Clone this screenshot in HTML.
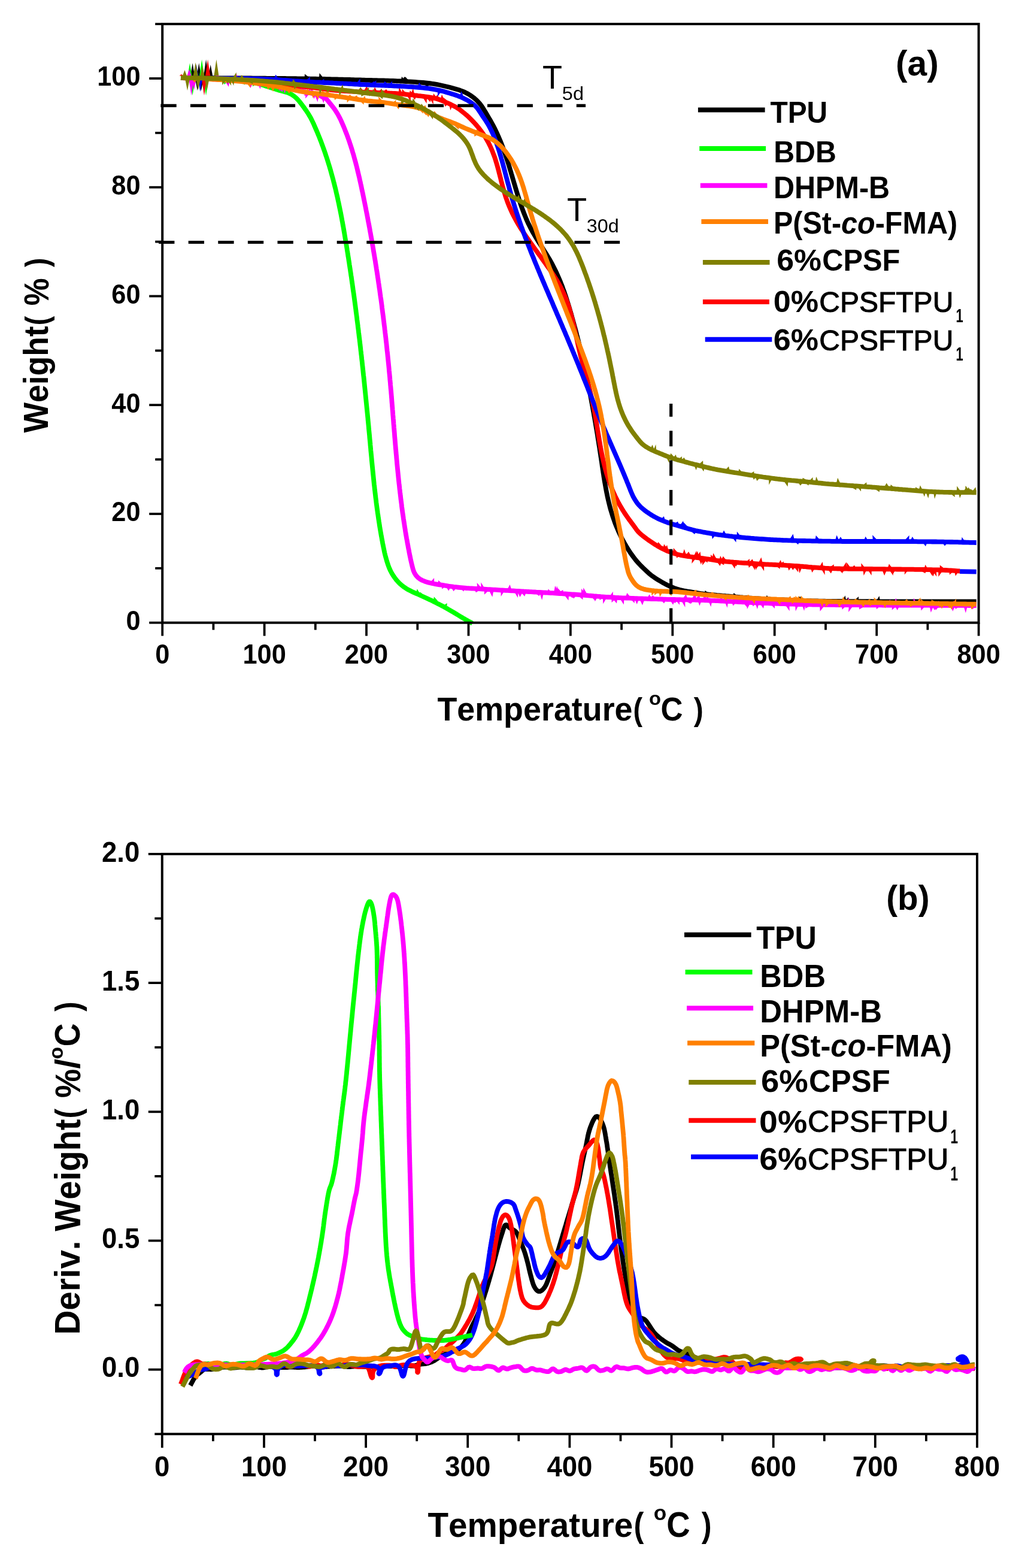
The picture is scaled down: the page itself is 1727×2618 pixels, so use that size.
<!DOCTYPE html>
<html><head><meta charset="utf-8"><style>
html,body{margin:0;padding:0;background:#fff;width:1727px;height:2618px;overflow:hidden}
svg{display:block}
text{font-kerning:none;font-feature-settings:'kern' 0;}
</style></head><body>
<svg width="1727" height="2618" viewBox="0 0 1727 2618">
<rect width="1727" height="2618" fill="#fff"/>
<path d="M302 130 L305 130 L308 130 L311 130 L314 130 L317 130.1 L320 130.1 L323 130.1 L326 130.1 L329 130.1 L332 130.1 L335 130.1 L338 130.1 L341 130.2 L344 130.2 L347 130.2 L350 130.2 L353 130.2 L356 130.2 L359 130.2 L362 130.3 L365 130.3 L368 130.3 L371 130.3 L374 130.3 L377 130.3 L380 130.3 L383 130.4 L386 130.4 L389 130.4 L392 130.4 L395 130.4 L398 130.4 L401 130.4 L404 130.5 L407 130.5 L410 130.5 L413 130.5 L416 130.5 L419 130.5 L422 130.6 L425 130.6 L428 130.6 L431 130.6 L434 130.7 L437 130.7 L440 130.7 L443 130.7 L446 130.8 L449 130.8 L452 130.8 L455 130.8 L458 130.9 L461 130.9 L464 130.9 L467 130.9 L470 131 L473 131 L476 131 L479 131.1 L482 131.1 L485 131.1 L488 131.2 L491 131.2 L494 131.2 L497 131.3 L500 131.3 L503 131.3 L506 131.4 L509 131.4 L512 131.5 L515 131.5 L518 131.6 L521 131.6 L524 131.7 L527 131.7 L530 131.8 L533 131.8 L536 131.9 L539 131.9 L542 132 L545 132.1 L548 132.1 L551 132.2 L554 132.3 L557 132.3 L560 132.4 L563 132.5 L566 132.6 L569 132.6 L572 132.7 L575 132.8 L578 132.9 L581 133 L584 133 L587 133.1 L590 133.2 L593 133.3 L596 133.4 L599 133.4 L602 133.5 L605 133.6 L608 133.7 L611 133.8 L614 133.8 L617 133.9 L620 134 L623 134.1 L626 134.2 L629 134.2 L632 134.3 L635 134.4 L638 134.4 L641 134.5 L644 134.6 L647 134.7 L651.5 134.8 L656 134.9 L660.5 135.1 L663.4 135.3 L666.4 135.4 L669.4 135.5 L672.4 135.7 L675.4 135.8 L678.4 136 L681.4 136.2 L684.4 136.3 L688.9 136.6 L693.4 136.9 L697.9 137.3 L702.4 137.6 L706.9 138 L711.3 138.5 L715.8 139 L720.3 139.5 L724.7 140.2 L729.2 140.9 L733.6 141.8 L738 142.7 L742.4 143.7 L746.7 144.7 L751.1 145.8 L755.5 147 L759.8 148.2 L764.1 149.4 L768.4 150.8 L772.6 152.3 L776.7 154.1 L780.7 156.2 L784.6 158.5 L788.3 161 L791.9 163.7 L795.3 166.6 L798.4 169.8 L801.4 173.2 L804.1 176.7 L806.6 180.5 L809 184.3 L811.3 188.1 L813.6 192 L815.9 195.9 L818.2 199.7 L820.4 203.7 L822.6 207.6 L824.7 211.6 L826.7 215.6 L828.7 219.7 L830.6 223.7 L832.4 227.8 L834.2 232 L835.9 236.1 L837.6 240.3 L839.2 244.5 L840.8 248.7 L842.3 253 L843.8 257.2 L845.2 261.5 L846.6 265.7 L848 270 L849.4 274.3 L850.7 278.6 L851.5 281.5 L852.4 284.4 L853.3 287.2 L854.1 290.1 L855 293 L855.8 295.9 L856.6 298.8 L857.5 301.6 L858.3 304.5 L859.2 307.4 L860 310.3 L860.9 313.1 L861.7 316 L862.6 318.9 L863.9 323.2 L865.2 327.5 L866.6 331.8 L868 336.1 L869.4 340.3 L870.9 344.6 L872.4 348.8 L874 353 L875.6 357.2 L877.3 361.4 L879 365.6 L880.8 369.7 L882.7 373.8 L884.7 377.8 L886.7 381.8 L888.8 385.8 L891 389.7 L893.3 393.6 L895.6 397.5 L898 401.3 L900.4 405.1 L902 407.6 L903.6 410.2 L905.2 412.7 L906.8 415.2 L908.4 417.8 L910.8 421.6 L913.2 425.4 L915.5 429.2 L917.8 433.1 L920 437 L922.2 441 L924.3 445 L926.3 449 L928.3 453 L930.2 457.1 L932 461.2 L933.8 465.3 L935.6 469.5 L937.2 473.6 L938.9 477.8 L940.4 482.1 L942 486.3 L943.4 490.5 L944.9 494.8 L946.3 499.1 L947.6 503.4 L949 507.7 L950.3 512 L951.6 516.3 L952.4 519.2 L953.3 522 L954.1 524.9 L954.9 527.8 L955.7 530.7 L956.5 533.6 L957.3 536.5 L958.1 539.4 L958.9 542.3 L959.7 545.2 L960.5 548.1 L961.3 551 L962 553.9 L962.8 556.8 L963.5 559.7 L964.3 562.6 L965 565.5 L965.8 568.4 L966.5 571.3 L967.2 574.2 L967.9 577.1 L968.6 580 L969.4 583 L970.1 585.9 L970.8 588.8 L971.4 591.7 L972.1 594.6 L972.8 597.5 L973.5 600.5 L974.1 603.4 L974.8 606.3 L975.5 609.2 L976.1 612.2 L976.8 615.1 L977.4 618 L978 621 L978.7 623.9 L979.3 626.8 L979.9 629.8 L980.5 632.7 L981.2 635.6 L981.8 638.6 L982.4 641.5 L983 644.5 L983.6 647.4 L984.1 650.3 L984.7 653.3 L985.3 656.2 L985.9 659.2 L986.4 662.1 L987 665.1 L987.6 668 L988.1 671 L988.7 673.9 L989.2 676.9 L989.8 679.8 L990.3 682.8 L990.8 685.7 L991.4 688.7 L991.9 691.6 L992.4 694.6 L993 697.5 L993.5 700.5 L994 703.4 L994.5 706.4 L995 709.4 L995.5 712.3 L996 715.3 L996.5 718.2 L997 721.2 L997.5 724.1 L998 727.1 L998.4 730.1 L998.9 733 L999.4 736 L999.9 739 L1000.3 741.9 L1000.8 744.9 L1001.3 747.8 L1001.7 750.8 L1002.2 753.8 L1002.6 756.7 L1003.1 759.7 L1003.5 762.7 L1004 765.6 L1004.4 768.6 L1004.9 771.6 L1005.3 774.5 L1005.7 777.5 L1006.2 780.5 L1006.6 783.4 L1007.1 786.4 L1007.5 789.4 L1008 792.3 L1008.4 795.3 L1008.9 798.3 L1009.6 802.7 L1010.4 807.1 L1011.2 811.6 L1012 816 L1012.8 820.4 L1013.7 824.8 L1014.6 829.2 L1015.6 833.6 L1016.6 838 L1017.7 842.4 L1018.8 846.7 L1020 851.1 L1021.3 855.4 L1022.6 859.7 L1024 864 L1025.5 868.2 L1027 872.5 L1028.6 876.7 L1030.3 880.8 L1032.1 885 L1033.9 889.1 L1035.8 893.1 L1037.8 897.2 L1039.9 901.2 L1042 905.1 L1044.2 909.1 L1046.5 912.9 L1048.9 916.8 L1051.3 920.5 L1053.8 924.3 L1056.4 927.9 L1059.1 931.5 L1061.9 935.1 L1064.8 938.5 L1067.9 941.8 L1071 945.1 L1074.2 948.2 L1077.4 951.3 L1080.7 954.4 L1084 957.4 L1087.5 960.3 L1091.1 962.9 L1094.8 965.5 L1098.6 967.9 L1102.5 970.2 L1106.4 972.5 L1110.3 974.6 L1114.3 976.7 L1118.4 978.6 L1122.5 980.4 L1126.7 982.1 L1130.9 983.5 L1135.2 984.8 L1139.6 985.8 L1144 986.7 L1148.5 987.5 L1152.9 988.2 L1157.3 988.9 L1161.8 989.7 L1166.2 990.3 L1170.7 991 L1175.1 991.6 L1179.6 992.1 L1184.1 992.6 L1188.6 993.1 L1193 993.5 L1197.5 993.9 L1200.5 994.1 L1203.5 994.4 L1206.5 994.7 L1209.5 994.9 L1212.5 995.2 L1215.5 995.4 L1218.4 995.7 L1221.4 996 L1224.4 996.2 L1227.4 996.5 L1230.4 996.7 L1233.4 997 L1236.4 997.3 L1239.4 997.5 L1242.3 997.8 L1245.3 998 L1248.3 998.2 L1251.3 998.5 L1254.3 998.7 L1257.3 998.9 L1260.3 999.1 L1263.3 999.3 L1266.3 999.5 L1269.3 999.7 L1272.3 999.9 L1275.3 1000.1 L1278.3 1000.2 L1281.3 1000.4 L1284.3 1000.5 L1287.3 1000.7 L1290.3 1000.8 L1293.2 1000.9 L1296.2 1001 L1299.2 1001.2 L1302.2 1001.3 L1305.2 1001.4 L1308.2 1001.5 L1311.2 1001.6 L1314.2 1001.7 L1317.2 1001.8 L1320.2 1001.9 L1323.2 1002 L1326.2 1002.1 L1329.2 1002.2 L1332.2 1002.4 L1335.2 1002.5 L1338.2 1002.6 L1341.2 1002.7 L1344.2 1002.9 L1347.2 1003 L1350.2 1003.1 L1353.2 1003.2 L1356.2 1003.3 L1359.2 1003.4 L1362.2 1003.5 L1365.2 1003.5 L1368.2 1003.6 L1371.2 1003.6 L1374.2 1003.7 L1377.2 1003.7 L1380.2 1003.8 L1383.2 1003.8 L1386.2 1003.9 L1389.2 1003.9 L1392.2 1003.9 L1395.2 1004 L1398.2 1004 L1401.2 1004 L1404.2 1004 L1407.2 1004 L1410.2 1004.1 L1413.2 1004.1 L1416.2 1004.1 L1419.2 1004.1 L1422.2 1004.1 L1425.2 1004.1 L1428.2 1004.2 L1431.2 1004.2 L1434.2 1004.2 L1437.2 1004.2 L1440.2 1004.2 L1443.2 1004.2 L1446.2 1004.2 L1449.2 1004.2 L1452.2 1004.2 L1455.2 1004.2 L1458.2 1004.3 L1461.2 1004.3 L1464.2 1004.3 L1467.2 1004.3 L1470.2 1004.3 L1473.2 1004.3 L1476.2 1004.3 L1479.2 1004.3 L1482.2 1004.3 L1485.2 1004.3 L1488.2 1004.3 L1491.2 1004.3 L1494.2 1004.3 L1497.2 1004.3 L1500.2 1004.3 L1503.2 1004.4 L1506.2 1004.4 L1509.2 1004.4 L1512.2 1004.4 L1515.2 1004.4 L1518.2 1004.4 L1521.2 1004.4 L1524.2 1004.4 L1527.2 1004.4 L1530.2 1004.4 L1533.2 1004.4 L1536.2 1004.4 L1539.2 1004.4 L1542.2 1004.4 L1545.2 1004.4 L1548.2 1004.4 L1551.2 1004.4 L1554.2 1004.4 L1557.2 1004.4 L1560.2 1004.4 L1563.2 1004.4 L1566.2 1004.4 L1569.2 1004.4 L1572.2 1004.4 L1575.2 1004.4 L1578.2 1004.4 L1581.2 1004.4 L1584.2 1004.4 L1587.2 1004.4 L1590.2 1004.4 L1593.2 1004.5 L1596.2 1004.5 L1599.2 1004.5 L1602.2 1004.5 L1605.2 1004.5 L1608.2 1004.5 L1611.2 1004.5 L1614.2 1004.5 L1617.2 1004.5 L1620.2 1004.5 L1623.2 1004.5 L1626.2 1004.5 L1629.2 1004.5 L1630.7 1004.5" stroke="#000000" stroke-width="7.8" fill="none" stroke-linejoin="round" stroke-linecap="butt"/>
<path d="M508.8 128.4 L515.2 128.4 L508.9 123.5 Z M517.9 134.7 L524.1 134.7 L517.6 137.9 Z M533 128.8 L539 128.8 L533.6 122.1 Z M670.1 132.6 L674.8 132.6 L671 127.7 Z M672.2 132.7 L678.7 132.7 L675.6 128.1 Z M675.7 132.9 L681.2 132.9 L677 128.1 Z M710.5 141.8 L716.7 141.8 L712.2 148.6 Z M1177.4 989 L1181.8 989 L1177.2 985.7 Z M1224.7 993.4 L1230.1 993.4 L1225.4 989.9 Z M1279 997.3 L1283.5 997.3 L1280.8 993.9 Z M1323 1005.2 L1329.5 1005.2 L1324.7 1009.1 Z M1331.9 999.4 L1338.5 999.4 L1336.3 995.7 Z M1407.7 1001 L1412.7 1001 L1411.8 994.2 Z M1414 1001 L1418.4 1001 L1416.6 997 Z M1428.5 1001.1 L1433.9 1001.1 L1434.2 995.9 Z M1440.8 1007.3 L1445.6 1007.3 L1441.2 1012.4 Z M1464.8 1001.2 L1469.6 1001.2 L1468.6 995.1 Z M1544.9 1007.5 L1551.5 1007.5 L1549 1011.1 Z" fill="#000000"/>
<path d="M302 130 L305 130.1 L308 130.2 L311 130.3 L314 130.4 L317 130.5 L320 130.6 L323 130.7 L326 130.8 L329 130.9 L332 131 L335 131.1 L338 131.2 L341 131.3 L344 131.4 L347 131.6 L350 131.7 L353 131.8 L356 131.9 L359 132 L362 132.1 L365 132.3 L368 132.4 L371 132.5 L374 132.7 L377 132.8 L380 133 L383 133.2 L386 133.4 L389 133.6 L392 133.8 L395 134 L398 134.3 L401 134.6 L404 134.9 L407 135.2 L410 135.6 L412.9 136 L415.9 136.4 L418.9 136.9 L421.8 137.4 L424.8 138 L427.7 138.7 L430.6 139.5 L433.5 140.3 L436.3 141.2 L439.2 142.1 L442.1 143 L444.9 144 L447.8 144.9 L450.6 145.8 L453.5 146.7 L456.3 147.7 L459.2 148.6 L462.1 149.5 L464.9 150.4 L467.8 151.2 L470.7 151.9 L473.6 152.7 L478 153.9 L482.2 155.4 L486.2 157.3 L490 159.7 L493.5 162.5 L496.7 165.6 L499.7 169 L502.5 172.5 L504.3 174.9 L506.1 177.3 L507.9 179.7 L509.6 182.2 L511.3 184.6 L513 187.1 L514.7 189.6 L516.2 192.2 L518.5 196.1 L519.9 198.7 L521.2 201.4 L522.5 204.1 L523.8 206.8 L525 209.6 L526.2 212.3 L527.4 215.1 L528.6 217.8 L529.8 220.6 L530.9 223.4 L532.1 226.2 L533.2 228.9 L534.3 231.7 L535.4 234.5 L536.5 237.3 L537.5 240.2 L538.6 243 L539.6 245.8 L540.6 248.6 L541.6 251.4 L542.6 254.3 L543.6 257.1 L544.5 260 L545.5 262.8 L546.4 265.7 L547.3 268.5 L548.2 271.4 L549.1 274.3 L550 277.2 L550.8 280 L551.7 282.9 L552.5 285.8 L553.3 288.7 L554.1 291.6 L554.9 294.5 L555.7 297.4 L556.5 300.3 L557.2 303.2 L558 306.1 L558.7 309 L559.4 311.9 L560.2 314.8 L560.9 317.8 L561.5 320.7 L562.2 323.6 L562.9 326.5 L563.6 329.5 L564.2 332.4 L564.8 335.3 L565.5 338.3 L566.1 341.2 L566.7 344.2 L567.3 347.1 L567.9 350 L568.5 353 L569.1 355.9 L569.7 358.9 L570.2 361.8 L570.8 364.8 L571.3 367.7 L571.9 370.7 L572.4 373.6 L572.9 376.6 L573.5 379.6 L574 382.5 L574.5 385.5 L575 388.4 L575.5 391.4 L576 394.4 L576.5 397.3 L577 400.3 L577.5 403.2 L578 406.2 L578.5 409.2 L579 412.1 L579.5 415.1 L579.9 418.1 L580.4 421 L580.9 424 L581.3 427 L581.8 429.9 L582.3 432.9 L582.7 435.9 L583.2 438.8 L583.6 441.8 L584.1 444.8 L584.5 447.7 L585 450.7 L585.4 453.7 L585.9 456.7 L586.3 459.6 L586.8 462.6 L587.2 465.6 L587.6 468.5 L588 471.5 L588.5 474.5 L588.9 477.5 L589.3 480.4 L589.7 483.4 L590.1 486.4 L590.6 489.4 L591 492.3 L591.4 495.3 L591.8 498.3 L592.2 501.3 L592.6 504.2 L593 507.2 L593.4 510.2 L593.8 513.2 L594.2 516.2 L594.5 519.1 L594.9 522.1 L595.3 525.1 L595.7 528.1 L596.1 531.1 L596.4 534 L596.8 537 L597.2 540 L597.6 543 L597.9 546 L598.3 548.9 L598.7 551.9 L599 554.9 L599.4 557.9 L599.7 560.9 L600.1 563.8 L600.5 566.8 L600.8 569.8 L601.2 572.8 L601.5 575.8 L601.9 578.8 L602.2 581.7 L602.5 584.7 L602.9 587.7 L603.2 590.7 L603.6 593.7 L603.9 596.7 L604.2 599.7 L604.6 602.6 L604.9 605.6 L605.2 608.6 L605.5 611.6 L605.9 614.6 L606.2 617.6 L606.5 620.6 L606.8 623.5 L607.1 626.5 L607.5 629.5 L607.8 632.5 L608.1 635.5 L608.4 638.5 L608.7 641.5 L609 644.5 L609.3 647.4 L609.6 650.4 L609.9 653.4 L610.2 656.4 L610.5 659.4 L610.8 662.4 L611.1 665.4 L611.4 668.4 L611.7 671.3 L612 674.3 L612.3 677.3 L612.6 680.3 L612.9 683.3 L613.2 686.3 L613.5 689.3 L613.8 692.3 L614.1 695.3 L614.4 698.3 L614.6 701.2 L614.9 704.2 L615.2 707.2 L615.5 710.2 L615.8 713.2 L616 716.2 L616.3 719.2 L616.6 722.2 L616.9 725.2 L617.2 728.2 L617.4 731.2 L617.7 734.1 L618 737.1 L618.3 740.1 L618.5 743.1 L618.8 746.1 L619.1 749.1 L619.3 752.1 L619.6 755.1 L619.9 758.1 L620.2 761.1 L620.5 764.1 L620.7 767 L621 770 L621.3 773 L621.6 776 L621.9 779 L622.2 782 L622.5 785 L622.8 788 L623.1 791 L623.4 793.9 L623.7 796.9 L624 799.9 L624.3 802.9 L624.6 805.9 L624.9 808.9 L625.3 811.9 L625.6 814.9 L625.9 817.8 L626.3 820.8 L626.6 823.8 L627 826.8 L627.3 829.8 L627.7 832.8 L628.1 835.7 L628.4 838.7 L628.8 841.7 L629.2 844.7 L629.6 847.7 L630 850.6 L630.4 853.6 L630.8 856.6 L631.3 859.6 L631.7 862.5 L632.1 865.5 L632.6 868.5 L633 871.4 L633.5 874.4 L633.9 877.4 L634.4 880.3 L634.9 883.3 L635.4 886.3 L635.9 889.2 L636.4 892.2 L636.9 895.1 L637.5 898.1 L638 901.1 L638.6 904 L639.1 907 L639.7 909.9 L640.3 912.9 L640.9 915.8 L641.5 918.7 L642.4 923.1 L643.5 927.5 L644.3 930.4 L645.1 933.3 L645.9 936.2 L646.8 939 L647.7 941.9 L648.7 944.7 L650.3 948.9 L652.2 953 L654.3 957 L656.6 960.8 L659.2 964.5 L661.9 968.1 L664.9 971.5 L668.1 974.7 L671.5 977.6 L675 980.3 L678.8 982.8 L682.7 985.1 L686.7 987.1 L689.4 988.4 L692.1 989.6 L694.9 990.8 L697.6 992 L700.4 993.2 L703.1 994.5 L705.8 995.7 L708.6 997 L711.3 998.2 L714 999.5 L716.7 1000.8 L719.5 1002 L722.2 1003.3 L724.9 1004.7 L727.6 1006 L730.2 1007.4 L732.9 1008.7 L735.6 1010.1 L738.2 1011.5 L740.9 1012.9 L743.5 1014.4 L746.1 1015.8 L748.8 1017.3 L751.4 1018.8 L754 1020.3 L756.6 1021.8 L759.1 1023.4 L761.7 1024.9 L764.3 1026.5 L766.8 1028 L769.4 1029.6 L772 1031.1 L774.6 1032.7 L777.2 1034.2 L779.8 1035.6 L782.4 1037.1 L785 1038.5 L787.7 1040 L789 1040.7" stroke="#00ff00" stroke-width="7.8" fill="none" stroke-linejoin="round" stroke-linecap="butt"/>
<path d="M368.6 129.4 L373.5 129.4 L372.9 126.6 Z M374 135.9 L380.1 135.9 L374.5 141.2 Z M404.8 138.3 L409.2 138.3 L408.6 141.7 Z M419.1 134.3 L424.5 134.3 L424 128.8 Z M421.9 141.1 L427.6 141.1 L422 144.2 Z M425 135.6 L430.4 135.6 L425.3 129.1 Z M695.1 988.9 L700.1 988.9 L696.7 983.3 Z M700.7 991.4 L705.5 991.4 L701.9 988.4 Z M724.1 1002.9 L731 1002.9 L724.8 996.3 Z M740.4 1011.3 L746.7 1011.3 L746.6 1007 Z" fill="#00ff00"/>
<path d="M302 130 L305 130.1 L308 130.3 L311 130.4 L314 130.5 L317 130.6 L320 130.8 L323 130.9 L326 131 L329 131.1 L332 131.3 L335 131.4 L338 131.5 L341 131.6 L344 131.8 L347 131.9 L350 132 L353 132.2 L356 132.3 L359 132.4 L362 132.6 L365 132.7 L368 132.9 L371 133.1 L374 133.2 L377 133.4 L380 133.6 L383 133.8 L386 134 L388.9 134.2 L391.9 134.4 L394.9 134.6 L397.9 134.8 L400.9 135.1 L403.9 135.4 L406.9 135.7 L409.9 136 L412.9 136.3 L415.8 136.7 L418.8 137 L421.8 137.4 L424.8 137.8 L427.8 138.2 L430.7 138.6 L433.7 139 L436.7 139.4 L439.6 139.9 L442.6 140.4 L445.6 140.8 L448.5 141.3 L451.5 141.8 L454.5 142.3 L457.4 142.8 L460.4 143.3 L463.3 143.8 L466.3 144.4 L469.2 144.9 L472.2 145.4 L475.1 145.9 L478.1 146.5 L481 147.1 L484 147.7 L486.9 148.3 L489.9 148.9 L492.8 149.5 L495.7 150.1 L498.7 150.8 L501.6 151.4 L504.5 152.1 L507.5 152.8 L510.4 153.4 L513.3 154.1 L516.2 154.8 L519.2 155.4 L522.1 156.1 L525 156.8 L529.4 157.9 L533.7 159.1 L537.9 160.6 L541.8 162.7 L545.2 165.4 L548.1 168.7 L550.9 172.2 L553.7 175.7 L556.5 179.2 L559.2 182.9 L561.6 186.6 L564 190.5 L566.1 194.4 L568.2 198.4 L569.5 201.1 L570.7 203.9 L571.9 206.6 L573.1 209.4 L574.3 212.1 L575.4 214.9 L576.5 217.7 L577.6 220.5 L578.7 223.3 L579.8 226.1 L580.8 228.9 L581.8 231.7 L582.8 234.6 L583.8 237.4 L584.7 240.3 L585.7 243.1 L586.6 246 L587.5 248.8 L588.4 251.7 L589.2 254.6 L590.1 257.4 L590.9 260.3 L591.7 263.2 L592.5 266.1 L593.3 269 L594.1 271.9 L594.8 274.8 L595.6 277.7 L596.3 280.6 L597 283.5 L597.7 286.5 L598.4 289.4 L599.1 292.3 L599.8 295.2 L600.5 298.2 L601.1 301.1 L601.8 304 L602.4 306.9 L603.1 309.9 L603.7 312.8 L604.3 315.8 L604.9 318.7 L605.6 321.6 L606.2 324.6 L606.8 327.5 L607.4 330.4 L608 333.4 L608.6 336.3 L609.2 339.3 L609.8 342.2 L610.4 345.2 L611 348.1 L611.5 351 L612.1 354 L612.7 356.9 L613.3 359.9 L613.8 362.8 L614.4 365.8 L614.9 368.7 L615.5 371.7 L616.1 374.6 L616.6 377.6 L617.2 380.5 L617.7 383.5 L618.2 386.4 L618.8 389.4 L619.3 392.3 L619.8 395.3 L620.4 398.3 L620.9 401.2 L621.4 404.2 L621.9 407.1 L622.4 410.1 L622.9 413 L623.4 416 L623.9 419 L624.4 421.9 L624.9 424.9 L625.4 427.8 L625.9 430.8 L626.4 433.8 L626.9 436.7 L627.3 439.7 L627.8 442.7 L628.3 445.6 L628.7 448.6 L629.2 451.6 L629.7 454.5 L630.1 457.5 L630.6 460.5 L631 463.4 L631.5 466.4 L631.9 469.4 L632.3 472.3 L632.8 475.3 L633.2 478.3 L633.6 481.2 L634.1 484.2 L634.5 487.2 L634.9 490.2 L635.3 493.1 L635.7 496.1 L636.2 499.1 L636.6 502.1 L637 505 L637.4 508 L637.8 511 L638.1 514 L638.5 516.9 L638.9 519.9 L639.3 522.9 L639.7 525.9 L640.1 528.8 L640.4 531.8 L640.8 534.8 L641.2 537.8 L641.5 540.8 L641.9 543.7 L642.3 546.7 L642.6 549.7 L643 552.7 L643.3 555.7 L643.7 558.6 L644 561.6 L644.4 564.6 L644.7 567.6 L645 570.6 L645.4 573.6 L645.7 576.5 L646 579.5 L646.3 582.5 L646.6 585.5 L647 588.5 L647.3 591.5 L647.6 594.5 L647.9 597.4 L648.2 600.4 L648.5 603.4 L648.8 606.4 L649.1 609.4 L649.4 612.4 L649.7 615.4 L649.9 618.3 L650.2 621.3 L650.5 624.3 L650.8 627.3 L651.1 630.3 L651.3 633.3 L651.6 636.3 L651.9 639.3 L652.1 642.3 L652.4 645.3 L652.6 648.2 L652.9 651.2 L653.2 654.2 L653.4 657.2 L653.7 660.2 L653.9 663.2 L654.2 666.2 L654.4 669.2 L654.6 672.2 L654.9 675.2 L655.1 678.2 L655.4 681.2 L655.6 684.1 L655.9 687.1 L656.1 690.1 L656.3 693.1 L656.6 696.1 L656.8 699.1 L657.1 702.1 L657.3 705.1 L657.5 708.1 L657.8 711.1 L658 714.1 L658.3 717.1 L658.5 720 L658.8 723 L659 726 L659.2 729 L659.5 732 L659.7 735 L660 738 L660.2 741 L660.5 744 L660.7 747 L661 750 L661.3 753 L661.5 755.9 L661.8 758.9 L662.1 761.9 L662.3 764.9 L662.6 767.9 L662.9 770.9 L663.1 773.9 L663.4 776.9 L663.7 779.9 L664 782.8 L664.3 785.8 L664.6 788.8 L664.9 791.8 L665.2 794.8 L665.5 797.8 L665.8 800.8 L666.1 803.8 L666.4 806.7 L666.8 809.7 L667.1 812.7 L667.4 815.7 L667.8 818.7 L668.1 821.7 L668.5 824.6 L668.8 827.6 L669.2 830.6 L669.5 833.6 L669.9 836.6 L670.3 839.5 L670.7 842.5 L671 845.5 L671.4 848.5 L671.8 851.4 L672.2 854.4 L672.6 857.4 L673.1 860.4 L673.5 863.3 L673.9 866.3 L674.4 869.3 L674.8 872.2 L675.3 875.2 L675.7 878.2 L676.2 881.1 L676.7 884.1 L677.1 887.1 L677.6 890 L678.1 893 L678.6 895.9 L679.1 898.9 L679.7 901.9 L680.2 904.8 L680.7 907.8 L681.3 910.7 L681.8 913.7 L682.4 916.6 L683 919.6 L683.5 922.5 L684.1 925.5 L684.7 928.4 L685.3 931.3 L686.2 935.7 L686.9 938.7 L687.6 941.6 L688.3 944.5 L689.4 948.9 L690.7 953.1 L692.5 957.2 L694.9 960.9 L697.9 964.2 L701.4 966.8 L705.3 969 L709.5 970.7 L713.7 972.1 L718.1 973.2 L722.5 974.2 L725.4 974.8 L728.4 975.3 L731.3 975.8 L734.3 976.3 L737.3 976.7 L740.2 977.2 L743.2 977.7 L746.1 978.1 L749.1 978.6 L752.1 979 L755.1 979.4 L758 979.8 L761 980.1 L764 980.5 L767 980.8 L770 981.1 L773 981.4 L775.9 981.7 L778.9 982 L781.9 982.2 L784.9 982.4 L787.9 982.5 L790.9 982.7 L793.9 982.9 L796.9 983 L799.9 983.2 L802.9 983.4 L805.9 983.5 L808.9 983.7 L811.9 983.9 L814.9 984.1 L817.9 984.2 L820.9 984.4 L823.9 984.6 L826.9 984.7 L829.9 984.9 L832.9 985.1 L835.9 985.3 L838.9 985.4 L841.9 985.6 L844.9 985.8 L847.9 985.9 L850.9 986.1 L853.9 986.3 L856.9 986.4 L859.8 986.6 L862.8 986.8 L865.8 986.9 L868.8 987.1 L871.8 987.3 L874.8 987.5 L877.8 987.6 L880.8 987.8 L883.8 988 L886.8 988.1 L889.8 988.3 L892.8 988.5 L895.8 988.7 L898.8 988.8 L901.8 989 L904.8 989.2 L907.8 989.4 L910.8 989.5 L913.8 989.7 L916.8 989.9 L919.8 990.1 L922.8 990.2 L925.8 990.4 L928.8 990.6 L931.8 990.8 L934.8 991 L937.8 991.1 L940.8 991.3 L943.8 991.5 L946.8 991.7 L949.7 991.9 L952.7 992.1 L955.7 992.3 L958.7 992.5 L961.7 992.7 L964.7 992.9 L967.7 993.1 L970.7 993.4 L973.7 993.6 L976.7 993.9 L979.7 994.1 L982.7 994.4 L985.7 994.6 L988.7 994.9 L991.6 995.2 L994.6 995.4 L997.6 995.7 L1000.6 995.9 L1003.6 996.2 L1006.6 996.4 L1009.6 996.6 L1012.6 996.8 L1015.6 997 L1018.6 997.2 L1021.6 997.4 L1024.6 997.5 L1027.6 997.7 L1030.6 997.8 L1033.6 998 L1036.6 998.1 L1039.6 998.3 L1042.6 998.4 L1045.6 998.5 L1048.6 998.6 L1051.6 998.7 L1054.6 998.9 L1057.6 999 L1060.6 999.1 L1063.6 999.2 L1066.6 999.3 L1069.6 999.4 L1072.6 999.5 L1075.6 999.6 L1078.6 999.7 L1081.6 999.8 L1084.6 999.9 L1087.6 1000 L1090.6 1000.1 L1093.6 1000.1 L1096.6 1000.2 L1099.6 1000.3 L1102.6 1000.4 L1105.6 1000.5 L1108.6 1000.6 L1111.6 1000.7 L1114.6 1000.8 L1117.6 1000.8 L1120.6 1000.9 L1123.6 1001 L1126.6 1001 L1129.6 1001.1 L1132.6 1001.1 L1135.6 1001.2 L1138.6 1001.3 L1141.6 1001.3 L1144.6 1001.4 L1147.6 1001.4 L1150.6 1001.5 L1153.6 1001.6 L1156.6 1001.7 L1159.6 1001.7 L1162.6 1001.8 L1165.6 1001.9 L1168.6 1002 L1171.6 1002.1 L1174.6 1002.2 L1177.6 1002.3 L1180.6 1002.4 L1183.6 1002.5 L1186.6 1002.7 L1189.6 1002.8 L1192.6 1002.9 L1195.6 1003.1 L1198.6 1003.2 L1201.6 1003.3 L1204.6 1003.5 L1207.6 1003.6 L1210.6 1003.8 L1213.6 1003.9 L1216.6 1004.1 L1219.6 1004.2 L1222.6 1004.4 L1225.6 1004.5 L1228.6 1004.7 L1231.6 1004.8 L1234.6 1005 L1237.6 1005.1 L1240.6 1005.3 L1243.6 1005.4 L1246.5 1005.6 L1249.5 1005.7 L1252.5 1005.9 L1255.5 1006 L1258.5 1006.2 L1261.5 1006.3 L1264.5 1006.5 L1267.5 1006.6 L1270.5 1006.7 L1273.5 1006.9 L1276.5 1007 L1279.5 1007.1 L1282.5 1007.2 L1285.5 1007.4 L1288.5 1007.5 L1291.5 1007.6 L1294.5 1007.7 L1297.5 1007.8 L1300.5 1007.9 L1303.5 1008 L1306.5 1008.1 L1309.5 1008.2 L1312.5 1008.3 L1315.5 1008.4 L1318.5 1008.5 L1321.5 1008.6 L1324.5 1008.7 L1327.5 1008.8 L1330.5 1008.9 L1333.5 1009 L1336.5 1009 L1339.5 1009.1 L1342.5 1009.2 L1345.5 1009.2 L1348.5 1009.3 L1351.5 1009.4 L1354.5 1009.4 L1357.5 1009.5 L1360.5 1009.5 L1363.5 1009.6 L1366.5 1009.6 L1369.5 1009.6 L1372.6 1009.7 L1375.6 1009.7 L1378.6 1009.8 L1381.6 1009.8 L1384.6 1009.8 L1387.6 1009.9 L1390.6 1009.9 L1393.6 1009.9 L1396.6 1010 L1399.6 1010 L1402.6 1010 L1405.6 1010 L1408.6 1010.1 L1411.6 1010.1 L1414.6 1010.1 L1417.6 1010.1 L1420.6 1010.2 L1423.6 1010.2 L1426.6 1010.2 L1429.6 1010.2 L1432.6 1010.2 L1435.6 1010.3 L1438.6 1010.3 L1441.6 1010.3 L1444.6 1010.3 L1447.6 1010.3 L1450.6 1010.3 L1453.6 1010.4 L1456.6 1010.4 L1459.6 1010.4 L1462.6 1010.4 L1465.6 1010.4 L1468.6 1010.4 L1471.6 1010.4 L1474.6 1010.5 L1477.6 1010.5 L1480.6 1010.5 L1483.6 1010.5 L1486.6 1010.5 L1489.6 1010.5 L1492.6 1010.5 L1495.6 1010.5 L1498.6 1010.6 L1501.6 1010.6 L1504.6 1010.6 L1507.6 1010.6 L1510.6 1010.6 L1513.6 1010.6 L1516.6 1010.6 L1519.6 1010.6 L1522.6 1010.6 L1525.6 1010.7 L1528.6 1010.7 L1531.6 1010.7 L1534.6 1010.7 L1537.6 1010.7 L1540.6 1010.7 L1543.6 1010.7 L1546.7 1010.7 L1549.7 1010.7 L1552.7 1010.7 L1555.7 1010.8 L1558.7 1010.8 L1561.7 1010.8 L1564.7 1010.8 L1567.7 1010.8 L1570.7 1010.8 L1573.7 1010.8 L1576.7 1010.8 L1579.7 1010.8 L1582.7 1010.8 L1585.7 1010.8 L1588.7 1010.9 L1591.7 1010.9 L1594.7 1010.9 L1597.7 1010.9 L1600.7 1010.9 L1603.7 1010.9 L1606.7 1010.9 L1609.7 1010.9 L1612.7 1010.9 L1615.7 1010.9 L1618.7 1011 L1621.7 1011 L1624.7 1011 L1627.7 1011 L1630.7 1011" stroke="#ff00ff" stroke-width="7.8" fill="none" stroke-linejoin="round" stroke-linecap="butt"/>
<path d="M359.5 129.5 L364.5 129.5 L361.6 123 Z M362.5 129.6 L367.5 129.6 L362.9 122.6 Z M376.7 136.7 L383.2 136.7 L381.9 145.1 Z M391.6 131.5 L398.2 131.5 L394.8 123.1 Z M416.2 140.1 L421.4 140.1 L418.4 146.9 Z M427.5 141.7 L433.9 141.7 L434.5 145.3 Z M431.4 142.1 L436 142.1 L434.7 148.8 Z M439.8 137.3 L445.4 137.3 L440.9 133.2 Z M446.2 138.2 L450.8 138.2 L448.5 131.2 Z M451.8 139.2 L457.1 139.2 L451.8 134.8 Z M454.3 139.7 L460.5 139.7 L460.6 130.2 Z M463 147.5 L469.6 147.5 L467.4 151.2 Z M465.9 148 L472.6 148 L471.7 153.7 Z M469.1 142.3 L475.3 142.3 L469.5 133.5 Z M472.8 149 L477.5 149 L475.8 156.1 Z M498.5 148.3 L504.7 148.3 L500.4 141.4 Z M508.1 156.5 L512.6 156.5 L508.9 160.5 Z M510.4 157.2 L516.2 157.2 L510.1 164.5 Z M514.1 151.7 L518.3 151.7 L518.7 146.5 Z M519.1 153 L525 153 L519.1 148.1 Z M522.9 159.9 L527.1 159.9 L524.2 165.3 Z M526.6 161 L532.1 161 L530.5 170.5 Z M532.4 162.9 L539.2 162.9 L537.7 165.9 Z M537.4 164.7 L542.3 164.7 L540.4 172.3 Z M719.7 971.1 L725.2 971.1 L725.1 964.9 Z M731.5 973.2 L737.1 973.2 L732.2 969 Z M737.9 980.3 L742.6 980.3 L738 983.4 Z M746.3 981.7 L751.9 981.7 L749.3 986.6 Z M755 982.9 L761.1 982.9 L757.5 987.2 Z M770.7 984.5 L775.3 984.5 L774.8 987.5 Z M793.5 986.1 L800.3 986.1 L794.9 989.3 Z M797.1 980.1 L802.8 980.1 L796.6 973 Z M803.5 980.4 L808.3 980.4 L803.3 972.3 Z M808.8 987 L815 987 L808.9 992.8 Z M817.6 987.5 L824.2 987.5 L822.3 996.8 Z M836.4 988.5 L841.3 988.5 L836.7 996 Z M847.9 983 L853.9 983 L851.6 976 Z M860.2 989.9 L865.5 989.9 L864.8 998.1 Z M865.4 990.2 L872.2 990.2 L868.4 997 Z M871.5 990.6 L878.2 990.6 L876.3 995.7 Z M896.1 991.9 L901.5 991.9 L900.8 995.3 Z M902.1 992.3 L907.5 992.3 L905.2 1002 Z M914.5 986.8 L919.1 986.8 L915.8 983.4 Z M925.4 987.5 L932.2 987.5 L927.1 977.9 Z M929.5 987.7 L934 987.7 L929.8 978.1 Z M932.4 987.9 L937.1 987.9 L932.1 982.3 Z M934.9 988 L940.7 988 L940.4 984.9 Z M943.5 994.8 L950 994.8 L949.5 1002.6 Z M952.9 995.4 L958.6 995.4 L955.9 998.6 Z M956 995.6 L961.4 995.6 L958.2 999.6 Z M967.8 996.5 L973.6 996.5 L973.5 1001.2 Z M970.7 990.5 L976.7 990.5 L971.2 982.7 Z M973.5 990.8 L979.9 990.8 L974.5 981.2 Z M989.4 998.3 L993.9 998.3 L992.7 1001.8 Z M992.2 998.5 L997.1 998.5 L993.7 1004.3 Z M1001.4 999.3 L1005.8 999.3 L1001.5 1002.1 Z M1006.9 999.7 L1012.3 999.7 L1007.3 1008.3 Z M1019.3 994.3 L1023.9 994.3 L1023.8 987.8 Z M1021.4 1000.6 L1027.7 1000.6 L1021.6 1006 Z M1024.2 1000.8 L1031 1000.8 L1030 1007.5 Z M1036.7 1001.4 L1042.4 1001.4 L1041.8 1009.5 Z M1045.4 995.5 L1051.8 995.5 L1047.3 990.1 Z M1054.9 1002.1 L1060.2 1002.1 L1059.7 1006.9 Z M1060.8 1002.3 L1066.3 1002.3 L1063.8 1009 Z M1069.2 1002.6 L1075.9 1002.6 L1073 1010.4 Z M1081.9 996.8 L1087.3 996.8 L1084.6 992.6 Z M1087.4 997 L1093.7 997 L1090.3 993.9 Z M1105.9 1003.7 L1111.3 1003.7 L1109 1007.6 Z M1120.4 1004.1 L1126.7 1004.1 L1124.1 1009.7 Z M1123.8 1004.1 L1129.3 1004.1 L1128 1007.2 Z M1130.3 1004.2 L1134.9 1004.2 L1135.1 1009.9 Z M1138.9 1004.4 L1144.3 1004.4 L1144.4 1014 Z M1141.4 998.3 L1147.8 998.3 L1145.7 991.9 Z M1147.2 1004.6 L1154 1004.6 L1153.6 1008.2 Z M1151.2 1004.7 L1156 1004.7 L1154.9 1007.7 Z M1156.4 998.6 L1162.8 998.6 L1161.3 989.1 Z M1162.5 998.8 L1168.7 998.8 L1169 992.1 Z M1166.1 1005.1 L1171 1005.1 L1168.4 1011.4 Z M1174.7 999.2 L1180.4 999.2 L1175.4 991.4 Z M1177.6 999.3 L1183.6 999.3 L1182.2 996.1 Z M1184.3 1005.8 L1188.9 1005.8 L1187.3 1013.3 Z M1202.1 1000.4 L1207 1000.4 L1204.7 996.4 Z M1211.4 1007 L1215.8 1007 L1214.7 1014.8 Z M1223.1 1007.6 L1228 1007.6 L1224.4 1011.6 Z M1228.8 1001.7 L1234.3 1001.7 L1229.8 993.7 Z M1234.4 1002 L1240.7 1002 L1237.3 993.5 Z M1243.3 1008.7 L1249.8 1008.7 L1247.3 1013.4 Z M1246.9 1008.8 L1252.2 1008.8 L1247.9 1017.1 Z M1250.3 1002.8 L1254.8 1002.8 L1254.6 995.1 Z M1256.3 1009.3 L1260.8 1009.3 L1257.8 1012.6 Z M1262.2 1009.6 L1266.9 1009.6 L1264.9 1017 Z M1270.8 1010 L1276.3 1010 L1275 1016 Z M1288.9 1010.7 L1294.1 1010.7 L1293.9 1015.9 Z M1312.6 1011.5 L1318.5 1011.5 L1318.7 1020.3 Z M1324.6 1005.7 L1330.4 1005.7 L1328.8 998.9 Z M1328.2 1012 L1332.9 1012 L1328.8 1020.5 Z M1331 1005.9 L1336.1 1005.9 L1336.4 1000.4 Z M1340.3 1012.3 L1344.7 1012.3 L1343.1 1019.9 Z M1345.5 1012.4 L1351.6 1012.4 L1345 1016.1 Z M1349 1006.3 L1354.1 1006.3 L1353.4 1003.3 Z M1369.2 1012.8 L1375.9 1012.8 L1369.6 1020.8 Z M1381.4 1006.7 L1387.7 1006.7 L1386.6 1003.6 Z M1405.7 1013.2 L1411.4 1013.2 L1406.6 1017.7 Z M1415.2 1007 L1420 1007 L1416.7 997.3 Z M1417.6 1013.3 L1423.6 1013.3 L1417.1 1021.9 Z M1435.1 1013.4 L1442 1013.4 L1435 1017.5 Z M1447.3 1007.2 L1453.9 1007.2 L1450.1 1002.8 Z M1459.9 1007.3 L1465.3 1007.3 L1463.6 1000.6 Z M1463.4 1013.5 L1467.9 1013.5 L1464 1017.2 Z M1477.6 1007.4 L1483.6 1007.4 L1479.9 1003.4 Z M1480.6 1007.4 L1486.7 1007.4 L1487 1001 Z M1484 1007.4 L1489.2 1007.4 L1486.1 1001.7 Z M1489.8 1013.6 L1495.4 1013.6 L1489.7 1018.5 Z M1492.4 1007.4 L1498.9 1007.4 L1496.5 998.8 Z M1495.9 1013.7 L1501.3 1013.7 L1498.7 1018.9 Z M1504.3 1007.5 L1511 1007.5 L1511.1 1003.9 Z M1525.5 1007.6 L1531.7 1007.6 L1525.8 998.7 Z M1537.8 1013.8 L1543.5 1013.8 L1538.6 1019.4 Z M1552.9 1013.9 L1558.4 1013.9 L1554.8 1022.7 Z M1558.2 1013.9 L1565.1 1013.9 L1560.6 1018.7 Z M1562.2 1013.9 L1567.1 1013.9 L1562.8 1019 Z M1565.2 1007.7 L1570.1 1007.7 L1568.5 1004.3 Z M1567.7 1007.7 L1573.6 1007.7 L1567.4 1003.1 Z M1589.1 1014 L1594.3 1014 L1591.2 1020.8 Z M1592.2 1007.8 L1597.1 1007.8 L1592.2 1003.2 Z M1595.3 1014 L1600 1014 L1596 1016.9 Z M1610.1 1014 L1615.3 1014 L1612.9 1023.6 Z M1621.7 1014.1 L1627.7 1014.1 L1624 1017.4 Z" fill="#ff00ff"/>
<path d="M302 130 L305 130.1 L308 130.2 L311 130.2 L314 130.3 L317 130.4 L320 130.5 L323 130.5 L326 130.6 L329 130.7 L332 130.8 L335 130.9 L338 131 L341 131.1 L344 131.2 L347 131.4 L350 131.5 L353 131.6 L356 131.8 L359 132 L362 132.1 L365 132.3 L368 132.5 L370.9 132.7 L373.9 132.9 L376.9 133.1 L379.9 133.3 L382.9 133.5 L385.9 133.7 L388.9 133.9 L391.9 134.1 L394.9 134.3 L397.9 134.6 L400.9 134.8 L403.9 135 L406.9 135.3 L409.8 135.5 L412.8 135.7 L415.8 136 L418.8 136.2 L421.8 136.5 L424.8 136.7 L427.8 137 L430.8 137.2 L433.8 137.5 L436.8 137.7 L439.7 138 L442.7 138.2 L445.7 138.5 L448.7 138.8 L451.7 139.1 L454.7 139.3 L457.7 139.6 L460.7 139.9 L463.6 140.2 L466.6 140.5 L469.6 140.8 L472.6 141.1 L475.6 141.4 L478.6 141.7 L481.6 142 L484.5 142.3 L487.5 142.6 L490.5 142.9 L493.5 143.2 L496.5 143.5 L499.5 143.8 L502.5 144.1 L505.4 144.5 L508.4 144.8 L511.4 145.1 L514.4 145.4 L517.4 145.7 L520.4 146 L523.3 146.4 L526.3 146.7 L529.3 147.1 L532.3 147.4 L535.2 147.8 L538.2 148.2 L541.2 148.6 L544.2 149 L547.1 149.4 L550.1 149.7 L553.1 150.1 L557.6 150.6 L560.6 150.8 L563.6 151.1 L566.5 151.3 L569.5 151.6 L572.5 151.8 L575.5 152 L578.5 152.2 L581.5 152.4 L584.5 152.5 L587.5 152.7 L590.5 152.9 L593.5 153 L596.5 153.2 L599.5 153.3 L602.5 153.5 L605.5 153.6 L608.5 153.8 L611.5 153.9 L614.5 154.1 L617.5 154.2 L620.5 154.3 L623.5 154.4 L626.5 154.6 L629.5 154.7 L632.5 154.8 L635.5 154.9 L638.5 155 L641.5 155.1 L644.5 155.2 L647.5 155.3 L650.4 155.5 L653.4 155.6 L656.4 155.8 L659.4 156 L662.4 156.2 L665.4 156.4 L668.4 156.7 L671.4 156.9 L674.4 157.2 L677.4 157.5 L680.4 157.8 L683.3 158.1 L686.3 158.4 L689.3 158.7 L692.3 159.1 L695.3 159.4 L698.2 159.8 L701.2 160.1 L704.2 160.5 L707.2 160.9 L710.2 161.3 L714.6 161.9 L719.1 162.6 L723.5 163.5 L727.8 164.5 L732.1 165.8 L736.4 167.3 L740.6 168.9 L744.7 170.7 L748.8 172.5 L752.9 174.4 L756.9 176.4 L760.9 178.5 L764.7 180.8 L768.4 183.4 L771.9 186.2 L775.4 189 L778.9 191.9 L782.2 194.9 L785.4 198 L788.6 201.3 L791.7 204.5 L794.7 207.9 L797.6 211.3 L800.5 214.8 L803.2 218.3 L805.9 222 L808.4 225.7 L810.8 229.5 L813.1 233.4 L815.3 237.3 L817.3 241.3 L819.3 245.4 L821.1 249.5 L822.8 253.6 L824.4 257.8 L826 262 L827.4 266.3 L828.7 270.6 L830 274.9 L831.2 279.2 L832 282.1 L832.8 285 L833.5 287.9 L834.3 290.9 L835 293.8 L835.8 296.7 L836.5 299.6 L837.2 302.5 L838 305.4 L838.7 308.3 L839.5 311.2 L840.3 314.1 L841.5 318.4 L842.8 322.7 L844.1 327 L845.5 331.3 L847 335.5 L848.6 339.8 L850.3 343.9 L852.1 348.1 L853.9 352.2 L855.8 356.3 L857.8 360.3 L859.9 364.3 L862 368.2 L864.2 372.1 L866.5 376 L868.9 379.8 L871.3 383.6 L873 386.1 L874.6 388.6 L876.3 391.1 L878 393.6 L879.7 396.1 L881.4 398.5 L883.1 401 L884.9 403.4 L886.6 405.9 L888.3 408.3 L890.1 410.8 L891.8 413.2 L893.6 415.7 L895.3 418.1 L897.1 420.5 L898.8 423 L900.6 425.4 L902.3 427.8 L904.1 430.3 L905.8 432.7 L907.6 435.2 L909.3 437.6 L911.1 440 L912.8 442.5 L914.5 444.9 L916.3 447.4 L918 449.9 L919.7 452.3 L921.4 454.8 L923.1 457.3 L925.6 461 L928 464.8 L930.4 468.6 L932.6 472.5 L934.8 476.5 L936.9 480.4 L938.9 484.5 L940.8 488.5 L942.7 492.6 L944.4 496.8 L946 501 L947.6 505.2 L949.1 509.5 L950.4 513.7 L951.8 518 L953 522.4 L954.2 526.7 L955.4 531 L956.1 534 L956.8 536.9 L957.5 539.8 L958.2 542.7 L958.9 545.6 L959.5 548.6 L960.2 551.5 L960.8 554.4 L961.4 557.4 L962.1 560.3 L962.7 563.2 L963.3 566.2 L964 569.1 L964.6 572 L965.3 575 L965.9 577.9 L966.6 580.8 L967.3 583.7 L968 586.6 L968.7 589.6 L969.4 592.5 L970.1 595.4 L970.9 598.3 L971.6 601.2 L972.4 604.1 L973.2 607 L973.9 609.9 L974.7 612.8 L975.5 615.7 L976.3 618.6 L977.1 621.5 L977.9 624.4 L978.7 627.3 L979.5 630.1 L980.3 633 L981 635.9 L981.8 638.8 L982.6 641.7 L983.4 644.6 L984.1 647.5 L984.9 650.4 L985.6 653.4 L986.3 656.3 L987 659.2 L987.7 662.1 L988.4 665 L989.1 667.9 L989.7 670.9 L990.3 673.8 L991 676.7 L991.6 679.7 L992.1 682.6 L992.7 685.6 L993.2 688.5 L993.8 691.5 L994.3 694.4 L994.8 697.4 L995.3 700.3 L995.8 703.3 L996.3 706.3 L996.8 709.2 L997.3 712.2 L997.8 715.2 L998.2 718.1 L998.7 721.1 L999.2 724 L999.7 727 L1000.2 730 L1000.7 732.9 L1001.1 735.9 L1001.7 738.8 L1002.2 741.8 L1002.7 744.7 L1003.2 747.7 L1003.8 750.6 L1004.3 753.6 L1004.9 756.5 L1005.5 759.5 L1006.1 762.4 L1006.8 765.3 L1007.4 768.3 L1008.1 771.2 L1008.8 774.1 L1009.5 777 L1010.6 781.4 L1011.8 785.7 L1013 790.1 L1014.3 794.4 L1015.7 798.7 L1017.1 802.9 L1018.6 807.2 L1020.2 811.4 L1021.8 815.6 L1023.6 819.7 L1025.4 823.8 L1027.2 827.9 L1029.2 832 L1031.2 836 L1033.3 840 L1035.5 843.9 L1037.8 847.8 L1040.1 851.7 L1042.5 855.5 L1045 859.2 L1047.5 862.9 L1050.1 866.6 L1052.8 870.2 L1055.5 873.8 L1058.2 877.4 L1060.8 881.1 L1063.4 884.7 L1066.3 888.1 L1069.5 891.2 L1072.9 894.1 L1076.5 896.9 L1080.1 899.6 L1083.8 902.2 L1087.5 904.7 L1091.2 907.2 L1095 909.7 L1098.8 912 L1102.7 914.2 L1106.7 916.3 L1110.8 918.2 L1114.9 920.1 L1119.1 921.7 L1123.3 923.2 L1127.6 924.6 L1131.9 925.8 L1136.3 926.8 L1140.7 927.6 L1145.2 928.4 L1149.6 929.1 L1152.6 929.5 L1155.6 929.9 L1158.5 930.3 L1161.5 930.7 L1164.5 931.1 L1167.5 931.5 L1170.4 931.8 L1173.4 932.2 L1176.4 932.6 L1179.4 933 L1183.8 933.7 L1186.8 934.2 L1189.7 934.7 L1192.7 935.1 L1197.1 935.8 L1201.6 936.4 L1206.1 936.9 L1210.5 937.4 L1213.5 937.7 L1216.5 937.9 L1219.5 938.2 L1222.5 938.4 L1225.5 938.7 L1228.5 938.9 L1231.5 939.1 L1234.5 939.4 L1237.5 939.6 L1240.5 939.8 L1243.4 940 L1246.4 940.2 L1249.4 940.4 L1252.4 940.6 L1255.4 940.8 L1258.4 941 L1261.4 941.2 L1264.4 941.4 L1267.4 941.6 L1270.4 941.8 L1273.4 941.9 L1276.4 942.1 L1279.4 942.3 L1282.4 942.4 L1285.4 942.6 L1288.4 942.7 L1291.4 942.9 L1294.4 943 L1297.4 943.1 L1300.4 943.3 L1303.4 943.4 L1306.3 943.6 L1309.3 943.7 L1312.3 943.9 L1315.3 944.1 L1318.3 944.2 L1321.3 944.4 L1324.3 944.6 L1327.3 944.8 L1330.3 945 L1333.3 945.2 L1336.3 945.5 L1339.3 945.7 L1342.3 946 L1345.3 946.2 L1348.2 946.5 L1351.2 946.8 L1354.2 947 L1357.2 947.3 L1360.2 947.5 L1363.2 947.7 L1366.2 947.9 L1369.2 948.2 L1372.2 948.3 L1375.2 948.5 L1378.2 948.7 L1381.2 948.8 L1384.2 949 L1387.2 949.1 L1390.2 949.2 L1393.2 949.3 L1396.2 949.4 L1399.2 949.5 L1402.2 949.5 L1405.2 949.6 L1408.2 949.6 L1411.2 949.7 L1414.2 949.7 L1417.2 949.8 L1420.2 949.8 L1423.2 949.8 L1426.2 949.8 L1429.2 949.9 L1432.2 949.9 L1435.2 949.9 L1438.2 949.9 L1441.2 949.9 L1444.2 950 L1447.2 950 L1450.2 950 L1453.2 950 L1456.2 950 L1459.2 950.1 L1462.2 950.1 L1465.2 950.1 L1468.2 950.1 L1471.2 950.2 L1474.2 950.2 L1477.2 950.2 L1480.2 950.3 L1483.2 950.3 L1486.2 950.3 L1489.2 950.4 L1492.2 950.4 L1495.2 950.4 L1498.2 950.5 L1501.2 950.5 L1504.2 950.5 L1507.2 950.6 L1510.2 950.6 L1513.2 950.6 L1516.2 950.6 L1519.2 950.7 L1522.2 950.7 L1525.2 950.7 L1528.2 950.8 L1531.2 950.8 L1534.2 950.8 L1537.2 950.9 L1540.2 950.9 L1543.2 951 L1546.2 951 L1549.2 951.1 L1552.2 951.1 L1555.2 951.2 L1558.2 951.3 L1561.2 951.3 L1564.2 951.4 L1567.2 951.5 L1570.2 951.6 L1573.1 951.8 L1576.1 951.9 L1579.1 952 L1582.1 952.2 L1585.1 952.4 L1588.1 952.5 L1591.1 952.7 L1594.1 952.9 L1597.1 953.1 L1600.1 953.3 L1603.1 953.5" stroke="#ff0000" stroke-width="7.8" fill="none" stroke-linejoin="round" stroke-linecap="butt"/>
<path d="M599.2 150.4 L605.8 150.4 L602.6 146.5 Z M608.3 150.8 L614.7 150.8 L611.5 145.3 Z M612 151 L617 151 L611.6 143.3 Z M615.2 157.3 L619.7 157.3 L617.4 160.8 Z M623.7 151.5 L629.2 151.5 L626 145.5 Z M633 151.8 L637.9 151.8 L637.6 148.4 Z M641.4 152.1 L647.5 152.1 L645 148.9 Z M662.7 159.5 L668.1 159.5 L664.4 166.5 Z M665.9 153.6 L670.9 153.6 L666.5 145.1 Z M671.7 154.1 L677 154.1 L671.4 148.5 Z M680.8 161.2 L685.8 161.2 L686 169.9 Z M684 155.3 L688.6 155.3 L684.7 151 Z M686.9 155.6 L691.8 155.6 L689.9 147.6 Z M689.7 162.2 L694.9 162.2 L692.7 166.7 Z M707.3 164.4 L713 164.4 L712.5 172.8 Z M714 165.3 L719.7 165.3 L718.7 170.4 Z M718.8 166.1 L723.7 166.1 L723.8 174.4 Z M723.4 160.9 L727.9 160.9 L724 156 Z M727.3 162 L732.7 162 L730.3 158.4 Z M735.9 165 L741.1 165 L738 157.5 Z M739.5 166.7 L745.8 166.7 L740 162.5 Z M741.7 173.8 L747.7 173.8 L743.7 177.9 Z M750.7 177.5 L755.1 177.5 L752.4 184.2 Z M1097.5 910 L1104 910 L1099.3 905.1 Z M1107.5 915.1 L1114.1 915.1 L1109 908.5 Z M1110 916.1 L1115.7 916.1 L1114.1 910.1 Z M1124.2 921.5 L1131 921.5 L1124.9 914.9 Z M1129.7 928.9 L1134.1 928.9 L1130 931.8 Z M1140.3 924.9 L1145.6 924.9 L1142.8 916.7 Z M1146.3 926 L1152.9 926 L1150.1 921.1 Z M1155.8 933.4 L1161.2 933.4 L1155.4 941.1 Z M1159.1 927.6 L1163.9 927.6 L1163.2 919.4 Z M1161.8 928 L1167.1 928 L1165.1 920.1 Z M1164.3 928.4 L1170.6 928.4 L1169.5 920.9 Z M1168 934.9 L1172.9 934.9 L1171 942.7 Z M1170.8 935.3 L1176 935.3 L1173.6 941.4 Z M1173.1 935.7 L1179.6 935.7 L1173.1 943.7 Z M1176.9 936.1 L1181.8 936.1 L1181.7 939.5 Z M1187.1 931.6 L1192.4 931.6 L1187 925.9 Z M1189.3 932 L1196.1 932 L1191.4 923.4 Z M1198.4 939.5 L1204.8 939.5 L1202.6 945 Z M1201.6 933.6 L1206 933.6 L1203.2 928.1 Z M1202.9 940 L1209.3 940 L1209.3 943.5 Z M1205 934.1 L1211.9 934.1 L1207.8 928.7 Z M1222.1 941.8 L1228.9 941.8 L1227.2 949.5 Z M1225.6 942 L1231.3 942 L1229.8 945.7 Z M1247.1 937.3 L1251.8 937.3 L1252 933.1 Z M1250 943.7 L1254.8 943.7 L1250.8 948 Z M1252.3 937.7 L1258.6 937.7 L1256.6 933.5 Z M1256 944.1 L1260.8 944.1 L1261.1 952.3 Z M1259.3 944.3 L1263.5 944.3 L1263.2 952 Z M1261.7 944.5 L1267.1 944.5 L1262.7 950.3 Z M1267.3 938.7 L1273.5 938.7 L1271.4 930.6 Z M1270.6 945 L1276.2 945 L1276.1 953.5 Z M1298.2 946.4 L1302.5 946.4 L1302.8 949.9 Z M1300.8 940.3 L1305.9 940.3 L1303.6 935 Z M1303.9 940.5 L1308.8 940.5 L1309 937.6 Z M1315.7 947.3 L1321 947.3 L1317.6 952.8 Z M1321.8 947.7 L1326.8 947.7 L1324.4 951.9 Z M1327.5 948.1 L1333.1 948.1 L1333.3 955.5 Z M1333.6 948.6 L1339 948.6 L1335.4 957 Z M1354.6 950.4 L1359.9 950.4 L1356.4 956 Z M1369.4 945.2 L1375 945.2 L1373.7 938.1 Z M1372.7 951.6 L1377.6 951.6 L1377.7 960.1 Z M1383.9 952.2 L1390.4 952.2 L1387.9 957.5 Z M1387.6 946.1 L1392.7 946.1 L1392.8 942.2 Z M1402.8 952.7 L1407.5 952.7 L1407.3 957.4 Z M1406 952.7 L1410.3 952.7 L1406.7 956 Z M1408.3 946.6 L1414.1 946.6 L1413.3 938.5 Z M1414.3 946.7 L1420 946.7 L1413.9 938.9 Z M1423.5 946.7 L1428.9 946.7 L1426.9 943.8 Z M1438.6 946.8 L1443.7 946.8 L1438.3 940.2 Z M1441.6 953.1 L1446.7 953.1 L1442.6 960.9 Z M1450.5 953.1 L1455.8 953.1 L1455.6 960.8 Z M1474 953.3 L1480.4 953.3 L1477.1 960.9 Z M1483.1 947.2 L1489.2 947.2 L1484.9 941.6 Z M1486.6 953.5 L1491.7 953.5 L1491.7 961 Z M1490.1 953.5 L1494.3 953.5 L1491.4 958.9 Z M1511 953.7 L1515.3 953.7 L1510.7 959.6 Z M1539.7 954.1 L1546.6 954.1 L1545.3 957.3 Z M1543.9 947.9 L1548.4 947.9 L1545.6 942.8 Z M1552.5 954.3 L1557.8 954.3 L1557.4 962 Z M1555.2 954.4 L1561.1 954.4 L1558.8 962.4 Z M1558.3 954.4 L1564 954.4 L1564.3 962.7 Z M1567.2 954.7 L1573.1 954.7 L1567.4 963.1 Z M1569.7 948.7 L1576.6 948.7 L1569.8 943.6 Z M1585.7 955.6 L1590.5 955.6 L1585.9 959.8 Z M1594.6 956.2 L1599.6 956.2 L1595.9 961.8 Z" fill="#ff0000"/>
<path d="M302 130 L305 130 L308 130.1 L311 130.1 L314 130.2 L317 130.2 L320 130.2 L323 130.3 L326 130.3 L329 130.3 L332 130.4 L335 130.4 L338 130.5 L341 130.5 L344 130.5 L347 130.6 L350 130.6 L353 130.7 L356 130.7 L359 130.7 L362 130.8 L365 130.8 L368 130.8 L371 130.9 L374.1 130.9 L377.1 131 L380.1 131 L383.1 131 L386.1 131.1 L389.1 131.1 L392.1 131.1 L395.1 131.1 L398.1 131.1 L401.1 131.1 L404.1 131.2 L407.1 131.2 L410.1 131.2 L413.1 131.2 L416.1 131.2 L419.1 131.3 L422.1 131.3 L425.1 131.4 L428.1 131.4 L431.1 131.5 L434.1 131.6 L437.1 131.7 L440.1 131.8 L443.1 132 L446.1 132.1 L449.1 132.3 L452.1 132.4 L455.1 132.6 L458.1 132.8 L461.1 133 L464.1 133.2 L467.1 133.4 L470.1 133.6 L473.1 133.8 L476.1 134 L479 134.2 L482 134.4 L485 134.6 L488 134.9 L491 135.1 L494 135.3 L497 135.5 L500 135.7 L503 135.9 L506 136.1 L509 136.3 L512 136.4 L515 136.6 L518 136.8 L521 136.9 L524 137.1 L527 137.3 L530 137.4 L533 137.5 L536 137.7 L539 137.8 L542 138 L545 138.1 L548 138.2 L551 138.4 L554 138.5 L557 138.7 L560 138.8 L563 139 L566 139.1 L569 139.3 L572 139.4 L575 139.6 L578 139.7 L581 139.9 L584 140 L587 140.2 L590 140.3 L593 140.5 L596 140.7 L599 140.8 L602 141 L605 141.1 L608 141.2 L611 141.4 L614 141.5 L616.9 141.7 L619.9 141.8 L622.9 141.9 L625.9 142.1 L628.9 142.2 L631.9 142.3 L634.9 142.4 L637.9 142.5 L640.9 142.7 L643.9 142.8 L646.9 142.9 L649.9 143 L652.9 143.2 L655.9 143.3 L658.9 143.5 L661.9 143.6 L664.9 143.8 L667.9 143.9 L670.9 144.1 L673.9 144.2 L676.9 144.4 L679.9 144.6 L682.9 144.8 L685.9 144.9 L688.9 145.1 L691.9 145.4 L694.9 145.6 L697.9 145.8 L700.9 146.1 L703.9 146.4 L706.9 146.7 L709.9 147 L712.8 147.3 L715.8 147.7 L718.8 148.1 L721.8 148.6 L724.7 149.1 L727.7 149.6 L730.6 150.2 L733.5 150.9 L736.5 151.6 L739.4 152.3 L742.3 153.1 L745.2 153.9 L748 154.7 L750.9 155.6 L753.8 156.5 L756.6 157.4 L759.5 158.3 L762.3 159.2 L766.6 160.8 L770.7 162.5 L774.8 164.4 L778.8 166.4 L782.7 168.6 L786.5 171 L790.1 173.7 L793.5 176.7 L796.6 179.9 L799.3 183.5 L801.8 187.2 L804.2 191 L806.7 194.7 L809.2 198.4 L811.7 202.1 L813.3 204.7 L814.9 207.2 L816.4 209.8 L817.8 212.5 L819.2 215.1 L820.5 217.8 L821.8 220.5 L823.1 223.2 L824.3 226 L825.4 228.8 L826.5 231.6 L827.6 234.4 L828.6 237.2 L829.6 240 L830.6 242.9 L831.6 245.7 L832.5 248.6 L833.4 251.4 L834.3 254.3 L835.1 257.2 L836 260 L836.8 262.9 L837.6 265.8 L838.5 268.7 L839.3 271.6 L840.1 274.5 L840.8 277.4 L841.6 280.3 L842.4 283.2 L843.2 286.1 L843.9 289 L844.7 291.9 L845.4 294.8 L846.2 297.7 L847 300.6 L847.7 303.5 L848.5 306.4 L849.3 309.3 L850.1 312.2 L850.8 315.1 L851.6 318 L852.4 320.9 L853.2 323.8 L854.1 326.7 L854.9 329.6 L855.7 332.4 L856.6 335.3 L857.5 338.2 L858.4 341.1 L859.3 343.9 L860.2 346.8 L861.1 349.7 L862 352.5 L862.9 355.4 L863.9 358.2 L864.8 361.1 L865.8 363.9 L866.8 366.7 L867.7 369.6 L868.7 372.4 L869.7 375.3 L870.7 378.1 L871.8 380.9 L872.8 383.7 L873.8 386.5 L874.8 389.4 L875.9 392.2 L876.9 395 L878 397.8 L879.1 400.6 L880.1 403.4 L881.2 406.2 L882.3 409 L883.4 411.8 L884.5 414.6 L885.6 417.4 L886.7 420.2 L887.8 423 L888.9 425.8 L890.1 428.5 L891.2 431.3 L892.3 434.1 L893.4 436.9 L894.6 439.7 L895.7 442.4 L896.9 445.2 L898 448 L899.2 450.8 L900.3 453.5 L901.5 456.3 L902.6 459.1 L903.8 461.8 L905 464.6 L906.1 467.4 L907.3 470.1 L908.5 472.9 L909.7 475.7 L910.8 478.4 L912 481.2 L913.2 484 L914.4 486.7 L915.6 489.5 L916.7 492.2 L917.9 495 L919.1 497.8 L920.3 500.5 L921.5 503.3 L922.7 506 L923.8 508.8 L925 511.6 L926.2 514.3 L927.4 517.1 L928.6 519.8 L929.7 522.6 L930.9 525.4 L932.1 528.1 L933.3 530.9 L934.5 533.6 L935.6 536.4 L936.8 539.2 L938 541.9 L939.2 544.7 L940.3 547.5 L941.5 550.2 L942.7 553 L943.9 555.7 L945 558.5 L946.2 561.3 L947.4 564 L948.5 566.8 L949.7 569.6 L950.8 572.3 L952 575.1 L953.2 577.9 L954.3 580.7 L955.5 583.4 L956.6 586.2 L957.8 589 L958.9 591.8 L960.1 594.5 L961.2 597.3 L962.4 600.1 L963.5 602.9 L964.6 605.6 L965.8 608.4 L966.9 611.2 L968 614 L969.1 616.8 L970.3 619.6 L971.4 622.3 L972.5 625.1 L973.6 627.9 L974.7 630.7 L975.8 633.5 L977 636.3 L978.1 639.1 L979.2 641.9 L980.3 644.6 L981.4 647.4 L982.5 650.2 L983.6 653 L984.7 655.8 L985.9 658.6 L987 661.4 L988.1 664.2 L989.2 666.9 L990.3 669.7 L991.4 672.5 L992.6 675.3 L993.7 678.1 L994.8 680.9 L995.9 683.7 L997.1 686.4 L998.2 689.2 L999.3 692 L1000.5 694.8 L1001.6 697.5 L1002.8 700.3 L1003.9 703.1 L1005.1 705.9 L1006.3 708.6 L1007.4 711.4 L1008.6 714.2 L1009.8 716.9 L1011 719.7 L1012.1 722.4 L1013.3 725.2 L1014.5 728 L1015.7 730.7 L1016.9 733.5 L1018.1 736.2 L1019.3 739 L1020.5 741.7 L1021.7 744.5 L1022.9 747.2 L1024.1 750 L1025.3 752.7 L1026.5 755.5 L1027.7 758.2 L1028.9 761 L1030.1 763.7 L1031.3 766.5 L1032.5 769.2 L1033.7 772 L1034.9 774.7 L1036.1 777.5 L1037.3 780.3 L1038.4 783 L1039.6 785.8 L1040.8 788.6 L1041.9 791.3 L1043.1 794.1 L1044.2 796.9 L1045.4 799.6 L1046.5 802.4 L1047.6 805.2 L1048.8 808 L1049.9 810.8 L1051 813.6 L1052.1 816.4 L1053.2 819.2 L1054.3 821.9 L1055.5 824.7 L1057.4 828.8 L1059.5 832.7 L1061.9 836.5 L1064.5 840.2 L1067.4 843.6 L1070.5 846.9 L1073.9 849.8 L1077.4 852.6 L1079.8 854.4 L1082.3 856.1 L1084.8 857.8 L1087.3 859.4 L1091.1 861.8 L1095.1 863.9 L1099.1 865.9 L1101.8 867.2 L1104.6 868.4 L1107.3 869.5 L1110.1 870.7 L1112.9 871.7 L1115.8 872.7 L1118.6 873.6 L1121.5 874.5 L1124.4 875.4 L1127.3 876.2 L1130.1 877 L1133 877.9 L1135.9 878.7 L1138.8 879.6 L1141.7 880.4 L1144.5 881.3 L1147.4 882.1 L1150.3 883 L1153.2 883.8 L1156.1 884.6 L1159 885.3 L1161.9 886 L1164.9 886.6 L1167.8 887.2 L1170.7 887.7 L1173.7 888.3 L1176.6 888.8 L1179.6 889.4 L1182.6 889.9 L1185.5 890.4 L1188.5 890.9 L1191.4 891.4 L1194.4 891.9 L1197.4 892.3 L1200.3 892.8 L1203.3 893.2 L1206.3 893.6 L1209.3 894 L1212.2 894.4 L1215.2 894.7 L1218.2 895.1 L1221.2 895.4 L1224.2 895.8 L1227.2 896.1 L1230.1 896.4 L1233.1 896.7 L1236.1 897 L1239.1 897.3 L1242.1 897.6 L1245.1 897.9 L1248.1 898.1 L1251.1 898.4 L1254.1 898.7 L1257 898.9 L1260 899.2 L1263 899.4 L1266 899.6 L1269 899.8 L1272 900 L1275 900.2 L1278 900.4 L1281 900.6 L1284 900.8 L1287 901 L1290 901.1 L1293 901.3 L1296 901.4 L1299 901.6 L1302 901.7 L1305 901.8 L1308 902 L1311 902.1 L1314 902.2 L1317 902.3 L1320 902.4 L1323 902.5 L1326 902.6 L1329 902.7 L1332 902.8 L1335 902.8 L1338 902.9 L1341 903 L1344 903 L1347 903.1 L1350 903.2 L1353 903.2 L1356 903.3 L1359 903.3 L1362 903.4 L1365 903.4 L1368 903.5 L1371 903.5 L1374 903.6 L1377 903.6 L1380 903.7 L1383 903.7 L1386 903.7 L1389 903.8 L1392 903.8 L1395 903.8 L1398 903.9 L1401 903.9 L1404 903.9 L1407 904 L1410 904 L1413 904 L1416 904 L1419.1 904 L1422.1 904 L1425.1 904 L1428.1 904 L1431.1 904 L1434.1 904 L1437.1 904 L1440.1 904 L1443.1 904 L1446.1 904 L1449.1 904 L1452.1 904 L1455.1 904 L1458.1 904 L1461.1 904 L1464.1 904 L1467.1 904 L1470.1 904 L1473.1 904 L1476.1 904 L1479.1 904 L1482.1 904 L1485.1 904 L1488.1 904.1 L1491.1 904.1 L1494.1 904.1 L1497.1 904.1 L1500.1 904.1 L1503.1 904.1 L1506.1 904.1 L1509.1 904.1 L1512.1 904.1 L1515.1 904.2 L1518.1 904.2 L1521.1 904.2 L1524.1 904.2 L1527.1 904.2 L1530.1 904.2 L1533.1 904.3 L1536.1 904.3 L1539.1 904.3 L1542.1 904.3 L1545.1 904.3 L1548.2 904.4 L1551.2 904.4 L1554.2 904.4 L1557.2 904.5 L1560.2 904.5 L1563.2 904.5 L1566.2 904.6 L1569.2 904.6 L1572.2 904.7 L1575.2 904.7 L1578.2 904.8 L1581.2 904.9 L1584.2 904.9 L1587.2 905 L1590.2 905 L1593.2 905.1 L1596.2 905.2 L1599.2 905.2 L1602.2 905.3 L1605.2 905.4 L1608.2 905.5 L1611.2 905.5 L1614.2 905.6 L1617.2 905.7 L1620.2 905.8 L1623.2 905.8 L1626.2 905.9 L1629.2 906 L1630.7 906" stroke="#0000ff" stroke-width="7.8" fill="none" stroke-linejoin="round" stroke-linecap="butt"/>
<path d="M442.8 135.2 L449.4 135.2 L450 142.4 Z M446.6 135.4 L451.6 135.4 L447.7 139.8 Z M451.9 135.7 L458.3 135.7 L452.9 142.8 Z M458.3 129.9 L463.8 129.9 L460.6 124.5 Z M512.1 133.5 L517.9 133.5 L518 127.9 Z M514.5 139.9 L521.5 139.9 L517.9 144.7 Z M536.6 134.7 L541.3 134.7 L541.4 131.8 Z M596.2 137.7 L601.7 137.7 L601.6 131.3 Z M620.2 138.8 L625.7 138.8 L625.2 135.4 Z M623.6 139 L628.3 139 L628.5 134.1 Z M640.7 139.7 L647.2 139.7 L642.5 135.7 Z M650.7 140.1 L655.2 140.1 L655.1 135.6 Z M698.1 143 L703.7 143 L700.1 137.8 Z M731 154 L736 154 L730.8 161.4 Z M767.9 159.4 L773.5 159.4 L770.6 151.9 Z M1104.4 866.4 L1110.3 866.4 L1108.8 862.1 Z M1126.8 873.9 L1133.4 873.9 L1132 870.8 Z M1136.2 876.5 L1141.3 876.5 L1141.2 869.5 Z M1138.5 877.3 L1144.8 877.3 L1142 874.1 Z M1141.3 878.2 L1147.7 878.2 L1140.7 870.9 Z M1155.7 888.4 L1162.3 888.4 L1160.2 892 Z M1188.8 894.5 L1194.1 894.5 L1189.8 900 Z M1206.4 890.9 L1212.1 890.9 L1209 885.5 Z M1224.6 899.2 L1229.7 899.2 L1229.4 905.5 Z M1230.6 893.6 L1235.6 893.6 L1230.9 887.5 Z M1319.6 899.4 L1326.4 899.4 L1324.6 891.6 Z M1329.6 905.9 L1334.4 905.9 L1333 909.2 Z M1361.7 900.3 L1368.4 900.3 L1362.8 893.9 Z M1395.4 900.8 L1400.7 900.8 L1397.5 893.6 Z M1401.2 900.8 L1406.8 900.8 L1403.9 896.2 Z M1443.4 900.9 L1448.8 900.9 L1445.6 895.7 Z M1457.7 900.9 L1464.5 900.9 L1457.2 893.2 Z M1512.1 901.1 L1518.2 901.1 L1518.7 893.8 Z M1521.4 901.1 L1526.9 901.1 L1523.9 896 Z M1542.5 907.4 L1547.8 907.4 L1546 912.2 Z M1575.4 907.9 L1580.9 907.9 L1578 911.5 Z M1605.8 902.4 L1610.6 902.4 L1606.6 896.7 Z" fill="#0000ff"/>
<path d="M1603.1 954.1 L1630.7 954.6" stroke="#0000ff" stroke-width="7.8" fill="none" stroke-linejoin="round" stroke-linecap="butt"/>
<path d="M302 130 L305 130.1 L308 130.3 L311 130.4 L314 130.6 L317 130.7 L320 130.8 L323 130.9 L326 131.1 L329 131.2 L332 131.4 L335 131.5 L338 131.6 L341 131.8 L344 131.9 L347 132.1 L350 132.2 L353 132.4 L356 132.5 L358.9 132.7 L361.9 132.8 L364.9 133 L367.9 133.2 L370.9 133.4 L373.9 133.6 L376.9 133.8 L379.9 134 L382.9 134.2 L385.9 134.5 L388.9 134.8 L391.9 135 L394.9 135.3 L397.8 135.6 L400.8 135.9 L403.8 136.2 L406.8 136.5 L409.8 136.9 L412.8 137.2 L415.7 137.5 L418.7 137.9 L421.7 138.2 L424.7 138.6 L427.7 139 L430.6 139.3 L433.6 139.7 L436.6 140.1 L439.6 140.5 L442.5 140.9 L447 141.5 L451.4 142.3 L455.8 143.1 L458.8 143.7 L461.7 144.3 L464.7 144.9 L467.6 145.5 L470.5 146.1 L473.5 146.7 L476.4 147.3 L479.4 147.9 L482.3 148.5 L485.3 149.1 L488.2 149.7 L491.1 150.3 L494.1 150.9 L497 151.5 L499.9 152.1 L502.9 152.7 L507.3 153.5 L511.8 154.2 L516.2 154.8 L520.7 155.3 L523.7 155.6 L526.7 155.8 L529.6 156.1 L532.6 156.4 L537.1 156.9 L540.1 157.3 L543.1 157.7 L546 158.2 L549 158.6 L552 159.1 L554.9 159.5 L557.9 160 L560.9 160.4 L563.8 160.9 L566.8 161.3 L569.8 161.7 L572.7 162.2 L575.7 162.6 L578.7 163.1 L581.6 163.5 L584.6 164 L587.6 164.4 L590.5 164.9 L593.5 165.3 L596.5 165.8 L599.4 166.3 L602.4 166.7 L605.3 167.2 L608.3 167.6 L611.3 168 L614.3 168.4 L617.2 168.7 L620.2 169 L623.2 169.3 L626.2 169.6 L629.2 169.9 L632.2 170.2 L635.2 170.5 L638.1 170.8 L641.1 171.2 L644.1 171.6 L647.1 172 L650 172.4 L653 172.9 L656 173.4 L658.9 173.8 L661.9 174.2 L664.9 174.6 L667.8 175 L670.8 175.4 L673.8 175.8 L676.8 176.2 L679.8 176.6 L682.7 177 L687.2 177.7 L691.6 178.5 L696 179.5 L700.3 180.7 L704.5 182.2 L708.7 183.9 L712.7 185.9 L716.7 188 L720.6 190.2 L724.6 192.3 L728.6 194.2 L732.8 196.1 L736.9 197.7 L741.1 199.3 L744 200.4 L746.8 201.4 L749.6 202.4 L752.4 203.5 L756.6 205.1 L760.8 206.7 L764.9 208.5 L769 210.5 L773.1 212.4 L777.2 214.2 L781.3 215.9 L784.1 217 L786.9 218.2 L789.7 219.3 L792.5 220.4 L795.3 221.5 L798 222.6 L800.8 223.7 L803.6 224.8 L806.4 225.9 L809.2 227 L813.4 228.6 L817.5 230.4 L821.5 232.4 L825.3 234.8 L828.9 237.4 L832.4 240.3 L835.7 243.3 L838.8 246.5 L841.8 249.9 L844.6 253.4 L847.3 257 L849.9 260.7 L852.4 264.4 L854.8 268.2 L857.1 272.1 L859.2 276.1 L861.3 280.1 L863.3 284.1 L865.1 288.2 L866.9 292.3 L868.5 296.5 L870.1 300.7 L871.6 305 L872.5 307.8 L873.5 310.7 L874.4 313.5 L875.2 316.4 L876.1 319.3 L876.9 322.2 L877.8 325.1 L878.6 327.9 L879.4 330.8 L880.2 333.7 L881 336.6 L881.8 339.5 L882.6 342.4 L883.4 345.3 L884.3 348.2 L885.1 351 L886 353.9 L886.8 356.8 L887.7 359.7 L888.6 362.5 L889.4 365.4 L890.3 368.3 L891.2 371.1 L892.1 374 L893.1 376.9 L894 379.7 L894.9 382.6 L895.8 385.4 L896.8 388.3 L897.7 391.1 L898.7 394 L899.6 396.8 L900.6 399.6 L901.6 402.5 L902.6 405.3 L903.6 408.1 L904.6 411 L905.5 413.8 L906.6 416.6 L907.6 419.5 L908.6 422.3 L909.6 425.1 L910.6 427.9 L911.6 430.7 L912.7 433.6 L913.7 436.4 L914.8 439.2 L915.8 442 L916.8 444.8 L917.9 447.6 L919 450.4 L920 453.2 L921.1 456.1 L922.1 458.9 L923.2 461.7 L924.3 464.5 L925.4 467.3 L926.4 470.1 L927.5 472.9 L928.6 475.7 L929.7 478.5 L930.8 481.3 L931.8 484.1 L932.9 486.9 L934 489.6 L935.1 492.4 L936.2 495.2 L937.3 498 L938.4 500.8 L939.5 503.6 L940.6 506.4 L941.7 509.2 L942.8 512 L943.9 514.8 L945 517.6 L946.1 520.4 L947.2 523.2 L948.3 526 L949.4 528.7 L950.5 531.5 L951.6 534.3 L952.7 537.1 L953.8 539.9 L954.9 542.7 L956 545.5 L957.1 548.3 L958.2 551.1 L959.3 553.9 L960.4 556.7 L961.4 559.5 L962.5 562.3 L963.6 565.1 L964.7 567.9 L965.8 570.7 L966.9 573.5 L967.9 576.3 L969 579.1 L970.1 581.9 L971.1 584.7 L972.2 587.5 L973.2 590.3 L974.3 593.1 L975.3 595.9 L976.4 598.7 L977.4 601.6 L978.4 604.4 L979.4 607.2 L980.4 610 L981.4 612.9 L982.4 615.7 L983.4 618.5 L984.3 621.4 L985.3 624.2 L986.2 627.1 L987.2 629.9 L988.1 632.8 L989 635.6 L989.9 638.5 L990.8 641.4 L991.7 644.2 L992.5 647.1 L993.4 650 L994.2 652.9 L995 655.8 L995.8 658.7 L996.6 661.6 L997.3 664.5 L998.1 667.4 L998.8 670.3 L999.5 673.2 L1000.2 676.1 L1000.9 679 L1001.5 682 L1002.2 684.9 L1002.8 687.8 L1003.4 690.8 L1004 693.7 L1004.5 696.7 L1005.1 699.6 L1005.6 702.6 L1006.2 705.5 L1006.7 708.5 L1007.2 711.4 L1007.7 714.4 L1008.2 717.3 L1008.6 720.3 L1009.1 723.3 L1009.5 726.2 L1010 729.2 L1010.4 732.2 L1010.8 735.1 L1011.3 738.1 L1011.7 741.1 L1012.1 744.1 L1012.5 747 L1012.9 750 L1013.3 753 L1013.7 756 L1014 758.9 L1014.4 761.9 L1014.8 764.9 L1015.2 767.9 L1015.6 770.8 L1016 773.8 L1016.4 776.8 L1016.7 779.8 L1017.1 782.7 L1017.5 785.7 L1017.9 788.7 L1018.3 791.7 L1018.7 794.6 L1019.2 797.6 L1019.6 800.6 L1020 803.6 L1020.4 806.5 L1020.9 809.5 L1021.3 812.5 L1021.8 815.4 L1022.3 818.4 L1022.8 821.3 L1023.3 824.3 L1023.8 827.3 L1024.3 830.2 L1024.8 833.2 L1025.4 836.1 L1025.9 839.1 L1026.5 842 L1027.1 845 L1027.6 847.9 L1028.2 850.8 L1028.8 853.8 L1029.4 856.7 L1030 859.7 L1030.7 862.6 L1031.3 865.5 L1031.9 868.5 L1032.5 871.4 L1033.1 874.3 L1033.7 877.3 L1034.3 880.2 L1034.9 883.2 L1035.5 886.1 L1036.1 889 L1036.7 892 L1037.3 894.9 L1037.9 897.9 L1038.4 900.8 L1039 903.8 L1039.5 906.7 L1040.1 909.7 L1040.6 912.6 L1041.1 915.6 L1041.6 918.5 L1042.1 921.5 L1042.7 924.4 L1043.2 927.4 L1043.8 930.3 L1044.3 933.3 L1044.9 936.2 L1045.5 939.2 L1046.1 942.1 L1047.1 946.5 L1048.2 950.9 L1049.3 955.2 L1050.8 959.4 L1052.7 963.4 L1055 967.3 L1057.5 971 L1060.2 974.5 L1063.3 977.7 L1066.9 980.3 L1070.8 982.3 L1075 983.6 L1079.4 984.6 L1083.9 985.3 L1088.3 985.9 L1092.8 986.4 L1095.8 986.6 L1098.8 986.9 L1103.3 987.1 L1107.8 987.3 L1110.8 987.4 L1113.8 987.5 L1116.8 987.6 L1119.8 987.6 L1122.8 987.7 L1127.3 987.9 L1131.7 988.2 L1136.2 988.6 L1139.2 988.9 L1142.2 989.2 L1145.2 989.5 L1148.2 989.8 L1151.1 990.2 L1154.1 990.5 L1157.1 990.9 L1160.1 991.2 L1163.1 991.5 L1166.1 991.9 L1169 992.2 L1172 992.5 L1175 992.8 L1178 993.1 L1181 993.4 L1184 993.6 L1187 993.9 L1189.9 994.2 L1192.9 994.4 L1195.9 994.7 L1198.9 994.9 L1201.9 995.2 L1204.9 995.4 L1207.9 995.6 L1210.9 995.9 L1213.9 996.1 L1216.9 996.3 L1219.9 996.5 L1222.9 996.7 L1225.8 997 L1228.8 997.2 L1231.8 997.4 L1234.8 997.6 L1237.8 997.7 L1240.8 997.9 L1243.8 998.1 L1246.8 998.3 L1249.8 998.4 L1252.8 998.6 L1255.8 998.8 L1258.8 998.9 L1261.8 999.1 L1264.8 999.2 L1267.8 999.3 L1270.8 999.5 L1273.8 999.6 L1276.8 999.7 L1279.8 999.9 L1282.8 1000 L1285.8 1000.1 L1288.8 1000.3 L1291.8 1000.4 L1294.8 1000.5 L1297.8 1000.7 L1300.8 1000.8 L1303.8 1000.9 L1306.8 1001.1 L1309.7 1001.2 L1312.7 1001.4 L1315.7 1001.5 L1318.7 1001.7 L1321.7 1001.8 L1324.7 1002 L1327.7 1002.2 L1330.7 1002.3 L1333.7 1002.4 L1336.7 1002.6 L1339.7 1002.7 L1342.7 1002.9 L1345.7 1003 L1348.7 1003.1 L1351.7 1003.2 L1354.7 1003.4 L1357.7 1003.5 L1360.7 1003.6 L1363.7 1003.7 L1366.7 1003.8 L1369.7 1003.9 L1372.7 1004 L1375.7 1004.1 L1378.7 1004.2 L1381.7 1004.3 L1384.7 1004.4 L1387.7 1004.5 L1390.7 1004.6 L1393.7 1004.6 L1396.7 1004.7 L1399.7 1004.8 L1402.7 1004.9 L1405.7 1004.9 L1408.7 1005 L1411.7 1005.1 L1414.7 1005.1 L1417.7 1005.2 L1420.7 1005.3 L1423.7 1005.3 L1426.7 1005.4 L1429.7 1005.4 L1432.7 1005.5 L1435.7 1005.6 L1438.7 1005.6 L1441.7 1005.7 L1444.7 1005.7 L1447.7 1005.8 L1450.7 1005.8 L1453.7 1005.9 L1456.7 1006 L1459.7 1006 L1462.7 1006.1 L1465.7 1006.1 L1468.7 1006.2 L1471.7 1006.2 L1474.7 1006.3 L1477.7 1006.3 L1480.7 1006.4 L1483.7 1006.4 L1486.7 1006.5 L1489.7 1006.5 L1492.7 1006.6 L1495.7 1006.6 L1498.7 1006.7 L1501.7 1006.7 L1504.7 1006.8 L1507.7 1006.8 L1510.7 1006.9 L1513.7 1006.9 L1516.7 1007 L1519.7 1007 L1522.7 1007.1 L1525.7 1007.1 L1528.7 1007.2 L1531.7 1007.2 L1534.7 1007.3 L1537.7 1007.3 L1540.7 1007.4 L1543.7 1007.4 L1546.7 1007.5 L1549.7 1007.5 L1552.7 1007.6 L1555.7 1007.6 L1558.7 1007.7 L1561.7 1007.7 L1564.7 1007.7 L1567.7 1007.8 L1570.7 1007.8 L1573.7 1007.9 L1576.7 1007.9 L1579.7 1008 L1582.7 1008 L1585.7 1008.1 L1588.7 1008.1 L1591.7 1008.2 L1594.7 1008.2 L1597.7 1008.3 L1600.7 1008.3 L1603.7 1008.4 L1606.7 1008.4 L1609.7 1008.5 L1612.7 1008.5 L1615.7 1008.6 L1618.7 1008.6 L1621.7 1008.6 L1624.7 1008.7 L1627.7 1008.7 L1630.7 1008.8" stroke="#ff8000" stroke-width="7.8" fill="none" stroke-linejoin="round" stroke-linecap="butt"/>
<path d="M413.3 140.6 L418.2 140.6 L418.1 146.6 Z M419 135.1 L424.4 135.1 L422.5 129.7 Z M442.2 138.1 L447.1 138.1 L446.4 134.4 Z M445.8 145 L452.6 145 L447.5 149.5 Z M452.6 146.2 L459 146.2 L456 152.9 Z M456 140.6 L461.5 140.6 L455.9 137.2 Z M461.4 141.8 L467.9 141.8 L464.6 136.1 Z M479.6 151.6 L485 151.6 L483.1 156.3 Z M511.6 151.4 L516.4 151.4 L513.4 148.5 Z M521 158.7 L526.3 158.7 L522.5 163.6 Z M526.6 159.2 L532.7 159.2 L531.9 165.8 Z M537.8 154.2 L542.4 154.2 L537.4 151 Z M543 155.1 L549.1 155.1 L549.3 148.6 Z M558.4 163.5 L563.3 163.5 L559 166.9 Z M579.4 166.6 L583.9 166.6 L579.7 171.5 Z M581.5 160.9 L587.7 160.9 L584.3 157.9 Z M590.5 162.2 L596.5 162.2 L596.6 159.3 Z M593.8 162.7 L599.1 162.7 L593.9 159.5 Z M602.9 170.3 L607.8 170.3 L607.6 174.8 Z M606 164.5 L610.7 164.5 L609.3 160 Z M632.5 167.4 L637.9 167.4 L632.1 161.1 Z M656.7 170.7 L661.1 170.7 L661.5 166.7 Z M662.1 177.7 L667.6 177.7 L665.5 182.5 Z M667.8 172.3 L673.8 172.3 L672 167.5 Z M676.5 173.5 L683 173.5 L681.5 169.4 Z M692.9 176.4 L699.1 176.4 L695.2 172.2 Z M695 177 L701.3 177 L699.1 173.3 Z M702.4 185.3 L706.7 185.3 L706.6 189.7 Z M705.2 180.8 L712.1 180.8 L710.2 175.5 Z M707.4 188 L714 188 L712 192.8 Z M711.9 190.1 L717.5 190.1 L715.5 195.8 Z M723.7 190.2 L729.5 190.2 L725.6 185.3 Z M744.5 204.5 L749 204.5 L744.2 210.3 Z M759.6 210.7 L766.1 210.7 L766.4 216.4 Z M792.1 224.6 L798.4 224.6 L792.4 228.1 Z M795.3 219.5 L800.8 219.5 L796 215.8 Z M1088.1 989.3 L1093.2 989.3 L1088.5 994.5 Z M1093.1 989.7 L1098.5 989.7 L1093.1 993.7 Z M1100.8 990.2 L1105.8 990.2 L1102.1 996.7 Z M1117.6 990.7 L1122 990.7 L1121.4 995.3 Z M1157.1 988.1 L1163.1 988.1 L1163.4 984.3 Z M1186.6 991.1 L1193.3 991.1 L1189.2 988.2 Z M1208.5 999 L1213.3 999 L1213.6 1003.6 Z M1247.6 995.3 L1252 995.3 L1249.4 992.5 Z M1256.1 1002 L1261.5 1002 L1260.5 1008.7 Z M1297.5 1003.9 L1304 1003.9 L1302.8 1010 Z M1316.2 998.6 L1321.2 998.6 L1320.3 995.1 Z M1322.6 1005.1 L1326.9 1005.1 L1322.6 1008.7 Z M1324.6 999.1 L1330.9 999.1 L1326 996.2 Z M1328.6 999.2 L1332.8 999.2 L1328.5 994.4 Z M1331 999.3 L1336.4 999.3 L1333.6 994.9 Z M1337.3 999.6 L1342.1 999.6 L1337.9 994.4 Z M1370.4 1007.1 L1375 1007.1 L1373.5 1013.7 Z M1378.7 1007.4 L1384.7 1007.4 L1378.8 1013.9 Z M1399.4 1008 L1406 1008 L1401.4 1014.5 Z M1406.1 1001.9 L1411.3 1001.9 L1408.4 996 Z M1426.2 1002.3 L1433.2 1002.3 L1428.9 999.5 Z M1438.6 1008.8 L1444.8 1008.8 L1441.9 1013.9 Z M1448.1 1002.7 L1453.3 1002.7 L1453.7 999.8 Z M1451.2 1009 L1456.2 1009 L1453.2 1012.3 Z M1460 1003 L1465.4 1003 L1459.5 997.3 Z M1475.3 1009.4 L1480.1 1009.4 L1478.4 1015.7 Z M1510.4 1003.8 L1517 1003.8 L1514.6 1000.4 Z M1519.3 1010.2 L1526 1010.2 L1520.3 1013.5 Z M1532 1004.2 L1537.4 1004.2 L1537.4 997.6 Z M1538.2 1004.3 L1543.1 1004.3 L1538 1000.2 Z M1555.4 1004.6 L1562 1004.6 L1555.7 1001.2 Z M1568.3 1010.9 L1573.1 1010.9 L1569.3 1014 Z M1571.5 1011 L1575.9 1011 L1572.9 1016.7 Z M1583.1 1011.2 L1588.3 1011.2 L1585.3 1015.4 Z M1585.4 1011.2 L1592 1011.2 L1589.6 1017.9 Z M1592.4 1005.1 L1597 1005.1 L1597.2 999.7 Z M1621.3 1011.8 L1628.1 1011.8 L1622.3 1017.5 Z" fill="#ff8000"/>
<path d="M302 130 L305 130 L308 130.1 L311 130.1 L314 130.1 L317 130.1 L320 130.2 L323 130.2 L326 130.2 L329 130.3 L332 130.3 L335 130.4 L338 130.4 L341 130.5 L344 130.5 L347 130.6 L350 130.7 L353 130.8 L356 130.9 L359 131 L362 131.1 L365 131.2 L368 131.3 L371 131.4 L374 131.6 L377 131.7 L380 131.8 L383 132 L386 132.1 L389 132.2 L392 132.4 L395 132.5 L398 132.7 L401 132.8 L404 133 L407 133.2 L410 133.3 L413 133.5 L416 133.7 L419 133.9 L422 134 L425 134.2 L428 134.4 L431 134.6 L434 134.9 L437 135.1 L440 135.3 L443 135.6 L446 135.8 L449 136.1 L451.9 136.3 L454.9 136.6 L457.9 136.9 L460.9 137.2 L463.9 137.5 L466.9 137.8 L469.9 138.1 L472.9 138.4 L475.8 138.8 L478.8 139.1 L481.8 139.4 L484.8 139.8 L487.8 140.1 L490.8 140.5 L493.7 140.8 L496.7 141.2 L499.7 141.5 L502.7 141.8 L505.7 142.2 L508.6 142.5 L511.6 142.9 L514.6 143.2 L517.6 143.6 L520.6 143.9 L523.6 144.3 L526.5 144.6 L529.5 145 L532.5 145.4 L535.5 145.7 L538.5 146.1 L541.4 146.5 L544.4 146.9 L547.4 147.2 L550.4 147.6 L553.3 148 L556.3 148.4 L559.3 148.8 L562.3 149.1 L565.3 149.5 L568.2 149.9 L571.2 150.2 L574.2 150.6 L577.2 151 L580.2 151.3 L583.1 151.7 L586.1 152.1 L589.1 152.5 L592.1 152.8 L595.1 153.2 L598 153.6 L601 154 L604 154.3 L607 154.7 L610 155.1 L612.9 155.5 L615.9 155.8 L618.9 156.2 L621.9 156.5 L624.9 156.9 L627.8 157.2 L630.8 157.6 L633.8 157.9 L636.8 158.2 L639.8 158.6 L642.7 159 L645.7 159.4 L648.7 159.8 L651.6 160.3 L654.6 160.9 L657.5 161.5 L661.9 162.5 L666.3 163.7 L670.5 165 L674.8 166.6 L677.6 167.7 L680.3 168.8 L683.1 170 L685.8 171.2 L688.6 172.5 L691.3 173.7 L694 175 L696.7 176.3 L699.4 177.6 L702.1 179 L704.8 180.3 L707.4 181.7 L710.1 183.1 L712.7 184.6 L715.3 186 L717.9 187.5 L720.5 189.1 L723.1 190.6 L725.6 192.2 L728.2 193.8 L730.7 195.5 L733.1 197.2 L735.6 198.9 L738 200.7 L740.4 202.5 L742.8 204.3 L745.2 206.1 L747.6 207.9 L750 209.8 L752.4 211.6 L754.7 213.5 L757.1 215.3 L759.4 217.2 L761.8 219.1 L765.2 222 L768.4 225.1 L771.5 228.3 L774.5 231.7 L777.3 235.2 L779.9 238.9 L782.2 242.7 L784.2 246.7 L786 250.9 L787 253.7 L788 256.5 L789.1 259.3 L790.1 262.1 L791.1 265 L792.8 269.1 L794.6 273.2 L796.7 277.2 L799 281.1 L801.6 284.7 L804.4 288.2 L807.4 291.6 L810.5 294.8 L813.8 298 L816 300 L818.3 301.9 L820.6 303.9 L822.9 305.8 L825.3 307.6 L827.6 309.4 L830 311.2 L832.5 313 L834.9 314.7 L837.4 316.4 L839.9 318.1 L842.4 319.8 L844.9 321.4 L847.4 323 L850 324.6 L852.5 326.2 L855.1 327.8 L857.6 329.3 L860.2 330.9 L862.8 332.4 L865.4 334 L868 335.5 L870.6 337 L873.1 338.5 L875.7 340 L878.3 341.5 L880.9 343.1 L883.5 344.6 L886.1 346.1 L888.7 347.7 L891.2 349.2 L893.8 350.8 L896.3 352.4 L898.9 354 L901.4 355.6 L903.9 357.3 L906.4 358.9 L908.9 360.6 L911.3 362.4 L913.8 364.1 L916.2 365.9 L918.6 367.7 L920.9 369.5 L923.3 371.4 L925.6 373.3 L927.9 375.3 L930.1 377.2 L932.4 379.3 L934.5 381.3 L936.7 383.4 L938.8 385.6 L940.8 387.8 L942.8 390 L944.8 392.3 L946.7 394.6 L948.5 397 L950.3 399.4 L952 401.9 L953.7 404.4 L955.3 406.9 L956.9 409.4 L958.4 412 L959.8 414.7 L961.2 417.3 L962.6 420 L963.9 422.7 L965.1 425.4 L966.4 428.2 L967.6 430.9 L968.7 433.7 L969.9 436.5 L971 439.2 L972.1 442 L973.2 444.8 L974.3 447.6 L975.3 450.4 L976.4 453.3 L977.4 456.1 L978.5 458.9 L979.5 461.7 L980.5 464.5 L981.5 467.4 L982.5 470.2 L983.5 473 L984.5 475.9 L985.4 478.7 L986.4 481.6 L987.3 484.4 L988.3 487.3 L989.2 490.1 L990.1 493 L991 495.8 L991.9 498.7 L992.8 501.6 L993.7 504.4 L994.5 507.3 L995.4 510.2 L996.2 513.1 L997.1 516 L997.9 518.8 L998.7 521.7 L999.5 524.6 L1000.4 527.5 L1001.1 530.4 L1001.9 533.3 L1002.7 536.2 L1003.5 539.1 L1004.2 542 L1005 544.9 L1005.7 547.8 L1006.5 550.7 L1007.2 553.6 L1007.9 556.6 L1008.6 559.5 L1009.4 562.4 L1010.1 565.3 L1010.7 568.2 L1011.4 571.2 L1012.1 574.1 L1012.8 577 L1013.4 579.9 L1014.1 582.9 L1014.7 585.8 L1015.4 588.7 L1016 591.7 L1016.7 594.6 L1017.3 597.5 L1017.9 600.5 L1018.5 603.4 L1019.1 606.4 L1019.7 609.3 L1020.3 612.2 L1020.9 615.2 L1021.5 618.1 L1022.1 621.1 L1022.7 624 L1023.2 627 L1023.8 629.9 L1024.4 632.9 L1024.9 635.8 L1025.5 638.8 L1026.1 641.7 L1026.7 644.7 L1027.2 647.6 L1027.9 650.5 L1028.5 653.5 L1029.1 656.4 L1029.8 659.3 L1030.5 662.3 L1031.2 665.2 L1032 668.1 L1032.8 671 L1033.6 673.8 L1034.5 676.7 L1035.4 679.6 L1036.4 682.4 L1037.4 685.2 L1038.5 688 L1039.6 690.8 L1040.8 693.6 L1042 696.3 L1043.3 699 L1044.6 701.7 L1046 704.4 L1047.4 707 L1048.9 709.6 L1050.5 712.2 L1052.1 714.7 L1053.7 717.2 L1055.4 719.7 L1057.2 722.2 L1059 724.6 L1060.8 727 L1063.5 730.5 L1066.3 734.1 L1069.1 737.5 L1072.2 740.7 L1075.6 743.6 L1079.3 746.2 L1083.2 748.5 L1087.2 750.6 L1091.3 752.4 L1094 753.6 L1096.8 754.8 L1099.6 755.9 L1102.3 757.1 L1105.1 758.2 L1107.9 759.4 L1110.7 760.5 L1113.5 761.6 L1116.3 762.7 L1119.1 763.7 L1121.9 764.7 L1124.8 765.6 L1127.6 766.5 L1130.5 767.4 L1133.4 768.2 L1136.3 769 L1139.2 769.8 L1142.1 770.6 L1145 771.4 L1147.9 772.1 L1150.8 772.9 L1153.7 773.7 L1156.6 774.4 L1159.5 775.2 L1162.4 775.9 L1165.3 776.6 L1168.2 777.4 L1171.1 778.1 L1174.1 778.8 L1177 779.5 L1179.9 780.2 L1182.8 780.9 L1185.7 781.6 L1188.7 782.3 L1191.6 782.9 L1194.5 783.5 L1197.5 784.1 L1200.4 784.7 L1203.4 785.2 L1206.3 785.7 L1209.3 786.2 L1212.3 786.7 L1215.2 787.2 L1218.2 787.7 L1221.2 788.2 L1224.1 788.6 L1227.1 789.1 L1230.1 789.5 L1233 790 L1236 790.4 L1239 790.9 L1241.9 791.4 L1244.9 791.9 L1247.9 792.3 L1250.8 792.8 L1253.8 793.3 L1256.7 793.7 L1259.7 794.2 L1262.7 794.7 L1265.6 795.1 L1268.6 795.6 L1271.6 796 L1274.6 796.5 L1277.5 796.9 L1280.5 797.3 L1283.5 797.7 L1286.4 798.1 L1289.4 798.5 L1292.4 798.9 L1295.4 799.3 L1298.4 799.7 L1301.3 800 L1304.3 800.3 L1307.3 800.7 L1310.3 801 L1313.3 801.3 L1316.3 801.6 L1319.3 801.9 L1322.2 802.2 L1325.2 802.4 L1328.2 802.7 L1331.2 803 L1334.2 803.3 L1337.2 803.5 L1340.2 803.8 L1343.2 804.1 L1346.2 804.4 L1349.2 804.7 L1352.1 804.9 L1355.1 805.2 L1358.1 805.5 L1361.1 805.8 L1364.1 806.1 L1367.1 806.5 L1370.1 806.7 L1373.1 807 L1376 807.3 L1379 807.6 L1382 807.8 L1385 808.1 L1388 808.3 L1391 808.5 L1394 808.8 L1397 809 L1400 809.2 L1403 809.5 L1406 809.7 L1409 809.9 L1412 810.1 L1415 810.4 L1417.9 810.6 L1420.9 810.8 L1423.9 811 L1426.9 811.3 L1429.9 811.5 L1432.9 811.7 L1435.9 811.9 L1438.9 812.1 L1441.9 812.4 L1444.9 812.6 L1447.9 812.8 L1450.9 813 L1453.9 813.2 L1456.9 813.5 L1459.9 813.7 L1462.9 813.9 L1465.9 814.1 L1468.8 814.4 L1471.8 814.6 L1474.8 814.8 L1477.8 815 L1480.8 815.3 L1483.8 815.5 L1486.8 815.7 L1489.8 816 L1492.8 816.2 L1495.8 816.5 L1498.8 816.7 L1501.8 817 L1504.8 817.2 L1507.8 817.5 L1510.7 817.7 L1513.7 817.9 L1516.7 818.2 L1519.7 818.4 L1522.7 818.7 L1525.7 818.9 L1528.7 819.1 L1531.7 819.4 L1534.7 819.6 L1537.7 819.8 L1540.7 820 L1543.7 820.2 L1546.7 820.4 L1549.7 820.6 L1552.7 820.8 L1555.7 820.9 L1558.7 821.1 L1561.7 821.2 L1564.7 821.4 L1567.7 821.5 L1570.7 821.6 L1573.7 821.7 L1576.7 821.8 L1579.7 821.8 L1582.7 821.9 L1585.7 822 L1588.7 822 L1591.7 822.1 L1594.7 822.1 L1597.7 822.1 L1600.7 822.1 L1603.7 822.2 L1606.7 822.2 L1609.7 822.2 L1612.7 822.2 L1615.7 822.2 L1618.7 822.2 L1621.7 822.2 L1624.7 822.3 L1627.7 822.3 L1630.7 822.3" stroke="#808000" stroke-width="7.8" fill="none" stroke-linejoin="round" stroke-linecap="butt"/>
<path d="M371 134.7 L377.1 134.7 L371.2 142.1 Z M377.6 134.9 L382.5 134.9 L380 140 Z M380.4 135.1 L385.7 135.1 L386.2 142.9 Z M386.7 135.3 L391.3 135.3 L390.2 143 Z M389.2 129.3 L394.9 129.3 L394.7 120.8 Z M400.6 129.9 L407.4 129.9 L403.8 125.2 Z M415.8 137 L422.2 137 L422.3 140.6 Z M487.6 137.4 L493.9 137.4 L489.7 132.3 Z M490.4 143.9 L497 143.9 L491.7 149 Z M532.9 148.8 L538.1 148.8 L534 157.4 Z M544.5 150.3 L550.3 150.3 L547.8 154.3 Z M565.7 153 L570.8 153 L567.2 159.7 Z M569.1 147.1 L573.3 147.1 L572.5 140.9 Z M598 150.9 L604 150.9 L602.7 145.2 Z M603.6 157.8 L610.3 157.8 L603.1 161.1 Z M609.8 152.4 L616.1 152.4 L616.4 145.5 Z M622.4 153.8 L627.3 153.8 L622.8 148.6 Z M633.9 161.3 L639.6 161.3 L638.9 165.4 Z M636.4 155.5 L643.2 155.5 L636.4 147.8 Z M670.1 168.9 L675.4 168.9 L670 176.7 Z M688.4 170.6 L694.1 170.6 L689.7 164 Z M691.2 178.1 L696.8 178.1 L693.3 182.7 Z M694 179.4 L699.4 179.4 L699.8 185.5 Z M702.4 177.2 L707.1 177.2 L704 173.1 Z M717.8 192.2 L723.2 192.2 L723.1 199.4 Z M862.5 330.9 L868.3 330.9 L866.8 324.9 Z M872.9 336.9 L878.5 336.9 L876 331.4 Z M1086.7 748.4 L1091.9 748.4 L1089.6 742.4 Z M1091.9 750.5 L1096.1 750.5 L1095.3 741.9 Z M1114.1 765.8 L1118.4 765.8 L1117.4 773.1 Z M1119.1 761.6 L1124.8 761.6 L1120.2 756.8 Z M1125.2 763.4 L1130.1 763.4 L1128.7 758.9 Z M1133.9 765.9 L1138.7 765.9 L1139.1 761.9 Z M1139.4 767.5 L1144.8 767.5 L1142.3 763.8 Z M1160.1 779 L1164.7 779 L1162.7 784.9 Z M1167.9 775 L1174.4 775 L1174.1 769 Z M1171.7 781.9 L1176.4 781.9 L1175.2 787.2 Z M1212.1 784.1 L1218.4 784.1 L1217.1 778.8 Z M1233.5 787.3 L1238.4 787.3 L1234.2 782.8 Z M1254 790.6 L1259.5 790.6 L1259.3 787.1 Z M1257.5 797.3 L1261.9 797.3 L1258.9 801.1 Z M1262.5 798.2 L1268.8 798.2 L1264.2 802.9 Z M1284.1 801.2 L1288.7 801.2 L1284.3 809.6 Z M1310.1 804.4 L1316.5 804.4 L1315.5 812.5 Z M1333.9 806.6 L1340.5 806.6 L1336.7 810.7 Z M1339.8 801 L1346.5 801 L1340.8 797.7 Z M1347 807.8 L1351.3 807.8 L1350.1 810.8 Z M1352.6 802.1 L1357.7 802.1 L1357.5 796.8 Z M1361.7 803 L1366.5 803 L1363.3 795.7 Z M1397 806.1 L1403 806.1 L1399.1 797.7 Z M1423.7 814.4 L1430.1 814.4 L1430.3 818.3 Z M1433.6 815 L1438.2 815 L1438 820.5 Z M1442.1 809.5 L1447.7 809.5 L1447.2 805.3 Z M1462.5 817.2 L1469.3 817.2 L1468.8 821.5 Z M1477.4 812.2 L1484.3 812.2 L1480.7 806.5 Z M1487 812.9 L1492.6 812.9 L1487.8 809 Z M1529 816.3 L1534.4 816.3 L1529 813.2 Z M1535.1 816.7 L1540.2 816.7 L1536.9 810.2 Z M1541.5 823.3 L1545.8 823.3 L1543.9 829.5 Z M1547.2 823.7 L1552.2 823.7 L1550.4 832 Z M1559.4 824.3 L1563.9 824.3 L1561 832.9 Z M1588.9 825.2 L1594.5 825.2 L1594.9 829.9 Z M1597.9 819 L1603.5 819 L1598.3 811.4 Z M1601.5 825.3 L1605.8 825.3 L1603.1 831.7 Z M1610.3 819.1 L1615.1 819.1 L1614.4 811.9 Z M1612.2 819.1 L1619.2 819.1 L1612.4 811 Z M1615.7 819.1 L1621.7 819.1 L1617.3 813.5 Z M1619.6 819.1 L1623.8 819.1 L1621.5 816.2 Z M1625 819.2 L1630.4 819.2 L1629.4 813.2 Z" fill="#808000"/>
<path d="M318.1 126.5 L325.1 126.5 L321.6 105.3 Z M328.8 126.5 L335.8 126.5 L332.3 105.3 Z M340.1 126.5 L348.1 126.5 L344.1 99.2 Z M348.2 126.5 L355.2 126.5 L351.7 107.9 Z M326.3 133.5 L333.3 133.5 L329.8 151.2 Z M332.5 133.5 L339.5 133.5 L336 152 Z" fill="#000000"/>
<path d="M313.5 126.5 L320.5 126.5 L317 105.3 Z M333.1 126.5 L341.1 126.5 L337.1 99.2 Z M317.6 133.5 L325.6 133.5 L321.6 159.4 Z M340.1 133.5 L348.1 133.5 L344.1 159.4 Z" fill="#00ff00"/>
<path d="M312.5 126.5 L319.5 126.5 L316 115.5 Z M315.6 133.5 L323.6 133.5 L319.6 159.4 Z M320.5 133.5 L327.5 133.5 L324 150 Z" fill="#ff00ff"/>
<path d="M343.1 126.5 L351.1 126.5 L347.1 99.2 Z M337 133.5 L345 133.5 L341 159.4 Z M299.5 126.5 L306.5 126.5 L303 124 Z" fill="#ff0000"/>
<path d="M324.3 126.5 L331.3 126.5 L327.8 107.3 Z M330.9 133.5 L337.9 133.5 L334.4 153.3 Z" fill="#0000ff"/>
<path d="M321.5 133.5 L328.5 133.5 L325 138 Z" fill="#ff8000"/>
<path d="M305 126.5 L312 126.5 L308.5 117 Z M322.7 126.5 L330.7 126.5 L326.7 104.3 Z M334.5 126.5 L341.5 126.5 L338 110 Z M357.4 126.5 L365.4 126.5 L361.4 99.2 Z M309.5 133.5 L316.5 133.5 L313 151.2 Z M327.5 133.5 L334.5 133.5 L331 150 Z M342.1 133.5 L349.1 133.5 L345.6 151.2 Z" fill="#808000"/>
<path d="M302 130 C306.7 130.1 320.3 130.1 330 130.3 C339.7 130.5 355 130.9 360 131" stroke="#808000" stroke-width="7.8" fill="none" stroke-linejoin="round" stroke-linecap="butt"/>
<line x1="268.4" y1="176.4" x2="978.1" y2="176.4" stroke="#000" stroke-width="5.2" stroke-dasharray="26.3 23.3"/>
<line x1="265.1" y1="404.5" x2="1035.2" y2="404.5" stroke="#000" stroke-width="5.2" stroke-dasharray="26.3 23.3"/>
<line x1="1120.7" y1="674" x2="1120.7" y2="1040" stroke="#000" stroke-width="5.2" stroke-dasharray="26 23.4" stroke-dashoffset="4.2"/>
<path d="M317.9 2313.2 L318.7 2311.8 L319.7 2309.8 L321 2307.4 L322.4 2304.8 L323.8 2302.4 L325.2 2300.3 L326.8 2298.2 L328.3 2296.5 L330 2294.9 L331.8 2293.5 L334 2291.9 L335.3 2290.9 L336.4 2289.9 L337.5 2288.8 L338.7 2287.8 L340.2 2286.9 L342.3 2286.1 L345.1 2285.8 L348.7 2286 L350 2286.2 L351.4 2286.3 L352.8 2286.3 L354.3 2286.2 L355.8 2285.9 L357.4 2285.6 L359 2285.1 L360.7 2284.6 L362.4 2284.1 L364.2 2283.7 L366.1 2283.3 L368 2283.1 L370 2282.9 L372.1 2282.8 L374.2 2282.7 L376.4 2282.7 L378.7 2282.7 L381.1 2282.9 L383.5 2283.1 L386 2283.4 L388.6 2283.6 L391.3 2283.6 L394.1 2283.3 L397 2283 L400 2282.7 L401.5 2282.6 L403.1 2282.6 L404.7 2282.8 L406.4 2283 L408 2283.2 L409.7 2283.4 L411.5 2283.6 L413.3 2283.7 L415.1 2283.6 L416.9 2283.4 L418.7 2283 L420.6 2282.6 L422.5 2282.3 L424.5 2282 L426.4 2281.9 L428.4 2282.1 L430.4 2282.4 L432.4 2282.9 L434.4 2283.2 L436.5 2283.5 L438.6 2283.6 L440.6 2283.4 L442.7 2283 L444.8 2282.6 L447 2282.3 L449.1 2282 L451.2 2281.9 L453.4 2281.9 L455.5 2282.1 L457.7 2282.2 L459.8 2282.4 L462 2282.5 L464.1 2282.7 L466.3 2282.8 L468.5 2283 L470.6 2283.1 L472.8 2283.2 L474.9 2283.2 L477.1 2283.1 L479.2 2283 L481.4 2282.8 L483.5 2282.7 L485.6 2282.6 L487.7 2282.6 L489.8 2282.7 L491.9 2282.8 L493.9 2282.9 L496 2283 L498 2283 L500 2283 L502 2282.9 L504 2282.8 L506 2282.7 L508 2282.6 L510 2282.4 L512 2282.1 L514 2281.8 L516 2281.4 L518 2281 L520 2280.8 L522 2280.7 L524 2280.9 L526 2281.2 L528 2281.6 L530 2282.1 L532 2282.4 L534 2282.6 L536 2282.7 L538 2282.6 L540 2282.4 L542 2282.2 L544 2282 L546 2281.8 L548 2281.7 L550 2281.6 L552 2281.4 L554 2281.3 L556 2281.2 L558 2281.1 L560 2280.9 L562 2280.8 L564 2280.7 L566 2280.6 L568 2280.6 L570 2280.7 L572 2280.8 L574 2281.1 L576 2281.4 L578 2281.7 L580 2282 L582 2282.1 L584 2282.1 L586 2281.9 L588 2281.7 L590 2281.5 L592 2281.4 L594 2281.3 L596 2281.3 L598 2281.5 L600 2281.6 L602 2281.8 L604 2281.9 L606.1 2282 L608.2 2281.9 L610.3 2281.8 L612.4 2281.7 L614.5 2281.6 L616.7 2281.5 L618.8 2281.5 L621 2281.6 L623.2 2281.7 L625.4 2281.8 L627.5 2281.9 L629.7 2281.9 L631.9 2281.8 L634.1 2281.6 L636.4 2281.4 L638.6 2281.1 L640.8 2281 L643 2280.9 L645.2 2280.9 L647.3 2281 L649.5 2281.1 L651.7 2281.1 L653.9 2281.2 L656 2281.2 L658.1 2281.1 L660.3 2281.1 L662.4 2281 L664.4 2280.9 L666.5 2280.8 L668.5 2280.6 L670.6 2280.3 L672.6 2280 L674.5 2279.8 L676.5 2279.7 L678.4 2279.6 L680.3 2279.7 L682.1 2280 L683.9 2280.2 L685.7 2280.5 L687.5 2280.7 L689.2 2280.7 L690.9 2280.6 L692.5 2280.3 L694.1 2279.9 L695.6 2279.5 L697.1 2279.1 L698.6 2278.6 L700 2278.3 L703.3 2277.7 L706.4 2277.4 L709.2 2277.1 L711.8 2276.8 L714.2 2276.3 L716.4 2275.6 L718.5 2274.9 L720.4 2274.2 L722.1 2273.4 L723.8 2272.5 L725.4 2271.7 L726.9 2270.7 L728.3 2269.8 L729.7 2268.9 L731.1 2268 L732.4 2267 L733.8 2266.1 L735.3 2265.3 L736.7 2264.4 L738.3 2263.6 L740.7 2262.4 L743.1 2261.2 L745.3 2260.1 L747.5 2259.1 L749.6 2258.3 L751.7 2257.6 L753.6 2257.2 L755.5 2256.8 L757.3 2256.4 L759.1 2256 L760.7 2255.4 L762.3 2254.8 L763.8 2253.9 L765.8 2252.7 L767.5 2251.5 L769 2250.2 L770.4 2248.9 L771.6 2247.5 L772.8 2246 L774 2244.3 L775.2 2242.4 L776.5 2240.3 L777.4 2238.8 L778.3 2237.1 L779.2 2235.3 L780.1 2233.4 L781 2231.4 L781.9 2229.4 L782.8 2227.3 L783.6 2225.2 L784.5 2223.1 L785.4 2221 L786.2 2219 L787.1 2216.9 L788 2215 L788.9 2213.1 L789.8 2211.3 L790.7 2209.5 L791.6 2207.7 L792.5 2206 L793.4 2204.2 L794.2 2202.4 L795.1 2200.6 L796 2198.8 L796.9 2196.9 L797.8 2195 L798.6 2193 L799.5 2190.9 L800.2 2189.1 L800.9 2187.3 L801.6 2185.4 L802.3 2183.5 L803 2181.5 L803.7 2179.5 L804.4 2177.5 L805.1 2175.4 L805.7 2173.4 L806.4 2171.3 L807.1 2169.3 L807.7 2167.3 L808.4 2165.3 L809 2163.3 L809.6 2161.4 L810.2 2159.6 L810.9 2157.4 L811.6 2155.2 L812.2 2153.1 L812.9 2151 L813.5 2149 L814.1 2147 L814.7 2145 L815.3 2143 L815.9 2141 L816.5 2139 L817 2137 L817.6 2134.9 L818.2 2132.9 L818.8 2130.8 L819.4 2128.8 L819.9 2126.7 L820.5 2124.7 L821 2122.6 L821.6 2120.5 L822.1 2118.5 L822.7 2116.4 L823.2 2114.3 L823.8 2112.3 L824.3 2110.2 L824.9 2108.2 L825.4 2106.1 L826 2104 L826.5 2101.9 L827.1 2099.7 L827.6 2097.6 L828.2 2095.4 L828.8 2093.2 L829.3 2091.1 L829.9 2089 L830.4 2086.9 L831 2084.9 L831.5 2082.9 L832 2081.1 L832.5 2079.3 L833.2 2076.9 L833.8 2074.7 L834.4 2072.6 L835 2070.6 L835.5 2068.7 L836.1 2066.9 L836.7 2065.1 L837.3 2063.3 L837.9 2061.4 L838.6 2059.2 L839.4 2056.8 L840.1 2054.3 L840.8 2052 L841.6 2049.8 L842.4 2047.9 L843.2 2046.4 L844.1 2045.4 L845.9 2045.2 L847.9 2046.7 L849.9 2048.8 L852.1 2050.7 L854 2051.8 L856.1 2052.8 L858.2 2053.9 L860.2 2055.3 L862 2057 L863.1 2058.5 L864 2060.2 L864.9 2062 L865.7 2064 L866.5 2066 L867.3 2068.2 L868.2 2070.4 L869 2072.2 L869.8 2074.1 L870.6 2076 L871.4 2078 L872.3 2080 L873.1 2082.1 L873.9 2084.2 L874.7 2086.2 L875.4 2088.2 L876.1 2090.2 L876.7 2092.1 L877.3 2094 L877.9 2095.9 L878.4 2097.8 L879 2099.8 L879.6 2101.8 L880.1 2103.9 L880.7 2106.1 L881.2 2108 L881.7 2109.9 L882.2 2112 L882.7 2114.1 L883.2 2116.2 L883.6 2118.3 L884.1 2120.4 L884.6 2122.5 L885.1 2124.6 L885.6 2126.5 L886.1 2128.4 L886.7 2130.6 L887.3 2132.8 L887.8 2135 L888.4 2137.2 L889 2139.2 L889.6 2141.2 L890.2 2143 L890.8 2144.7 L891.4 2146.3 L892.6 2148.8 L893.9 2150.9 L895.1 2152.7 L896.4 2154.1 L897.7 2155.2 L899.7 2156.2 L901.7 2156.2 L903.9 2155.2 L905.1 2154.3 L906.4 2153.2 L907.7 2151.8 L909 2150.2 L910.4 2148.2 L911.7 2145.9 L912.5 2144.3 L913.2 2142.5 L914 2140.6 L914.8 2138.5 L915.6 2136.4 L916.3 2134.2 L917.1 2132 L917.9 2129.8 L918.6 2127.6 L919.4 2125.5 L920.2 2123.5 L920.9 2121.5 L921.7 2119.5 L922.4 2117.6 L923.2 2115.6 L924 2113.6 L924.7 2111.6 L925.5 2109.5 L926.2 2107.3 L927 2105.1 L927.6 2103.3 L928.2 2101.5 L928.8 2099.6 L929.4 2097.6 L930 2095.7 L930.6 2093.7 L931.1 2091.7 L931.7 2089.6 L932.3 2087.6 L932.9 2085.6 L933.5 2083.6 L934.1 2081.6 L934.7 2079.6 L935.3 2077.6 L935.9 2075.7 L936.5 2073.7 L937 2071.8 L937.6 2069.8 L938.2 2067.8 L938.8 2065.9 L939.4 2063.9 L940 2061.9 L940.5 2060 L941.1 2058 L941.7 2056.1 L942.3 2054.1 L942.9 2052.1 L943.5 2050.2 L944.1 2048.2 L944.7 2046.3 L945.3 2044.3 L945.8 2042.3 L946.4 2040.4 L947 2038.4 L947.6 2036.4 L948.2 2034.5 L948.8 2032.5 L949.4 2030.6 L950 2028.6 L950.6 2026.6 L951.2 2024.7 L951.8 2022.7 L952.4 2020.8 L953 2018.8 L953.6 2016.8 L954.2 2014.9 L954.7 2012.9 L955.3 2010.9 L955.9 2009 L956.5 2007 L957.1 2005.1 L957.7 2003.1 L958.3 2001.2 L958.9 1999.3 L959.5 1997.5 L960 1995.7 L960.6 1993.9 L961.2 1992.1 L961.8 1990.2 L962.4 1988.3 L963 1986.4 L963.5 1984.4 L964.1 1982.2 L964.7 1980 L965.3 1977.6 L965.7 1975.9 L966.1 1974 L966.5 1972.1 L966.9 1970.2 L967.4 1968.1 L967.8 1966 L968.2 1963.9 L968.6 1961.8 L969.1 1959.6 L969.5 1957.4 L969.9 1955.2 L970.3 1953.1 L970.7 1951 L971.1 1948.9 L971.5 1946.8 L971.9 1944.8 L972.3 1942.9 L972.6 1941.1 L973 1939.3 L973.5 1936.9 L974 1934.5 L974.5 1932.3 L975 1930.1 L975.4 1928 L975.9 1926 L976.3 1924 L976.8 1922.1 L977.2 1920.2 L977.6 1918.3 L978 1916.5 L978.4 1914.7 L978.8 1912.9 L979.3 1910.6 L979.7 1908.3 L980.1 1906.2 L980.5 1904 L980.9 1902 L981.3 1899.9 L981.7 1898 L982 1896.1 L982.5 1894.2 L982.9 1892.4 L983.5 1890.2 L984.1 1888.1 L984.7 1886.1 L985.4 1884.1 L986 1882.2 L986.7 1880.4 L987.4 1878.7 L988 1877.1 L989 1874.6 L990.1 1872.3 L991.1 1870.2 L992.2 1868.4 L993.1 1866.9 L995.1 1864.5 L997.1 1863.9 L998.7 1864.4 L1000.4 1865.6 L1002.2 1868 L1003 1869.4 L1004 1871.1 L1004.9 1873 L1005.8 1875.1 L1006.8 1877.4 L1007.6 1879.8 L1008.4 1882.2 L1008.9 1884 L1009.4 1885.9 L1009.8 1887.9 L1010.2 1890 L1010.6 1892.1 L1011 1894.2 L1011.3 1896.4 L1011.7 1898.5 L1012 1900.6 L1012.4 1902.7 L1012.7 1904.7 L1013.1 1906.7 L1013.4 1908.6 L1013.7 1910.5 L1014 1912.4 L1014.2 1914.4 L1014.5 1916.4 L1014.8 1918.5 L1015.2 1920.8 L1015.5 1923.1 L1015.7 1924.8 L1016 1926.4 L1016.2 1927.9 L1016.4 1929.4 L1016.6 1931 L1016.9 1932.6 L1017.1 1934.3 L1017.3 1936.1 L1017.6 1938 L1017.9 1940.1 L1018.3 1942.4 L1018.6 1945 L1019 1947.9 L1019.5 1951 L1019.7 1952.5 L1019.9 1954 L1020.2 1955.7 L1020.4 1957.3 L1020.7 1959.1 L1021 1960.9 L1021.3 1962.7 L1021.6 1964.6 L1021.9 1966.6 L1022.2 1968.6 L1022.5 1970.6 L1022.8 1972.6 L1023.1 1974.7 L1023.4 1976.8 L1023.7 1979 L1024.1 1981.2 L1024.4 1983.3 L1024.7 1985.5 L1025.1 1987.7 L1025.4 1990 L1025.7 1992.2 L1026.1 1994.4 L1026.4 1996.6 L1026.7 1998.8 L1027 2001 L1027.3 2003.2 L1027.7 2005.4 L1028 2007.5 L1028.3 2009.6 L1028.5 2011.7 L1028.8 2013.8 L1029.1 2015.8 L1029.4 2017.8 L1029.6 2019.8 L1029.9 2021.9 L1030.1 2023.9 L1030.4 2026 L1030.6 2028 L1030.9 2030.1 L1031.1 2032.1 L1031.4 2034.2 L1031.6 2036.2 L1031.9 2038.3 L1032.1 2040.4 L1032.3 2042.4 L1032.6 2044.5 L1032.8 2046.5 L1033 2048.6 L1033.2 2050.6 L1033.5 2052.6 L1033.7 2054.6 L1033.9 2056.7 L1034.2 2058.7 L1034.4 2060.6 L1034.6 2062.6 L1034.8 2064.6 L1035.1 2066.5 L1035.3 2068.4 L1035.5 2070.4 L1035.8 2072.2 L1036 2074.1 L1036.2 2076 L1036.5 2077.8 L1036.7 2079.6 L1037 2081.9 L1037.3 2084.2 L1037.6 2086.4 L1037.9 2088.6 L1038.2 2090.8 L1038.5 2093 L1038.9 2095.2 L1039.2 2097.3 L1039.5 2099.4 L1039.8 2101.5 L1040.1 2103.6 L1040.4 2105.7 L1040.7 2107.7 L1041 2109.7 L1041.3 2111.7 L1041.6 2113.7 L1041.9 2115.7 L1042.2 2117.6 L1042.6 2119.5 L1042.9 2121.4 L1043.2 2123.3 L1043.5 2125.2 L1043.8 2127 L1044.1 2128.8 L1044.4 2130.6 L1044.8 2132.9 L1045.2 2135.2 L1045.6 2137.5 L1046 2139.7 L1046.3 2141.9 L1046.7 2144.1 L1047.1 2146.2 L1047.5 2148.3 L1047.9 2150.3 L1048.2 2152.3 L1048.6 2154.3 L1049 2156.3 L1049.4 2158.2 L1049.8 2160.1 L1050.2 2161.9 L1050.7 2163.7 L1051.1 2165.5 L1051.5 2167.2 L1052 2168.9 L1052.7 2171.3 L1053.5 2173.7 L1054.2 2176.1 L1055.1 2178.3 L1055.9 2180.5 L1056.7 2182.7 L1057.6 2184.7 L1058.4 2186.6 L1059.2 2188.4 L1060 2190.1 L1060.8 2191.7 L1061.5 2193.1 L1062.2 2194.4 L1064.1 2197.2 L1065.7 2198.5 L1067.3 2199.1 L1069.1 2200 L1070.8 2200.8 L1072.5 2201.3 L1074.3 2201.8 L1076.4 2203 L1078.7 2205 L1079.7 2206.1 L1080.7 2207.5 L1081.8 2209 L1082.9 2210.6 L1084 2212.3 L1085.2 2214.2 L1086.4 2216 L1087.6 2217.9 L1088.8 2219.8 L1090.1 2221.6 L1091.4 2223.4 L1092.7 2225 L1094 2226.5 L1095.5 2228 L1097 2229.5 L1098.5 2230.8 L1100.1 2232.2 L1101.7 2233.5 L1103.3 2234.8 L1104.9 2236 L1106.6 2237.2 L1108.2 2238.4 L1109.9 2239.5 L1111.5 2240.6 L1113.1 2241.7 L1114.8 2242.7 L1116.5 2243.6 L1118.2 2244.4 L1119.8 2245.3 L1121.5 2246.3 L1123.2 2247.4 L1124.9 2248.7 L1126.7 2250 L1128.5 2251.4 L1130.3 2252.8 L1132.3 2254.2 L1134 2255.1 L1135.6 2255.9 L1137.2 2256.6 L1138.8 2257.2 L1140.5 2257.7 L1142.2 2258.3 L1143.9 2258.9 L1145.8 2259.6 L1147.7 2260.5 L1149.8 2261.5 L1152.1 2262.6 L1154.5 2263.8 L1157.1 2264.9 L1158.6 2265.4 L1160 2265.9 L1161.3 2266.4 L1162.6 2266.9 L1163.8 2267.3 L1165.1 2267.8 L1166.3 2268.3 L1167.6 2268.8 L1168.9 2269.2 L1170.2 2269.7 L1171.7 2270.3 L1173.3 2270.8 L1175 2271.3 L1176.8 2271.8 L1178.8 2272.3 L1181 2272.8 L1183.4 2273.3 L1186 2273.8 L1188.8 2274.3 L1192 2274.8 L1195.4 2275.1 L1199.1 2275.4 L1203.1 2275.7 L1204.4 2275.7 L1205.8 2275.8 L1207.1 2275.9 L1208.5 2275.9 L1209.9 2275.9 L1211.3 2276 L1212.7 2276 L1214.1 2276.1 L1215.6 2276.2 L1217 2276.3 L1218.5 2276.4 L1220 2276.6 L1221.5 2276.9 L1223 2277.1 L1224.5 2277.4 L1226.1 2277.7 L1227.7 2278 L1229.3 2278.3 L1230.9 2278.5 L1232.5 2278.7 L1234.1 2278.9 L1235.8 2279.1 L1237.5 2279.3 L1239.2 2279.4 L1240.9 2279.6 L1242.6 2279.7 L1244.4 2279.7 L1246.1 2279.8 L1247.9 2279.8 L1249.8 2279.9 L1251.6 2279.9 L1253.4 2279.8 L1255.3 2279.8 L1257.2 2279.7 L1259.1 2279.5 L1261.1 2279.4 L1263 2279.2 L1265 2279.2 L1267 2279.3 L1269 2279.6 L1271.1 2279.9 L1273.2 2280.3 L1275.3 2280.6 L1277.4 2280.8 L1279.5 2280.8 L1281.7 2280.6 L1283.9 2280.3 L1286.1 2279.9 L1288.3 2279.7 L1290.6 2279.7 L1292.9 2279.8 L1295.2 2280 L1297.5 2280.3 L1299.9 2280.6 L1302.3 2280.9 L1304.7 2281.1 L1307.2 2281.4 L1309.6 2281.7 L1312.1 2282 L1314.6 2282.2 L1317.2 2282.3 L1319.8 2282.5 L1322.4 2282.6 L1325 2282.6 L1327.7 2282.5 L1330.4 2282.3 L1333.1 2282 L1335.8 2281.8 L1338.6 2281.7 L1341.4 2281.9 L1344.2 2282.3 L1347.1 2282.6 L1350 2282.8 L1351.5 2282.8 L1353.1 2282.8 L1354.7 2282.7 L1356.3 2282.5 L1358 2282.4 L1359.7 2282.3 L1361.4 2282.2 L1363.1 2282.1 L1364.8 2282.1 L1366.6 2282.2 L1368.4 2282.2 L1370.2 2282.3 L1372.1 2282.3 L1373.9 2282.4 L1375.8 2282.4 L1377.7 2282.4 L1379.6 2282.4 L1381.6 2282.5 L1383.6 2282.5 L1385.6 2282.6 L1387.6 2282.7 L1389.6 2282.9 L1391.6 2283.2 L1393.7 2283.4 L1395.8 2283.6 L1397.9 2283.7 L1400 2283.7 L1402.1 2283.6 L1404.2 2283.5 L1406.4 2283.4 L1408.5 2283.2 L1410.7 2283.1 L1412.9 2283 L1415.1 2282.8 L1417.4 2282.7 L1419.6 2282.6 L1421.8 2282.6 L1424.1 2282.6 L1426.4 2282.8 L1428.6 2282.9 L1430.9 2283.1 L1433.2 2283.2 L1435.5 2283.3 L1437.8 2283.3 L1440.1 2283.2 L1442.5 2283.2 L1444.8 2283.1 L1447.1 2283 L1449.5 2282.9 L1451.8 2282.7 L1454.2 2282.5 L1456.6 2282.4 L1458.9 2282.4 L1461.3 2282.6 L1463.7 2282.9 L1466.1 2283.1 L1468.4 2283.4 L1470.8 2283.5 L1473.2 2283.6 L1475.6 2283.6 L1478 2283.6 L1480.3 2283.6 L1482.7 2283.6 L1485.1 2283.5 L1487.5 2283.3 L1489.9 2283.2 L1492.3 2283.1 L1494.6 2283.1 L1497 2283.3 L1499.4 2283.6 L1501.7 2283.8 L1504.1 2284 L1506.4 2283.9 L1508.8 2283.5 L1511.1 2283 L1513.5 2282.4 L1515.8 2282 L1518.1 2281.7 L1520.4 2281.8 L1522.7 2282 L1525 2282.3 L1527.3 2282.6 L1529.6 2282.9 L1531.9 2283 L1534.1 2283.1 L1536.4 2283.2 L1538.6 2283.2 L1540.9 2283.2 L1543.1 2283.2 L1545.3 2283.1 L1547.5 2283 L1549.6 2282.8 L1551.8 2282.7 L1553.9 2282.5 L1556.1 2282.4 L1558.2 2282.3 L1560.3 2282.2 L1562.4 2282.1 L1564.4 2282.1 L1566.5 2282.2 L1568.5 2282.3 L1570.5 2282.6 L1572.5 2282.9 L1574.5 2283.1 L1576.4 2283.3 L1578.4 2283.4 L1580.3 2283.4 L1582.2 2283.3 L1584.1 2283.2 L1585.9 2283 L1587.7 2282.9 L1589.5 2282.8 L1591.3 2282.7 L1593.1 2282.7 L1594.8 2282.6 L1596.5 2282.6 L1598.2 2282.5 L1599.9 2282.5 L1601.5 2282.4 L1603.1 2282.3 L1604.7 2282.2 L1606.2 2282.1 L1607.8 2282 L1609.3 2281.9 L1610.7 2281.8 L1612.2 2281.8 L1613.6 2281.8 L1614.9 2282 L1616.3 2282.2 L1617.6 2282.5 L1618.9 2282.8 L1620.2 2283.1 L1621.4 2283.4 L1622.6 2283.7 L1623.7 2283.9 L1624.8 2284 L1625.9 2284.1 L1627 2284.1 L1628 2284.1" stroke="#000000" stroke-width="7.8" fill="none" stroke-linejoin="round" stroke-linecap="butt"/>
<path d="M301.7 2311.3 L302.2 2310.3 L302.8 2309 L303.3 2307.4 L304 2305.7 L304.7 2303.8 L305.4 2301.7 L306.2 2299.6 L307 2297.4 L308 2295.1 L308.9 2292.9 L310 2290.7 L311.1 2288.6 L312.2 2286.6 L313.5 2284.7 L314.8 2283.1 L316.2 2281.6 L317.7 2280.2 L319.3 2279.1 L320.8 2278 L322.3 2276.7 L324 2275.5 L325.7 2274.4 L327.4 2273.6 L329.2 2273.3 L331.1 2273.8 L333 2274.8 L335 2275.9 L337 2276.9 L339.1 2277.5 L341.2 2277.7 L343.4 2277.8 L345.6 2278 L347.9 2278.3 L350.3 2278.9 L352.6 2279.5 L355 2279.9 L357.5 2279.8 L360 2279.2 L361.7 2278.8 L363.4 2278.4 L365.2 2278.2 L367 2278.1 L368.9 2278.1 L370.8 2278.2 L372.7 2278.4 L374.6 2278.5 L376.6 2278.8 L378.6 2279.1 L380.6 2279.4 L382.6 2279.5 L384.7 2279.3 L386.7 2278.9 L388.8 2278.5 L390.9 2278.2 L393 2278.2 L395.1 2278.5 L397.2 2278.8 L399.3 2279.1 L401.4 2279 L403.5 2278.5 L405.6 2277.8 L407.7 2277.1 L409.8 2276.7 L411.9 2276.5 L413.9 2276.5 L416 2276.6 L418 2276.8 L420 2277.3 L422 2278.1 L424 2279 L426 2279.7 L428 2280.1 L430 2280 L432 2279.6 L434 2279.2 L436 2278.8 L438 2278.8 L440 2278.9 L442 2279 L444 2279.3 L446 2279.5 L448 2279.8 L450 2280.2 L452 2280.6 L454 2280.8 L456 2280.7 L458 2280.4 L460 2279.9 L462 2279.5 L464 2279.1 L466 2278.6 L468 2278.1 L470 2277.8 L472 2277.7 L474 2278.1 L476 2278.9 L478 2280 L480 2280.9 L482 2281.5 L484 2281.4 L486 2281.1 L488 2280.7 L490 2280.4 L492 2280.3 L494 2280.3 L496 2280.4 L498 2280.5 L500 2280.5 L502 2280.4 L504 2280.2 L506 2280.1 L508 2280 L510 2280.2 L512 2280.7 L514 2281.2 L516 2281.6 L518 2281.6 L520 2281 L522 2280.1 L524 2279.1 L526 2278.5 L528 2278.4 L530 2278.9 L532 2279.5 L534 2280.1 L536 2280.3 L538 2280 L540 2279.4 L542 2278.8 L544.1 2278.4 L546.2 2278.4 L548.4 2278.7 L550.5 2279.1 L552.7 2279.5 L555 2279.7 L557.2 2280 L559.4 2280.2 L561.7 2280.3 L564 2280.2 L566.2 2279.8 L568.4 2279.4 L570.7 2279 L572.9 2278.7 L575.1 2278.4 L577.2 2278.1 L579.3 2278 L581.4 2278.1 L583.4 2278.5 L585.4 2279.1 L587.3 2279.7 L589.2 2280.2 L590.9 2280.6 L592.7 2281 L594.3 2281.4 L595.9 2281.7 L597.3 2281.9 L598.7 2282 L600 2282.1 L604.5 2281.9 L607.5 2281.6 L609.6 2281.4 L610.9 2281.2 L611.8 2281.4 L612.7 2281.9 L614 2282.8 L615.1 2284.2 L616.1 2286.2 L617 2288.6 L617.8 2291.2 L618.5 2293.8 L619.2 2296.3 L620 2298.3 L620.8 2299.8 L621.6 2300.4 L622.2 2300 L622.4 2298.7 L622.4 2296.8 L622.4 2294.4 L622.7 2291.9 L623.3 2289.4 L624.6 2287.1 L626.8 2284.9 L630 2282.7 L631.2 2282 L632.6 2281.3 L634.1 2280.7 L635.8 2280.3 L637.6 2280 L639.5 2279.8 L641.6 2279.7 L643.7 2279.6 L645.9 2279.6 L648.1 2279.6 L650.4 2279.7 L652.8 2280 L655.2 2280.6 L657.6 2281.5 L660 2282.2 L662.5 2282.2 L664.9 2281.5 L667.3 2280.4 L669.7 2279.5 L672 2279.1 L674.2 2279 L676.4 2279 L678.5 2279.1 L680.5 2279.2 L682.4 2279.3 L684.2 2279.4 L685.9 2279.5 L687.4 2279.7 L688.8 2279.8 L690 2279.9 L694.3 2281.3 L696.5 2283.9 L697.2 2286.8 L697.2 2289.5 L697.1 2291.2 L697.6 2291.4 L698.1 2290.7 L698.3 2289.4 L698.4 2287.8 L698.5 2285.8 L698.5 2283.5 L698.6 2281.1 L698.9 2278.7 L699.4 2276.3 L700.2 2274 L701.4 2272 L703 2270.3 L704.2 2269.5 L705.5 2268.8 L707 2268.1 L708.6 2267.5 L710.4 2267 L712.3 2266.5 L714.2 2266 L716.3 2265.5 L718.3 2265.1 L720.5 2264.8 L722.6 2264.3 L724.7 2263.5 L726.9 2262.3 L728.9 2260.8 L731 2259.2 L733 2257.8 L734.8 2256.6 L736.6 2255.7 L738.3 2254.7 L740.1 2253.7 L741.8 2252.5 L743.6 2251.1 L745.3 2249.7 L747 2248.2 L748.6 2246.7 L750.3 2245.1 L751.8 2243.8 L753.4 2242.6 L754.9 2241.4 L756.3 2240.2 L757.7 2238.9 L759.1 2237.5 L760.3 2236.2 L761.6 2235 L762.7 2233.8 L763.8 2232.7 L765.8 2230.7 L767.3 2229.1 L768.6 2227.7 L769.6 2226.4 L770.6 2225.1 L771.5 2223.7 L772.7 2222 L774 2219.9 L774.9 2218.5 L775.8 2217 L776.8 2215.4 L777.8 2213.7 L778.9 2212 L780 2210.2 L781 2208.3 L782.1 2206.4 L783.1 2204.5 L784.2 2202.7 L785.2 2200.8 L786.1 2198.9 L787 2197.1 L787.9 2195.4 L788.8 2193.4 L789.7 2191.5 L790.5 2189.5 L791.3 2187.6 L792.1 2185.7 L792.8 2183.8 L793.5 2181.9 L794.2 2179.9 L794.9 2178 L795.6 2176 L796.3 2174 L797 2172 L797.7 2170.1 L798.4 2168.1 L799 2166.1 L799.7 2164 L800.4 2161.9 L801 2159.8 L801.7 2157.8 L802.4 2155.7 L803 2153.7 L803.7 2151.7 L804.4 2149.8 L805 2148 L805.7 2146.3 L806.7 2144 L807.7 2141.8 L808.7 2139.8 L809.7 2137.8 L810.8 2135.9 L811.8 2134.1 L812.7 2132.2 L813.7 2130.3 L814.6 2128.4 L815.5 2126.5 L816.4 2124.7 L817.2 2122.9 L818 2121.2 L818.8 2119.4 L819.6 2117.5 L820.4 2115.4 L821.1 2113.1 L821.8 2110.5 L822.2 2108.8 L822.6 2107 L823 2105 L823.3 2103 L823.7 2100.9 L824.1 2098.8 L824.4 2096.6 L824.7 2094.3 L825.1 2092.1 L825.4 2089.9 L825.7 2087.7 L826.1 2085.5 L826.4 2083.3 L826.7 2081.3 L827.1 2079.3 L827.5 2077.1 L827.9 2074.8 L828.3 2072.6 L828.8 2070.4 L829.2 2068.3 L829.6 2066.1 L830 2064 L830.4 2062 L830.8 2059.9 L831.3 2058 L831.7 2056.1 L832.1 2054.3 L832.5 2052.5 L833.1 2050.1 L833.7 2047.7 L834.3 2045.4 L834.9 2043.3 L835.4 2041.3 L836 2039.4 L836.6 2037.6 L837.3 2036 L837.9 2034.6 L839.4 2031.9 L840.9 2030 L842.5 2028.8 L844.1 2028.4 L845.7 2028.8 L847.4 2030 L849 2031.9 L850.4 2034.6 L851 2036 L851.5 2037.6 L852 2039.4 L852.5 2041.3 L853 2043.3 L853.5 2045.4 L853.9 2047.7 L854.4 2050.1 L854.8 2052.5 L855.1 2054.3 L855.4 2056.1 L855.7 2058.1 L856 2060.1 L856.2 2062.2 L856.5 2064.3 L856.8 2066.4 L857.1 2068.6 L857.3 2070.8 L857.6 2072.9 L857.9 2075.1 L858.1 2077.2 L858.4 2079.3 L858.7 2081.4 L859 2083.4 L859.2 2085.5 L859.5 2087.5 L859.8 2089.6 L860.1 2091.7 L860.3 2093.7 L860.6 2095.8 L860.9 2097.9 L861.2 2099.9 L861.5 2102 L861.7 2104 L862 2106.1 L862.3 2108.2 L862.5 2110.3 L862.8 2112.4 L863.1 2114.5 L863.3 2116.6 L863.6 2118.7 L863.9 2120.8 L864.2 2122.9 L864.4 2125 L864.7 2127 L865 2129 L865.2 2131 L865.5 2132.9 L865.8 2135.1 L866.1 2137.3 L866.5 2139.5 L866.8 2141.6 L867.1 2143.7 L867.4 2145.8 L867.7 2147.8 L868.1 2149.8 L868.4 2151.6 L868.7 2153.5 L869.1 2155.2 L869.7 2157.8 L870.2 2160.2 L870.8 2162.5 L871.4 2164.7 L872 2166.7 L872.8 2168.6 L873.6 2170.4 L875 2172.7 L876.5 2174.7 L878.2 2176.4 L879.9 2178 L881.6 2179.3 L883.7 2180.7 L885.7 2181.7 L887.9 2182.5 L890.5 2182.9 L892.5 2183.1 L894.8 2183.3 L897.2 2183.4 L899.6 2183.3 L902 2182.7 L904.1 2181.6 L905.4 2180.6 L906.6 2179.3 L907.8 2177.9 L908.9 2176.3 L910 2174.6 L911 2172.7 L912.1 2170.7 L913.2 2168.5 L914.3 2166.3 L915.1 2164.7 L915.9 2163 L916.7 2161.2 L917.5 2159.3 L918.3 2157.3 L919.2 2155.4 L920 2153.3 L920.8 2151.3 L921.6 2149.2 L922.3 2147.1 L923.1 2145 L923.8 2142.9 L924.5 2140.8 L925.1 2138.9 L925.7 2137 L926.3 2135.1 L926.9 2133.1 L927.4 2131.2 L927.9 2129.2 L928.5 2127.3 L929 2125.3 L929.5 2123.3 L930 2121.3 L930.5 2119.2 L931 2117.1 L931.6 2115 L932.1 2112.8 L932.6 2111 L933 2109.1 L933.5 2107.2 L933.9 2105.3 L934.4 2103.3 L934.8 2101.4 L935.3 2099.4 L935.7 2097.4 L936.2 2095.4 L936.6 2093.3 L937.1 2091.3 L937.5 2089.3 L938 2087.3 L938.4 2085.4 L938.9 2083.4 L939.3 2081.5 L939.8 2079.6 L940.3 2077.5 L940.8 2075.4 L941.3 2073.4 L941.8 2071.4 L942.3 2069.4 L942.8 2067.4 L943.3 2065.4 L943.9 2063.5 L944.4 2061.5 L944.9 2059.5 L945.4 2057.5 L945.9 2055.4 L946.4 2053.3 L946.9 2051.2 L947.4 2049 L947.8 2047.1 L948.3 2045.2 L948.7 2043.3 L949.1 2041.3 L949.5 2039.3 L950 2037.3 L950.4 2035.3 L950.8 2033.2 L951.2 2031.1 L951.7 2029.1 L952.1 2027 L952.5 2025 L953 2023 L953.4 2021 L953.8 2019 L954.2 2017.1 L954.7 2015.2 L955.1 2013.3 L955.6 2011.1 L956.1 2009 L956.7 2006.9 L957.2 2004.8 L957.7 2002.8 L958.3 2000.8 L958.8 1998.8 L959.3 1996.8 L959.9 1994.8 L960.4 1992.9 L960.9 1990.9 L961.4 1988.9 L961.9 1986.8 L962.3 1984.8 L962.8 1982.7 L963.2 1980.7 L963.6 1978.6 L964 1976.5 L964.4 1974.4 L964.8 1972.3 L965.2 1970.1 L965.6 1968 L965.9 1965.8 L966.3 1963.7 L966.6 1961.6 L967 1959.5 L967.3 1957.5 L967.6 1955.5 L968 1953.6 L968.3 1951.7 L968.6 1950 L969 1947.6 L969.5 1945.2 L969.8 1942.9 L970.2 1940.7 L970.6 1938.6 L970.9 1936.6 L971.3 1934.7 L971.6 1932.9 L972 1931.2 L972.3 1929.6 L972.7 1928.2 L973.7 1925.2 L974.6 1923.2 L975.5 1921.7 L976.7 1920 L978.1 1918.2 L979.6 1916.5 L981.2 1914.7 L982.9 1912.9 L984.3 1911.2 L985.8 1909.4 L987.3 1907.5 L988.8 1905.9 L990 1904.7 L992.2 1903.1 L994.1 1903.7 L994.9 1904.7 L995.8 1906.1 L996.6 1907.9 L997.5 1910.2 L998.2 1912.9 L998.5 1914.5 L998.9 1916.3 L999.2 1918.3 L999.5 1920.4 L999.8 1922.6 L1000.1 1924.9 L1000.4 1927.1 L1000.7 1929.3 L1000.9 1931.4 L1001.2 1933.3 L1001.5 1935.6 L1001.7 1937.8 L1001.9 1939.9 L1002.1 1942 L1002.3 1944 L1002.6 1946 L1002.9 1948 L1003.3 1950 L1003.9 1952 L1004.5 1953.7 L1005.3 1955.2 L1006.1 1956.9 L1006.9 1958.9 L1007.8 1961.5 L1008.7 1964.8 L1009 1966.2 L1009.4 1967.8 L1009.8 1969.4 L1010.2 1971.1 L1010.5 1972.9 L1010.9 1974.7 L1011.3 1976.6 L1011.7 1978.6 L1012.1 1980.7 L1012.6 1982.7 L1013 1984.9 L1013.4 1987 L1013.8 1989.3 L1014.2 1991.5 L1014.7 1993.8 L1015.1 1996.1 L1015.5 1998.4 L1015.9 2000.8 L1016.3 2003.1 L1016.6 2004.9 L1016.9 2006.8 L1017.2 2008.6 L1017.5 2010.5 L1017.8 2012.5 L1018.1 2014.5 L1018.5 2016.5 L1018.8 2018.5 L1019.1 2020.5 L1019.4 2022.6 L1019.7 2024.7 L1020 2026.8 L1020.3 2028.9 L1020.6 2031 L1020.9 2033.1 L1021.2 2035.2 L1021.5 2037.3 L1021.8 2039.5 L1022.2 2041.6 L1022.5 2043.7 L1022.8 2045.8 L1023.1 2047.9 L1023.4 2050 L1023.7 2052.1 L1024 2054.1 L1024.3 2056.1 L1024.6 2058.2 L1024.9 2060.3 L1025.2 2062.4 L1025.5 2064.5 L1025.8 2066.6 L1026.1 2068.7 L1026.4 2070.9 L1026.7 2073 L1027 2075.1 L1027.3 2077.2 L1027.6 2079.3 L1028 2081.4 L1028.3 2083.5 L1028.6 2085.6 L1028.9 2087.7 L1029.2 2089.7 L1029.5 2091.7 L1029.8 2093.7 L1030.1 2095.7 L1030.4 2097.7 L1030.7 2099.6 L1031 2101.4 L1031.3 2103.3 L1031.6 2105.1 L1032 2107.4 L1032.4 2109.7 L1032.8 2111.9 L1033.2 2114.1 L1033.6 2116.2 L1034 2118.3 L1034.4 2120.4 L1034.8 2122.4 L1035.2 2124.4 L1035.7 2126.3 L1036.1 2128.3 L1036.5 2130.2 L1036.9 2132.1 L1037.3 2134 L1037.7 2135.9 L1038.1 2137.8 L1038.5 2139.7 L1038.9 2141.5 L1039.3 2143.4 L1039.8 2145.6 L1040.2 2147.9 L1040.7 2150.1 L1041.1 2152.4 L1041.6 2154.6 L1042 2156.9 L1042.5 2159.1 L1042.9 2161.2 L1043.4 2163.4 L1043.9 2165.4 L1044.3 2167.5 L1044.8 2169.4 L1045.3 2171.3 L1045.8 2173.1 L1046.4 2174.9 L1046.9 2176.5 L1047.8 2178.9 L1048.7 2181.1 L1049.7 2183 L1050.7 2184.8 L1051.7 2186.4 L1052.7 2188 L1053.8 2189.5 L1054.9 2191.1 L1056 2192.7 L1057.1 2194.4 L1058.3 2196.2 L1059.5 2198.1 L1060.7 2200 L1062 2201.9 L1063.3 2203.8 L1064.7 2205.6 L1066 2207.4 L1067.3 2209.1 L1068.6 2210.7 L1069.9 2212.2 L1071.5 2213.8 L1073.2 2215.2 L1074.8 2216.5 L1076.5 2217.7 L1078.1 2218.8 L1079.7 2219.9 L1081.3 2221.1 L1082.7 2222.4 L1084.2 2223.9 L1085.5 2225.2 L1086.7 2226.6 L1087.8 2228 L1089.1 2229.7 L1090.5 2231.7 L1092.1 2234.2 L1092.9 2235.6 L1093.8 2237.2 L1094.7 2238.9 L1095.7 2240.8 L1096.6 2242.6 L1097.6 2244.3 L1098.6 2246 L1099.7 2247.7 L1100.7 2249.5 L1101.8 2251.3 L1102.9 2253.2 L1104 2255.1 L1105.1 2256.9 L1106.3 2258.6 L1107.4 2260.1 L1109.1 2262.2 L1110.7 2263.8 L1112.2 2265.1 L1113.8 2266.3 L1115.5 2267.3 L1117.3 2268.1 L1119.2 2268.8 L1121.4 2269.1 L1123.8 2268.8 L1126.5 2268.3 L1128 2268 L1129.7 2268 L1131.4 2268.2 L1133.1 2268.6 L1135 2269.1 L1136.9 2269.7 L1138.8 2270.3 L1140.8 2271.1 L1142.8 2272.1 L1144.9 2273 L1147 2273.6 L1149.2 2273.7 L1151.3 2273.4 L1153.6 2272.8 L1155.8 2272.2 L1158 2271.9 L1160.3 2271.7 L1162.5 2271.5 L1164.8 2271.5 L1166.6 2271.7 L1168.5 2272.1 L1170.5 2272.7 L1172.4 2273.1 L1174.5 2273.4 L1176.5 2273.2 L1178.6 2272.7 L1180.7 2272.1 L1182.9 2271.5 L1185 2271.1 L1187.2 2270.9 L1189.3 2270.6 L1191.4 2270.3 L1193.6 2269.9 L1195.7 2269.3 L1197.7 2268.8 L1199.8 2268.2 L1201.8 2267.7 L1203.7 2267.2 L1205.6 2266.6 L1207.5 2266.2 L1209.3 2266 L1211 2266.1 L1212.6 2266.4 L1214.9 2267.3 L1216.9 2268.4 L1218.7 2269.6 L1220.4 2270.9 L1222 2272.3 L1223.4 2273.8 L1224.9 2275.3 L1226.3 2276.8 L1227.7 2278.3 L1229.2 2279.6 L1230.8 2280.9 L1232.5 2282 L1234.3 2282.9 L1236.4 2283.5 L1238.7 2283.9 L1241.3 2283.8 L1242.9 2283.6 L1244.5 2283.3 L1246.2 2283.2 L1248 2283.1 L1249.9 2283.2 L1251.9 2283.3 L1253.9 2283.5 L1255.9 2283.5 L1258 2283.6 L1260.2 2283.6 L1262.3 2283.6 L1264.5 2283.7 L1266.8 2283.9 L1269 2284.3 L1271.3 2284.7 L1273.5 2284.8 L1275.7 2284.5 L1278 2283.9 L1280.2 2283.3 L1282.4 2282.8 L1284.5 2282.4 L1286.7 2282 L1288.8 2281.8 L1290.8 2281.6 L1292.8 2281.5 L1294.7 2281.6 L1296.5 2281.8 L1298.3 2281.9 L1300 2281.7 L1302.5 2280.7 L1304.9 2278.9 L1307.3 2277 L1309.6 2275.7 L1311.9 2275.2 L1314.1 2275.3 L1316.3 2275.4 L1318.3 2275.1 L1320.4 2274.2 L1322.3 2273 L1324.2 2271.8 L1326.1 2270.6 L1327.8 2269.8 L1329.5 2269.2 L1331.2 2268.9 L1332.7 2268.7 L1334.2 2268.7 L1335.6 2268.8 L1337 2268.9 L1338 2269.6 L1336.4 2270.4 L1333.3 2271.4 L1329.9 2272.8 L1327.4 2274.7 L1326.9 2276.7 L1329.8 2278.6 L1337.1 2281.3 L1350 2282.2 L1351.1 2281.7 L1352.2 2281.3 L1353.3 2281 L1354.5 2280.9 L1355.7 2281.1 L1357 2281.7 L1358.3 2282.4 L1359.7 2283.2 L1361 2284 L1362.5 2284.6 L1363.9 2284.7 L1365.4 2284.4 L1366.9 2283.6 L1368.5 2282.6 L1370.1 2281.6 L1371.7 2280.8 L1373.3 2280.6 L1375 2280.8 L1376.7 2281.4 L1378.5 2282.2 L1380.3 2282.8 L1382.1 2283.2 L1383.9 2283.4 L1385.8 2283.4 L1387.7 2283.4 L1389.6 2283.3 L1391.5 2283.1 L1393.5 2282.8 L1395.5 2282.3 L1397.5 2281.9 L1399.5 2281.8 L1401.6 2281.9 L1403.7 2282.4 L1405.8 2283 L1407.9 2283.4 L1410.1 2283.5 L1412.2 2283.4 L1414.4 2283.3 L1416.6 2283.1 L1418.9 2283 L1421.1 2283 L1423.4 2282.9 L1425.6 2282.9 L1427.9 2283.2 L1430.2 2283.7 L1432.6 2284.2 L1434.9 2284.4 L1437.2 2284 L1439.6 2282.9 L1442 2281.7 L1444.4 2280.9 L1446.8 2280.9 L1449.2 2281.4 L1451.6 2282.2 L1454 2282.8 L1456.4 2283.5 L1458.9 2284.3 L1461.3 2284.7 L1463.8 2284.6 L1466.2 2283.6 L1468.7 2282.3 L1471.2 2281.6 L1473.7 2282 L1476.1 2283.3 L1478.6 2284.7 L1481.1 2285.2 L1483.6 2284.4 L1486.1 2283.1 L1488.6 2282 L1491.1 2282 L1493.5 2282.7 L1496 2283.7 L1498.5 2284.2 L1501 2283.8 L1503.5 2282.9 L1506 2282 L1508.4 2281.7 L1510.9 2281.9 L1513.3 2282.5 L1515.8 2282.9 L1518.3 2283.1 L1520.7 2283.2 L1523.1 2283.1 L1525.5 2282.9 L1528 2282.4 L1530.4 2281.8 L1532.8 2281.2 L1535.1 2281.2 L1537.5 2281.9 L1539.9 2283 L1542.2 2283.9 L1544.6 2284.3 L1546.9 2284 L1549.2 2283.6 L1551.5 2283.2 L1553.8 2283.1 L1556 2283.4 L1558.3 2283.7 L1560.5 2284 L1562.7 2284.1 L1564.9 2283.9 L1567 2283.7 L1569.2 2283.4 L1571.3 2283.3 L1573.4 2283.3 L1575.5 2283.3 L1577.6 2283.3 L1579.6 2283.4 L1581.6 2283.4 L1583.6 2283.4 L1585.6 2283.3 L1587.5 2283.3 L1589.4 2283.1 L1591.3 2282.8 L1593.2 2282.4 L1595 2282.1 L1596.8 2282 L1598.6 2282.2 L1600.3 2282.8 L1602 2283.6 L1603.7 2284.4 L1605.4 2284.9 L1607 2285 L1608.6 2284.5 L1610.1 2283.6 L1611.6 2282.6 L1613.1 2281.7 L1614.6 2281.1 L1616 2280.9 L1617.4 2281.2 L1618.7 2281.8 L1620 2282.5 L1621.3 2283.3 L1622.5 2284 L1623.7 2284.6 L1624.8 2284.9 L1625.9 2285.1 L1627 2285.2 L1628 2285.2" stroke="#ff0000" stroke-width="7.8" fill="none" stroke-linejoin="round" stroke-linecap="butt"/>
<path d="M310 2300.6 L311.1 2300.1 L312.4 2299.5 L314 2298.8 L315.8 2297.9 L317.7 2297 L319.8 2296 L321.9 2294.8 L324 2293.3 L326.1 2291.8 L328.1 2290.3 L330 2289.2 L331.9 2288.2 L333.5 2287.5 L335.1 2287.1 L336.6 2286.7 L338.1 2286.5 L339.8 2286.3 L341.8 2286.1 L344.1 2285.5 L346.8 2284.4 L350 2282.9 L351.4 2282.3 L353 2281.8 L354.6 2281.6 L356.3 2281.6 L358 2281.7 L359.8 2282 L361.7 2282.2 L363.6 2282.4 L365.6 2282.3 L367.6 2282 L369.7 2281.5 L371.8 2280.9 L373.9 2280.5 L376 2280.2 L378.2 2280.4 L380.4 2280.9 L382.6 2281.4 L384.8 2281.8 L387 2282 L389.2 2281.8 L391.4 2281.3 L393.6 2280.7 L395.7 2280.2 L397.9 2280 L400 2280.1 L402 2280.3 L404 2280.7 L406.2 2281.1 L408.3 2281.3 L410.5 2281.4 L412.8 2281.4 L415.1 2281.3 L417.4 2281.2 L419.7 2281.1 L422.1 2281 L424.4 2281 L426.7 2281 L429 2280.9 L431.3 2280.8 L433.6 2280.6 L435.8 2280.3 L437.9 2280 L440 2279.9 L442 2279.8 L444 2280 L445.9 2280.3 L447.7 2280.6 L449.4 2281 L451 2281.3 L452.4 2281.6 L453.8 2281.9 L455 2282.3 L458.5 2283.9 L460.6 2286 L461.4 2288.5 L461.6 2291 L461.6 2293.2 L461.7 2294.7 L462.3 2295.3 L463 2294.7 L463.1 2293.1 L463.1 2290.9 L463.4 2288.4 L464.3 2285.9 L466.4 2283.4 L470 2280.9 L471.3 2280.3 L472.7 2279.8 L474.3 2279.3 L476 2279 L477.9 2278.9 L479.9 2279 L482 2279.2 L484.2 2279.5 L486.5 2279.7 L488.9 2280 L491.3 2280.3 L493.7 2280.6 L496.2 2280.8 L498.7 2280.8 L501.1 2280.7 L503.6 2280.6 L506 2280.4 L508.3 2280.3 L510.6 2280.2 L512.8 2280.1 L515 2280 L517 2280 L518.9 2280 L520.6 2280.1 L522.3 2280.2 L523.7 2280.3 L525 2280.4 L528.7 2281.7 L531 2284 L532.1 2286.6 L532.6 2289.2 L532.8 2291.4 L533.2 2293 L534 2293.8 L534.5 2293.4 L534.2 2291.7 L533.6 2289.4 L533.4 2286.9 L534.3 2284.7 L536.9 2283.2 L542 2282.3 L543.2 2281.9 L544.5 2281.4 L545.9 2280.8 L547.4 2280.2 L549.1 2279.6 L550.8 2279.1 L552.7 2278.9 L554.6 2279 L556.6 2279.3 L558.7 2279.7 L560.9 2280.2 L563.1 2280.5 L565.3 2280.6 L567.7 2280.7 L570 2280.7 L572.4 2280.6 L574.9 2280.4 L577.3 2279.9 L579.8 2279.3 L582.3 2278.8 L584.7 2278.4 L587.2 2278.3 L589.7 2278.5 L592.1 2278.7 L594.6 2278.9 L597 2279 L599.3 2279.1 L601.7 2279.1 L603.9 2279.1 L606.1 2279.2 L608.3 2279.3 L610.4 2279.5 L612.4 2279.8 L614.3 2280.1 L616.2 2280.3 L617.9 2280.4 L619.6 2280.5 L621.1 2280.6 L622.5 2280.6 L623.8 2280.6 L625 2280.7 L630.1 2282 L632.8 2284.5 L633.7 2287.1 L633.5 2289.5 L632.9 2291.6 L632.5 2293.1 L633 2293.8 L634 2293.4 L634.8 2292 L635.6 2289.9 L636.5 2287.6 L637.5 2285.3 L639 2283.5 L641 2282.3 L642.5 2281.8 L644.3 2281.5 L646.2 2281.2 L648.4 2280.9 L650.7 2280.6 L653 2280.2 L655.3 2279.8 L657.6 2279.4 L659.7 2279.2 L661.7 2279.4 L663.5 2280 L665 2280.8 L666.8 2282.6 L668.2 2285.2 L669.2 2288.1 L670.1 2291 L670.8 2293.8 L671.5 2296 L672.3 2297.5 L673.2 2297.8 L673.9 2297.2 L674.5 2295.9 L675.1 2294.2 L675.6 2292.1 L676.1 2289.7 L676.7 2287.1 L677.4 2284.4 L678.1 2281.8 L678.9 2279.4 L679.9 2277.2 L681 2275.3 L682.4 2273.7 L683.8 2272.3 L685.3 2271.3 L686.9 2270.4 L688.6 2269.7 L690.5 2269.1 L692.5 2268.7 L694.8 2268.3 L697.3 2268.1 L700 2267.9 L701.6 2267.9 L703.2 2267.9 L705 2267.9 L706.9 2267.9 L708.8 2267.8 L710.8 2267.7 L712.9 2267.6 L715 2267.5 L717.2 2267.3 L719.4 2267.2 L721.6 2267 L723.7 2266.7 L725.9 2266.5 L728.1 2266.3 L730.2 2266 L732.3 2265.8 L734.4 2265.6 L736.4 2265.2 L738.3 2264.8 L740.3 2264.2 L742.3 2263.5 L744.3 2262.8 L746.3 2261.9 L748.4 2261 L750.4 2260 L752.4 2258.8 L754.3 2257.5 L756.3 2256.2 L758.2 2254.9 L760.1 2253.8 L761.9 2252.8 L763.6 2252 L765.3 2251.3 L767 2250.6 L768.5 2250 L770 2249.3 L771.4 2248.7 L773.7 2247.4 L775.7 2246.2 L777.4 2244.8 L779 2243.3 L780.4 2241.8 L781.7 2240.1 L783 2238.6 L784.2 2236.9 L785.4 2234.9 L786.7 2232.7 L787.5 2231.2 L788.2 2229.7 L788.9 2228.1 L789.6 2226.4 L790.3 2224.6 L791 2222.8 L791.7 2220.9 L792.3 2218.9 L793 2216.9 L793.6 2214.9 L794.2 2212.8 L794.8 2210.7 L795.4 2208.6 L796 2206.5 L796.6 2204.3 L797.1 2202.2 L797.7 2200 L798.2 2198.1 L798.6 2196.3 L799.1 2194.3 L799.5 2192.3 L799.9 2190.3 L800.3 2188.3 L800.8 2186.2 L801.2 2184.2 L801.5 2182.1 L801.9 2180 L802.3 2177.9 L802.7 2175.8 L803.1 2173.7 L803.5 2171.6 L803.8 2169.6 L804.2 2167.5 L804.6 2165.5 L804.9 2163.5 L805.3 2161.5 L805.7 2159.6 L806.1 2157.5 L806.5 2155.4 L807 2153.4 L807.4 2151.4 L807.8 2149.3 L808.2 2147.4 L808.6 2145.4 L809.1 2143.4 L809.5 2141.5 L809.9 2139.5 L810.3 2137.6 L810.7 2135.6 L811.1 2133.7 L811.4 2131.7 L811.8 2129.8 L812.2 2127.8 L812.5 2125.9 L812.9 2123.9 L813.2 2121.9 L813.6 2119.9 L813.9 2117.8 L814.2 2115.8 L814.5 2113.7 L814.8 2111.7 L815.1 2109.6 L815.4 2107.5 L815.7 2105.5 L816 2103.5 L816.3 2101.4 L816.6 2099.4 L816.8 2097.5 L817.1 2095.5 L817.4 2093.6 L817.7 2091.8 L817.9 2090 L818.2 2088.2 L818.6 2085.8 L818.9 2083.6 L819.3 2081.4 L819.6 2079.3 L820 2077.2 L820.3 2075.2 L820.7 2073.3 L821 2071.3 L821.3 2069.4 L821.7 2067.4 L822 2065.4 L822.4 2063.4 L822.7 2061.4 L823 2059.3 L823.4 2057.2 L823.7 2055 L824 2052.9 L824.4 2050.7 L824.7 2048.5 L825 2046.4 L825.3 2044.3 L825.7 2042.2 L826 2040.2 L826.4 2038.2 L826.7 2036.4 L827.1 2034.6 L827.6 2032.2 L828.2 2029.9 L828.8 2027.7 L829.3 2025.6 L829.9 2023.6 L830.5 2021.7 L831.2 2020 L831.8 2018.3 L832.5 2016.8 L833.8 2014.3 L835.1 2012.3 L836.5 2010.5 L838 2009.1 L839.6 2007.9 L841.7 2006.8 L844 2006.2 L846.3 2005.9 L848.6 2006.1 L850.9 2006.6 L853.3 2007.5 L855.6 2008.8 L857.5 2010.5 L858.7 2012.2 L859.6 2014.2 L860.4 2016.5 L861.2 2018.9 L862 2021.3 L862.6 2023.1 L863.3 2024.9 L863.9 2026.8 L864.6 2028.8 L865.2 2030.7 L865.8 2032.7 L866.4 2034.6 L867 2036.8 L867.7 2038.9 L868.2 2041 L868.8 2043.2 L869.4 2045.5 L870 2048 L870.4 2049.8 L870.7 2051.8 L871.1 2053.9 L871.4 2056 L871.8 2058.1 L872.1 2060.2 L872.6 2062.3 L873 2064.2 L873.6 2065.9 L874.6 2068.3 L875.8 2070.4 L877 2072.4 L878.3 2074.3 L879.6 2075.9 L880.7 2077.5 L882.2 2079.2 L883.6 2080.3 L884.9 2081.5 L886.1 2083.8 L886.6 2085.3 L887.1 2087 L887.6 2088.9 L888.1 2090.9 L888.6 2093.1 L889.1 2095.2 L889.5 2097.4 L890 2099.6 L890.5 2101.6 L891 2103.6 L891.5 2105.7 L892 2107.8 L892.4 2109.9 L892.9 2112 L893.4 2114 L893.9 2115.9 L894.5 2117.8 L895 2119.5 L895.8 2121.9 L896.7 2124.2 L897.6 2126.4 L898.5 2128.3 L899.4 2129.9 L900.4 2131.1 L902.3 2132.8 L904.2 2133.4 L906.6 2132 L907.6 2130.9 L908.6 2129.5 L909.7 2127.9 L910.9 2126 L912 2123.9 L913.3 2121.8 L914.5 2119.6 L915.6 2117.4 L916.8 2115.3 L917.7 2113.5 L918.6 2111.6 L919.5 2109.7 L920.4 2107.6 L921.3 2105.6 L922.2 2103.5 L923.1 2101.5 L924 2099.6 L925 2097.9 L926 2096.3 L927 2094.9 L928.7 2093.2 L930.6 2091.9 L932.6 2091 L934.5 2090.2 L936.4 2089.4 L938.2 2088.5 L939.8 2087.2 L941.2 2085.5 L942.3 2083.6 L943.4 2081.4 L944.4 2079.3 L945.4 2077.3 L946.4 2075.7 L947.4 2074.5 L949.9 2073.3 L952.3 2073.5 L955.1 2074.5 L956.7 2075.6 L958.5 2077.2 L960.4 2079.1 L962.2 2080.8 L963.9 2081.9 L965.3 2082.1 L966.4 2081 L967.3 2078.9 L968 2076.2 L968.7 2073.4 L969.5 2071 L970.4 2069.4 L972.8 2067.8 L975.4 2067.6 L978.1 2069.4 L978.9 2070.6 L979.7 2072.3 L980.4 2074.2 L981.2 2076.4 L982 2078.7 L982.8 2081 L983.7 2083.2 L984.6 2085.3 L985.7 2087.2 L986.9 2088.9 L988.2 2090.7 L989.6 2092.4 L991 2094.1 L992.5 2095.6 L994 2097.1 L995.6 2098.3 L997.1 2099.3 L998.5 2100 L1000.6 2100.6 L1002.7 2100.8 L1004.9 2100.6 L1007 2100 L1009.1 2098.9 L1011.2 2097.4 L1012.5 2096.2 L1013.8 2094.7 L1015.2 2092.9 L1016.6 2090.9 L1017.9 2088.8 L1019.2 2086.7 L1020.5 2084.7 L1021.8 2082.8 L1022.9 2081 L1024 2079.6 L1025.9 2077.2 L1027.4 2075.1 L1028.8 2073.4 L1030.2 2072.3 L1031.6 2071.9 L1033.1 2072.2 L1034.6 2073 L1036 2074.5 L1037.6 2076.7 L1039.3 2079.6 L1040 2081 L1040.8 2082.5 L1041.5 2084.3 L1042.3 2086.1 L1043.2 2088.1 L1044 2090.2 L1044.8 2092.3 L1045.7 2094.5 L1046.5 2096.7 L1047.3 2098.9 L1048 2101 L1048.8 2103.1 L1049.5 2105.1 L1050.2 2107 L1050.8 2108.8 L1051.4 2110.5 L1052 2112.1 L1052.6 2113.7 L1053.2 2115.4 L1053.7 2117.1 L1054.3 2118.9 L1054.8 2120.9 L1055.4 2123 L1056 2125.3 L1056.5 2127.8 L1057.1 2130.6 L1057.4 2132.2 L1057.7 2133.9 L1058 2135.7 L1058.3 2137.5 L1058.6 2139.5 L1058.9 2141.5 L1059.3 2143.6 L1059.6 2145.7 L1059.9 2147.9 L1060.2 2150.1 L1060.5 2152.4 L1060.8 2154.6 L1061.1 2156.9 L1061.4 2159.2 L1061.7 2161.4 L1062 2163.7 L1062.3 2165.9 L1062.6 2168.1 L1063 2170.2 L1063.3 2172.3 L1063.6 2174.3 L1063.9 2176.3 L1064.2 2178.1 L1064.5 2179.9 L1064.8 2181.6 L1065.3 2184.3 L1065.8 2186.8 L1066.3 2189.3 L1066.8 2191.6 L1067.2 2193.9 L1067.7 2196 L1068.2 2198.1 L1068.7 2200.1 L1069.2 2202 L1069.7 2203.9 L1070.2 2205.7 L1070.7 2207.4 L1071.3 2209 L1071.8 2210.6 L1072.4 2212.2 L1073.4 2214.6 L1074.4 2216.6 L1075.5 2218.4 L1076.5 2220 L1077.6 2221.5 L1078.8 2223 L1080 2224.4 L1081.3 2225.9 L1082.7 2227.6 L1083.9 2229 L1085.1 2230.5 L1086.4 2232 L1087.7 2233.5 L1089 2235 L1090.4 2236.5 L1091.8 2238 L1093.3 2239.5 L1094.7 2240.8 L1096.3 2242.1 L1097.8 2243.4 L1099.4 2244.7 L1100.9 2246 L1102.5 2247.2 L1104.1 2248.4 L1105.7 2249.5 L1107.4 2250.5 L1109.1 2251.5 L1111 2252.5 L1112.9 2253.6 L1114.9 2254.8 L1117 2256.1 L1118.6 2257.1 L1120.3 2258.1 L1122 2259 L1123.7 2259.8 L1125.5 2260.5 L1127.3 2261.1 L1129.2 2261.7 L1131.1 2262.2 L1133.1 2262.7 L1135.1 2263.2 L1137.1 2263.8 L1139.2 2264.5 L1141.3 2265.1 L1143.5 2265.8 L1145.7 2266.5 L1147.5 2267.1 L1149.2 2267.8 L1151 2268.5 L1152.8 2269.1 L1154.6 2269.7 L1156.4 2270.2 L1158.3 2270.5 L1160.1 2270.5 L1162 2270.4 L1164 2270.3 L1166 2270.3 L1168 2270.5 L1170.1 2271.2 L1172.2 2272.2 L1174.4 2273.4 L1176.7 2274.4 L1179 2275.2 L1181.4 2275.6 L1183.9 2275.7 L1185.6 2275.7 L1187.3 2275.6 L1189 2275.7 L1190.6 2275.8 L1192.3 2276 L1194 2276.2 L1195.7 2276.5 L1197.4 2276.7 L1199.1 2276.9 L1200.9 2277.1 L1202.7 2277.1 L1204.5 2277.1 L1206.3 2277.1 L1208.2 2277 L1210.1 2277 L1212.1 2277 L1214.1 2277.1 L1216.2 2277.3 L1218.4 2277.4 L1220.6 2277.6 L1222.9 2277.7 L1225.3 2277.7 L1227.7 2277.7 L1230.2 2277.7 L1232.9 2277.7 L1235.6 2277.7 L1238.4 2277.8 L1241.3 2277.9 L1242.8 2278 L1244.4 2278 L1245.9 2278 L1247.4 2278 L1248.9 2278 L1250.4 2277.9 L1251.9 2277.9 L1253.4 2277.8 L1254.9 2277.8 L1256.4 2277.8 L1258 2277.9 L1259.5 2278 L1261 2278 L1262.6 2278.1 L1264.1 2278.2 L1265.7 2278.3 L1267.3 2278.4 L1268.9 2278.4 L1270.5 2278.5 L1272.1 2278.5 L1273.8 2278.5 L1275.5 2278.5 L1277.2 2278.6 L1278.9 2278.6 L1280.6 2278.6 L1282.4 2278.6 L1284.2 2278.7 L1286.1 2278.7 L1288 2278.8 L1289.9 2279 L1291.8 2279.3 L1293.8 2279.7 L1295.8 2280.2 L1297.9 2280.5 L1300 2280.8 L1302.1 2280.9 L1304.3 2280.9 L1306.6 2280.8 L1308.9 2280.7 L1311.2 2280.6 L1313.6 2280.6 L1316 2280.6 L1318.5 2280.5 L1321.1 2280.3 L1323.7 2280 L1326.4 2279.5 L1329.1 2279 L1331.9 2278.6 L1334.7 2278.5 L1337.6 2278.7 L1340.6 2279 L1343.7 2279.3 L1346.8 2279.6 L1350 2279.9 L1351.5 2280 L1353 2280.1 L1354.5 2280.2 L1356.1 2280.3 L1357.7 2280.5 L1359.3 2280.6 L1361 2280.7 L1362.7 2280.8 L1364.4 2280.8 L1366.1 2280.8 L1367.9 2280.8 L1369.7 2280.6 L1371.5 2280.5 L1373.4 2280.3 L1375.3 2280.2 L1377.2 2280.1 L1379.1 2280.2 L1381.1 2280.3 L1383.1 2280.5 L1385.1 2280.6 L1387.1 2280.8 L1389.1 2281 L1391.2 2281.2 L1393.3 2281.5 L1395.4 2281.7 L1397.5 2281.9 L1399.6 2281.8 L1401.8 2281.5 L1404 2281.1 L1406.2 2280.6 L1408.4 2280.2 L1410.6 2280 L1412.8 2280 L1415.1 2280.1 L1417.3 2280.2 L1419.6 2280.4 L1421.9 2280.6 L1424.2 2280.9 L1426.5 2281.3 L1428.8 2281.6 L1431.1 2281.8 L1433.4 2281.8 L1435.8 2281.5 L1438.1 2281.1 L1440.5 2280.8 L1442.9 2280.6 L1445.2 2280.7 L1447.6 2281.1 L1450 2281.5 L1452.3 2281.8 L1454.7 2281.9 L1457.1 2281.9 L1459.5 2281.6 L1461.9 2281.4 L1464.3 2281.1 L1466.6 2280.9 L1469 2280.6 L1471.4 2280.3 L1473.8 2280.1 L1476.2 2280 L1478.5 2280.3 L1480.9 2280.6 L1483.3 2281.1 L1485.6 2281.4 L1488 2281.4 L1490.3 2281.2 L1492.7 2280.8 L1495 2280.5 L1497.3 2280.3 L1499.7 2280.5 L1502 2281 L1504.3 2281.6 L1506.5 2282.1 L1508.8 2282.5 L1511.1 2282.8 L1513.3 2282.9 L1515.6 2282.9 L1517.8 2282.9 L1520 2282.8 L1522.2 2282.7 L1524.3 2282.4 L1526.5 2282.2 L1528.6 2282 L1530.8 2281.9 L1532.9 2282 L1535 2282.3 L1537 2282.6 L1539.1 2282.9 L1541.1 2283 L1543.1 2282.9 L1545.1 2282.5 L1547 2282.1 L1549 2281.6 L1550.9 2281.2 L1552.8 2280.9 L1554.6 2280.8 L1556.5 2280.9 L1558.3 2281.1 L1560 2281.3 L1561.8 2281.4 L1563.5 2281.5 L1565.2 2281.4 L1566.9 2281.3 L1568.5 2281.2 L1570.1 2281 L1571.7 2280.8 L1573.2 2280.7 L1574.7 2280.5 L1576.2 2280.4 L1577.6 2280.3 L1579 2280.1 L1580.4 2280 L1581.7 2279.9 L1583 2279.8 L1584.3 2279.8 L1585.5 2279.8 L1586.7 2279.9 L1587.8 2280 L1588.9 2280.2 L1590 2280.5 L1602.2 2279.8 L1608.6 2277.1 L1610.5 2275.6 L1609.2 2273.3 L1606.2 2271.3 L1602.8 2270.4 L1600.2 2269.6 L1600 2268.5 L1601.9 2267.1 L1604 2265.8 L1606.1 2265.1 L1608.2 2265.1 L1610.2 2266 L1612 2267.4 L1613.2 2269 L1614.3 2271 L1615.3 2273.3 L1616.2 2275.7 L1617.2 2278.1 L1618.1 2280.3 L1619 2282.1 L1620 2283.3 L1622.2 2284.4 L1624.5 2284.3 L1626.6 2283.7 L1628 2283.3" stroke="#0000ff" stroke-width="7.8" fill="none" stroke-linejoin="round" stroke-linecap="butt"/>
<path d="M318 2280.6 L319.1 2280.6 L320.4 2280.6 L321.9 2280.6 L323.6 2280.6 L325.5 2280.6 L327.5 2280.6 L329.7 2280.4 L332.1 2280.1 L334.6 2279.7 L337.2 2279.3 L340 2278.7 L341.6 2278.2 L343.3 2277.8 L345 2277.3 L346.8 2277 L348.7 2277 L350.7 2277.3 L352.7 2277.8 L354.7 2278.4 L356.8 2278.9 L358.9 2279.1 L361 2279.1 L363.1 2279 L365.3 2278.8 L367.4 2278.5 L369.6 2278.2 L371.7 2277.7 L373.8 2277.2 L375.9 2276.8 L378 2276.7 L380 2277 L382 2277.6 L384.1 2278.3 L386.2 2278.9 L388.3 2279.2 L390.5 2278.9 L392.6 2278.3 L394.8 2277.5 L397 2277 L399.1 2276.6 L401.2 2276.5 L403.4 2276.5 L405.4 2276.5 L407.5 2276.5 L409.5 2276.4 L411.4 2276.3 L413.3 2276.3 L415.1 2276.2 L416.8 2276.1 L418.5 2276 L420 2275.9 L422.8 2275.7 L425.4 2275.4 L427.7 2274.8 L429.9 2274.1 L431.8 2273.1 L433.6 2272.1 L435.3 2271.2 L436.9 2270.3 L438.4 2269.6 L440 2269 L442.3 2268.2 L444.2 2267.2 L445.9 2266.1 L447.5 2265 L449.3 2263.8 L451.4 2262.9 L453.3 2262.3 L455.3 2261.9 L457.5 2261.5 L459.7 2261.1 L462 2260.4 L464.2 2259.6 L466.5 2258.6 L468.7 2257.5 L470.3 2256.7 L471.9 2255.8 L473.6 2254.8 L475.2 2253.6 L476.8 2252.4 L478.5 2251 L480.1 2249.5 L481.6 2247.9 L483.1 2246.2 L484.6 2244.4 L485.9 2242.8 L487.3 2241.1 L488.6 2239.5 L489.8 2237.9 L490.9 2236.4 L492 2234.8 L493.1 2233.2 L494.1 2231.4 L495.2 2229.5 L496.3 2227.5 L497.4 2225.3 L498.2 2223.7 L499 2222.1 L499.7 2220.4 L500.5 2218.6 L501.3 2216.8 L502.1 2214.9 L502.9 2213 L503.7 2211 L504.5 2209 L505.2 2207 L506 2205 L506.7 2202.9 L507.5 2200.8 L508.2 2198.7 L508.9 2196.6 L509.5 2194.7 L510.1 2192.8 L510.7 2190.9 L511.2 2188.9 L511.8 2186.9 L512.4 2184.9 L512.9 2182.8 L513.5 2180.8 L514 2178.7 L514.5 2176.6 L515 2174.6 L515.6 2172.5 L516.1 2170.4 L516.6 2168.3 L517.1 2166.3 L517.6 2164.2 L518.1 2162.2 L518.6 2160.2 L519.1 2158.2 L519.6 2156.1 L520.1 2154.1 L520.6 2152.1 L521.1 2150.1 L521.5 2148 L522 2146 L522.5 2144 L522.9 2142 L523.4 2139.9 L523.9 2137.9 L524.3 2135.9 L524.8 2133.9 L525.2 2131.9 L525.7 2129.8 L526.1 2127.8 L526.5 2125.8 L527 2123.7 L527.4 2121.7 L527.8 2119.7 L528.2 2117.7 L528.7 2115.6 L529.1 2113.6 L529.5 2111.6 L529.9 2109.5 L530.3 2107.5 L530.7 2105.5 L531.1 2103.4 L531.5 2101.4 L531.9 2099.4 L532.2 2097.4 L532.6 2095.3 L533 2093.3 L533.4 2091.3 L533.7 2089.2 L534.1 2087.2 L534.4 2085.2 L534.8 2083.2 L535.1 2081.2 L535.5 2079.1 L535.8 2077.1 L536.2 2075.1 L536.5 2073.1 L536.8 2071 L537.1 2069 L537.5 2067 L537.8 2065 L538.1 2063 L538.4 2060.9 L538.7 2058.9 L539 2056.9 L539.3 2054.8 L539.6 2052.8 L539.8 2050.8 L540.1 2048.8 L540.4 2046.7 L540.6 2044.7 L540.9 2042.7 L541.1 2040.6 L541.4 2038.6 L541.6 2036.6 L541.9 2034.5 L542.2 2032.5 L542.4 2030.5 L542.7 2028.5 L543 2026.4 L543.3 2024.4 L543.6 2022.3 L543.9 2020.2 L544.3 2018.1 L544.6 2015.9 L544.9 2013.7 L545.3 2011.5 L545.6 2009.3 L546 2007.2 L546.3 2005 L546.7 2002.9 L547 2000.8 L547.4 1998.8 L547.7 1996.9 L548.1 1995 L548.4 1993.2 L548.8 1991.6 L549.1 1990 L549.8 1987.2 L550.5 1984.9 L551.1 1983.1 L551.8 1981.5 L552.4 1979.9 L553.1 1978.2 L553.8 1976.1 L554.5 1973.5 L554.9 1971.9 L555.3 1970.2 L555.7 1968.4 L556.1 1966.6 L556.5 1964.7 L556.9 1962.8 L557.4 1960.8 L557.8 1958.7 L558.2 1956.6 L558.6 1954.4 L559 1952.2 L559.4 1949.9 L559.8 1947.6 L560.2 1945.3 L560.6 1942.9 L560.9 1941.1 L561.1 1939.3 L561.4 1937.4 L561.7 1935.5 L561.9 1933.6 L562.2 1931.7 L562.4 1929.7 L562.7 1927.8 L562.9 1925.8 L563.1 1923.7 L563.4 1921.7 L563.6 1919.6 L563.9 1917.5 L564.1 1915.3 L564.4 1913.2 L564.6 1911 L564.9 1908.8 L565.2 1906.5 L565.4 1904.3 L565.7 1902 L565.9 1900.1 L566.2 1898.3 L566.4 1896.3 L566.6 1894.4 L566.9 1892.4 L567.1 1890.5 L567.3 1888.5 L567.6 1886.4 L567.8 1884.4 L568.1 1882.3 L568.3 1880.3 L568.6 1878.2 L568.8 1876.1 L569 1874 L569.3 1871.9 L569.5 1869.8 L569.8 1867.7 L570 1865.6 L570.3 1863.5 L570.6 1861.4 L570.8 1859.3 L571.1 1857.2 L571.3 1855.1 L571.6 1853 L571.8 1851 L572 1849 L572.3 1847 L572.5 1845.1 L572.8 1843.3 L573 1841.4 L573.2 1839.6 L573.5 1837.8 L573.7 1836.1 L574 1834.3 L574.2 1832.5 L574.4 1830.7 L574.7 1828.9 L574.9 1827.1 L575.2 1825.2 L575.4 1823.3 L575.7 1821.3 L575.9 1819.3 L576.2 1817.2 L576.4 1815 L576.7 1812.8 L577 1810.4 L577.2 1808 L577.5 1805.5 L577.8 1802.9 L578.1 1800.1 L578.3 1798.5 L578.4 1796.9 L578.6 1795.2 L578.8 1793.5 L579 1791.7 L579.1 1789.9 L579.3 1788 L579.5 1786.1 L579.7 1784.2 L579.9 1782.2 L580.1 1780.2 L580.3 1778.2 L580.5 1776.2 L580.7 1774.1 L580.9 1772 L581.1 1769.9 L581.3 1767.8 L581.5 1765.7 L581.7 1763.5 L581.9 1761.3 L582.1 1759.2 L582.3 1757 L582.5 1754.8 L582.7 1752.6 L582.9 1750.5 L583.1 1748.3 L583.3 1746.1 L583.5 1743.9 L583.7 1741.8 L583.9 1739.6 L584.1 1737.5 L584.3 1735.4 L584.5 1733.3 L584.7 1731.2 L584.9 1729.2 L585.1 1727.1 L585.3 1725.1 L585.5 1723.1 L585.7 1721.2 L585.8 1719.3 L586 1717.4 L586.2 1715.6 L586.4 1713.8 L586.5 1712 L586.7 1710.3 L586.9 1707.9 L587.2 1705.5 L587.4 1703.1 L587.6 1700.8 L587.9 1698.5 L588.1 1696.3 L588.3 1694.1 L588.5 1691.9 L588.7 1689.7 L588.9 1687.6 L589.1 1685.5 L589.3 1683.5 L589.5 1681.4 L589.7 1679.4 L589.9 1677.4 L590.1 1675.5 L590.3 1673.5 L590.5 1671.6 L590.7 1669.7 L590.9 1667.8 L591.1 1666 L591.3 1664.1 L591.5 1662.3 L591.6 1660.5 L591.8 1658.7 L592 1656.9 L592.2 1655.1 L592.4 1653.3 L592.5 1651.5 L592.7 1649.8 L592.9 1648 L593.1 1645.7 L593.4 1643.3 L593.6 1641.1 L593.8 1638.9 L594 1636.7 L594.2 1634.5 L594.4 1632.4 L594.6 1630.3 L594.8 1628.2 L595 1626.2 L595.2 1624.2 L595.4 1622.2 L595.6 1620.2 L595.8 1618.3 L596 1616.4 L596.2 1614.4 L596.4 1612.5 L596.6 1610.6 L596.8 1608.8 L597 1606.9 L597.2 1605 L597.4 1603.2 L597.6 1601.3 L597.8 1599.1 L598.1 1596.8 L598.3 1594.6 L598.6 1592.4 L598.8 1590.2 L599.1 1588 L599.3 1585.9 L599.6 1583.7 L599.8 1581.6 L600.1 1579.6 L600.3 1577.5 L600.6 1575.5 L600.8 1573.5 L601.1 1571.6 L601.3 1569.6 L601.6 1567.8 L601.8 1565.9 L602.1 1564.1 L602.3 1562.4 L602.7 1559.9 L603 1557.6 L603.4 1555.3 L603.7 1553.1 L604.1 1550.9 L604.5 1548.9 L604.8 1546.9 L605.2 1545 L605.6 1543.1 L605.9 1541.2 L606.3 1539.4 L606.6 1537.6 L607 1535.9 L607.5 1533.4 L608 1531.1 L608.5 1528.8 L609 1526.7 L609.5 1524.6 L610 1522.6 L610.6 1520.7 L611.1 1518.9 L611.6 1517.2 L612.4 1514.6 L613.3 1512.1 L614.1 1509.8 L615 1507.9 L615.8 1506.4 L616.6 1505.5 L618.1 1505.5 L619.6 1507.4 L621 1511 L621.4 1512.4 L621.8 1514 L622.3 1515.9 L622.7 1517.9 L623.1 1520 L623.5 1522.2 L623.9 1524.4 L624.2 1526.7 L624.6 1529 L624.9 1531.2 L625.2 1533.2 L625.4 1535.2 L625.6 1537.1 L625.9 1539.1 L626.1 1541.2 L626.2 1543.3 L626.4 1545.4 L626.6 1547.6 L626.8 1549.8 L627 1552.2 L627.2 1554.6 L627.4 1556.4 L627.5 1558.2 L627.7 1560.1 L627.9 1561.9 L628 1563.8 L628.2 1565.7 L628.4 1567.7 L628.5 1569.7 L628.7 1571.8 L628.8 1573.9 L629 1576.1 L629.1 1578.4 L629.3 1580.7 L629.4 1583.2 L629.5 1585.7 L629.6 1587.4 L629.6 1589.2 L629.7 1591 L629.7 1592.9 L629.8 1594.8 L629.8 1596.8 L629.8 1598.8 L629.9 1600.8 L629.9 1602.8 L629.9 1604.9 L629.9 1607 L630 1609.1 L630 1611.3 L630 1613.4 L630 1615.5 L630 1617.7 L630.1 1619.8 L630.1 1622 L630.1 1624.1 L630.2 1626.2 L630.2 1628.3 L630.3 1630.4 L630.3 1632.4 L630.4 1634.4 L630.4 1636.4 L630.5 1638.4 L630.5 1640.3 L630.6 1642.3 L630.7 1644.2 L630.7 1646.1 L630.8 1648 L630.9 1649.9 L630.9 1651.9 L631 1653.8 L631.1 1655.7 L631.2 1657.7 L631.2 1659.7 L631.3 1661.7 L631.4 1663.7 L631.5 1665.8 L631.5 1667.9 L631.6 1670.1 L631.7 1672.2 L631.8 1674.5 L631.8 1676.8 L631.9 1679.1 L632 1680.9 L632 1682.7 L632.1 1684.5 L632.1 1686.4 L632.2 1688.3 L632.2 1690.2 L632.3 1692.2 L632.3 1694.2 L632.4 1696.2 L632.4 1698.2 L632.5 1700.2 L632.5 1702.2 L632.6 1704.3 L632.6 1706.4 L632.7 1708.5 L632.7 1710.5 L632.8 1712.6 L632.8 1714.7 L632.9 1716.8 L632.9 1718.9 L633 1721 L633 1723.1 L633.1 1725.2 L633.1 1727.3 L633.2 1729.3 L633.2 1731.4 L633.2 1733.4 L633.3 1735.4 L633.3 1737.5 L633.4 1739.4 L633.4 1741.4 L633.4 1743.5 L633.5 1745.5 L633.5 1747.4 L633.5 1749.4 L633.5 1751.3 L633.6 1753.2 L633.6 1755 L633.6 1756.9 L633.6 1758.7 L633.6 1760.5 L633.6 1762.3 L633.7 1764.1 L633.7 1766 L633.7 1767.8 L633.7 1769.7 L633.7 1771.5 L633.7 1773.4 L633.8 1775.4 L633.8 1777.3 L633.8 1779.3 L633.8 1781.4 L633.9 1783.5 L633.9 1785.7 L633.9 1787.9 L634 1790.2 L634 1792.5 L634.1 1795 L634.1 1797.5 L634.2 1800.1 L634.2 1801.7 L634.3 1803.4 L634.3 1805.1 L634.4 1806.8 L634.4 1808.5 L634.5 1810.3 L634.5 1812.1 L634.6 1813.9 L634.6 1815.7 L634.7 1817.5 L634.8 1819.4 L634.8 1821.2 L634.9 1823.1 L634.9 1825 L635 1827 L635.1 1828.9 L635.1 1830.9 L635.2 1832.8 L635.3 1834.8 L635.3 1836.8 L635.4 1838.8 L635.5 1840.9 L635.5 1842.9 L635.6 1845 L635.7 1847 L635.8 1849.1 L635.8 1851.2 L635.9 1853.3 L636 1855.4 L636.1 1857.6 L636.1 1859.7 L636.2 1861.8 L636.3 1864 L636.4 1866.2 L636.4 1868.3 L636.5 1870.5 L636.6 1872.7 L636.7 1874.9 L636.8 1877.1 L636.8 1879.3 L636.9 1881.5 L637 1883.7 L637.1 1885.9 L637.2 1888.1 L637.2 1890.3 L637.3 1892.6 L637.4 1894.8 L637.5 1896.6 L637.5 1898.5 L637.6 1900.4 L637.7 1902.3 L637.7 1904.2 L637.8 1906.2 L637.9 1908.1 L637.9 1910.1 L638 1912.1 L638.1 1914.1 L638.2 1916.1 L638.2 1918.2 L638.3 1920.2 L638.4 1922.2 L638.5 1924.3 L638.5 1926.4 L638.6 1928.5 L638.7 1930.5 L638.8 1932.6 L638.8 1934.7 L638.9 1936.8 L639 1939 L639.1 1941.1 L639.1 1943.2 L639.2 1945.3 L639.3 1947.4 L639.4 1949.6 L639.4 1951.7 L639.5 1953.8 L639.6 1955.9 L639.7 1958 L639.8 1960.1 L639.8 1962.3 L639.9 1964.4 L640 1966.5 L640.1 1968.6 L640.1 1970.6 L640.2 1972.7 L640.3 1974.8 L640.4 1976.8 L640.5 1978.9 L640.5 1980.9 L640.6 1983 L640.7 1985 L640.8 1987 L640.9 1988.9 L640.9 1990.9 L641 1992.9 L641.1 1994.8 L641.2 1996.7 L641.2 1998.6 L641.3 2000.5 L641.4 2002.4 L641.5 2004.2 L641.5 2006 L641.6 2007.8 L641.7 2009.6 L641.8 2011.9 L641.9 2014.2 L642 2016.5 L642.1 2018.8 L642.2 2021.1 L642.3 2023.3 L642.4 2025.6 L642.4 2027.8 L642.5 2030 L642.6 2032.2 L642.7 2034.4 L642.8 2036.5 L642.9 2038.7 L642.9 2040.8 L643 2042.9 L643.1 2045 L643.2 2047.1 L643.3 2049.1 L643.4 2051.2 L643.5 2053.2 L643.5 2055.2 L643.6 2057.2 L643.7 2059.2 L643.8 2061.2 L643.9 2063.2 L644 2065.1 L644.1 2067 L644.2 2068.9 L644.3 2070.8 L644.4 2072.7 L644.5 2074.6 L644.6 2076.4 L644.7 2078.2 L644.8 2080.1 L644.9 2081.9 L645.1 2083.6 L645.2 2085.4 L645.3 2087.2 L645.4 2088.9 L645.6 2090.6 L645.7 2092.3 L645.9 2094 L646 2095.7 L646.2 2098.1 L646.5 2100.5 L646.7 2102.9 L646.9 2105.1 L647.2 2107.4 L647.5 2109.5 L647.7 2111.7 L648 2113.8 L648.3 2115.8 L648.5 2117.8 L648.8 2119.8 L649.1 2121.8 L649.4 2123.7 L649.7 2125.6 L650 2127.5 L650.3 2129.3 L650.6 2131.2 L650.9 2133 L651.3 2134.8 L651.6 2136.7 L651.9 2138.5 L652.2 2140.3 L652.6 2142.1 L652.9 2143.9 L653.2 2145.7 L653.6 2147.5 L653.9 2149.4 L654.3 2151.2 L654.6 2153.1 L655 2155.2 L655.4 2157.4 L655.8 2159.5 L656.2 2161.7 L656.6 2163.9 L657.1 2166.1 L657.5 2168.3 L657.9 2170.5 L658.4 2172.7 L658.8 2174.8 L659.3 2177 L659.7 2179.2 L660.2 2181.3 L660.6 2183.4 L661.1 2185.5 L661.6 2187.5 L662 2189.5 L662.5 2191.4 L662.9 2193.3 L663.4 2195.2 L663.9 2196.9 L664.3 2198.6 L664.8 2200.3 L665.2 2201.9 L665.7 2203.4 L666.1 2204.8 L667.1 2207.9 L668.1 2210.5 L669.1 2212.8 L670 2214.9 L671 2216.7 L671.9 2218.3 L672.9 2219.7 L674 2221 L675.1 2222.3 L676.2 2223.5 L677.5 2224.8 L679.2 2226.3 L680.9 2227.6 L682.8 2228.7 L684.8 2229.7 L686.8 2230.5 L688.8 2231.3 L690.8 2232 L692.8 2232.7 L694.8 2233.4 L696.9 2234.1 L698.9 2234.7 L700.8 2235.2 L702.7 2235.7 L704.8 2236.1 L706.9 2236.4 L709.3 2236.7 L712 2237 L713.7 2237.2 L715.5 2237.3 L717.4 2237.5 L719.4 2237.6 L721.5 2237.7 L723.7 2237.8 L725.8 2237.9 L728 2238 L730.1 2238 L732.3 2238.1 L734.3 2238.1 L736.3 2238.1 L738.2 2238.1 L740 2238 L742.3 2237.9 L744.4 2237.7 L746.3 2237.5 L748.1 2237.2 L749.9 2236.9 L751.7 2236.6 L753.6 2236.2 L755.6 2235.9 L757.7 2235.4 L760 2235 L761.9 2234.6 L763.9 2234.2 L766.1 2233.8 L768.5 2233.3 L770.9 2232.8 L773.3 2232.3 L775.8 2231.8 L778.1 2231.3 L780.4 2230.8 L782.6 2230.4 L784.5 2229.9 L786.3 2229.6 L787.8 2229.3 L789 2229" stroke="#00ff00" stroke-width="7.8" fill="none" stroke-linejoin="round" stroke-linecap="butt"/>
<path d="M307.6 2291.6 L308.3 2290.5 L309 2289 L310 2287.2 L311.1 2285.3 L312.6 2283.5 L314.3 2281.8 L316.4 2280.6 L317.9 2280 L319.3 2279.6 L320.8 2279.2 L322.4 2278.9 L324.1 2278.6 L326 2278.5 L328.1 2278.3 L330.5 2278.2 L333.3 2278.1 L336.4 2278.1 L340 2278 L341.4 2278 L342.9 2278 L344.5 2278 L346.2 2278 L347.9 2278 L349.7 2278 L351.5 2278 L353.4 2278.1 L355.3 2278.1 L357.3 2278.2 L359.3 2278.2 L361.4 2278.3 L363.5 2278.3 L365.6 2278.4 L367.7 2278.5 L369.9 2278.5 L372.1 2278.6 L374.3 2278.6 L376.5 2278.7 L378.7 2278.8 L380.9 2278.8 L383.1 2278.9 L385.2 2278.9 L387.4 2278.9 L389.6 2279 L391.7 2279 L393.8 2279 L395.9 2279 L398 2279 L400 2279 L402 2279 L404.1 2279 L406.1 2278.9 L408.2 2278.9 L410.3 2278.9 L412.5 2278.8 L414.6 2278.8 L416.8 2278.8 L418.9 2278.7 L421.1 2278.7 L423.3 2278.6 L425.4 2278.6 L427.6 2278.5 L429.7 2278.4 L431.9 2278.4 L434 2278.3 L436.1 2278.2 L438.2 2278.2 L440.2 2278.1 L442.2 2278 L444.2 2277.9 L446.2 2277.8 L448.1 2277.7 L449.9 2277.6 L451.7 2277.5 L453.5 2277.4 L455.2 2277.3 L456.9 2277.2 L458.5 2277.1 L460 2277 L462.9 2276.8 L465.6 2276.5 L468.2 2276.3 L470.5 2276 L472.8 2275.7 L474.9 2275.4 L476.9 2275.1 L478.7 2274.8 L480.5 2274.4 L482.2 2274.1 L483.9 2273.7 L485.4 2273.3 L487 2272.9 L488.5 2272.5 L490 2272 L492.6 2271 L494.9 2269.9 L497 2268.8 L498.8 2267.5 L500.4 2266.3 L502 2265.1 L503.5 2264 L505 2263 L507.2 2261.8 L509.1 2260.8 L510.9 2260 L512.6 2258.9 L514.6 2257.5 L515.9 2256.4 L517.3 2255.3 L518.6 2254 L520 2252.7 L521.5 2251.2 L522.9 2249.7 L524.5 2247.9 L526.1 2246 L527.2 2244.6 L528.4 2243.2 L529.6 2241.7 L530.9 2240.1 L532.1 2238.4 L533.4 2236.7 L534.7 2235 L536 2233.1 L537.3 2231.3 L538.5 2229.3 L539.8 2227.3 L541 2225.3 L542 2223.6 L542.9 2221.9 L543.9 2220.2 L544.9 2218.4 L545.8 2216.5 L546.8 2214.7 L547.7 2212.8 L548.7 2210.8 L549.6 2208.9 L550.5 2206.9 L551.4 2204.9 L552.3 2202.8 L553.1 2200.8 L554 2198.7 L554.8 2196.6 L555.5 2194.7 L556.2 2192.8 L556.9 2190.9 L557.5 2188.9 L558.2 2186.9 L558.8 2184.9 L559.5 2182.8 L560.1 2180.8 L560.7 2178.7 L561.3 2176.6 L561.9 2174.6 L562.4 2172.5 L563 2170.4 L563.5 2168.3 L564.1 2166.3 L564.6 2164.2 L565.1 2162.2 L565.6 2160.2 L566.1 2158.2 L566.5 2156.1 L567 2154.1 L567.4 2152.1 L567.8 2150.1 L568.2 2148 L568.6 2146 L569 2144 L569.4 2142 L569.8 2139.9 L570.2 2137.9 L570.5 2135.9 L570.9 2133.9 L571.3 2131.9 L571.6 2129.8 L572 2127.8 L572.4 2125.8 L572.7 2123.7 L573.1 2121.7 L573.5 2119.7 L573.9 2117.7 L574.2 2115.6 L574.6 2113.6 L574.9 2111.6 L575.3 2109.5 L575.6 2107.5 L576 2105.5 L576.3 2103.4 L576.6 2101.4 L576.9 2099.4 L577.2 2097.4 L577.5 2095.3 L577.8 2093.3 L578.1 2091.3 L578.3 2089.2 L578.5 2087.2 L578.7 2085.2 L578.9 2083.2 L579 2081.2 L579.2 2079.1 L579.4 2077.1 L579.5 2075.1 L579.7 2073.1 L579.8 2071 L580 2069 L580.2 2067 L580.4 2065 L580.7 2063 L580.9 2060.9 L581.2 2058.9 L581.5 2056.9 L581.9 2054.8 L582.2 2052.7 L582.6 2050.5 L583 2048.4 L583.5 2046.2 L583.9 2044.1 L584.4 2042 L584.8 2039.8 L585.3 2037.7 L585.7 2035.7 L586.1 2033.7 L586.6 2031.7 L587 2029.8 L587.4 2027.9 L587.8 2026.1 L588.1 2024.4 L588.6 2021.9 L589.1 2019.5 L589.5 2017.2 L589.9 2015 L590.3 2012.9 L590.7 2010.9 L591.1 2008.9 L591.5 2007.1 L591.8 2005.3 L592.2 2003.6 L592.5 2002 L593.1 1999.4 L593.6 1997.4 L594.1 1995.7 L594.5 1993.9 L595 1991.8 L595.5 1989 L595.8 1987.3 L596 1985.5 L596.3 1983.6 L596.6 1981.6 L596.9 1979.4 L597.2 1977.2 L597.5 1975 L597.8 1972.7 L598.1 1970.4 L598.4 1968 L598.6 1965.7 L598.9 1963.3 L599.1 1961.4 L599.3 1959.5 L599.5 1957.5 L599.7 1955.5 L599.9 1953.5 L600.1 1951.4 L600.3 1949.4 L600.5 1947.3 L600.7 1945.2 L600.9 1943.1 L601.1 1941 L601.3 1938.9 L601.5 1936.8 L601.7 1934.8 L601.9 1932.7 L602.1 1930.7 L602.3 1928.6 L602.5 1926.6 L602.7 1924.5 L602.9 1922.5 L603.2 1920.4 L603.4 1918.4 L603.6 1916.3 L603.8 1914.3 L604 1912.2 L604.2 1910.2 L604.4 1908.1 L604.6 1906.1 L604.8 1904 L605 1902 L605.2 1900 L605.4 1897.9 L605.5 1895.9 L605.7 1893.8 L605.9 1891.8 L606 1889.8 L606.2 1887.7 L606.3 1885.7 L606.5 1883.6 L606.6 1881.6 L606.8 1879.6 L607 1877.5 L607.2 1875.5 L607.4 1873.4 L607.6 1871.4 L607.8 1869.4 L608.1 1867.4 L608.3 1865.4 L608.5 1863.5 L608.8 1861.6 L609 1859.6 L609.3 1857.7 L609.5 1855.8 L609.8 1853.8 L610.1 1851.8 L610.4 1849.7 L610.7 1847.6 L611 1845.4 L611.3 1843.1 L611.6 1840.8 L611.8 1839 L612.1 1837.3 L612.3 1835.6 L612.6 1833.8 L612.8 1832.1 L613.1 1830.4 L613.3 1828.6 L613.6 1826.8 L613.9 1825 L614.1 1823.1 L614.4 1821.2 L614.7 1819.2 L615 1817.2 L615.3 1815 L615.6 1812.8 L615.9 1810.5 L616.2 1808 L616.5 1805.5 L616.9 1802.8 L617.2 1800 L617.4 1798.4 L617.6 1796.8 L617.8 1795.1 L618 1793.4 L618.2 1791.7 L618.4 1789.9 L618.6 1788.1 L618.8 1786.2 L619.1 1784.4 L619.3 1782.4 L619.5 1780.5 L619.7 1778.5 L620 1776.5 L620.2 1774.5 L620.4 1772.5 L620.7 1770.4 L620.9 1768.4 L621.1 1766.3 L621.4 1764.2 L621.6 1762 L621.9 1759.9 L622.1 1757.8 L622.3 1755.6 L622.6 1753.5 L622.8 1751.3 L623.1 1749.2 L623.3 1747 L623.5 1744.8 L623.8 1742.7 L624 1740.5 L624.2 1738.4 L624.5 1736.3 L624.7 1734.2 L624.9 1732 L625.2 1729.9 L625.4 1727.9 L625.6 1725.8 L625.8 1723.8 L626 1721.9 L626.2 1719.9 L626.4 1717.9 L626.6 1715.9 L626.8 1713.9 L627.1 1711.8 L627.3 1709.8 L627.5 1707.8 L627.7 1705.7 L627.9 1703.7 L628.1 1701.6 L628.3 1699.6 L628.5 1697.5 L628.7 1695.4 L628.9 1693.4 L629.1 1691.3 L629.3 1689.2 L629.5 1687.2 L629.7 1685.1 L629.9 1683.1 L630.1 1681 L630.3 1679 L630.5 1677 L630.7 1674.9 L630.9 1672.9 L631.1 1670.9 L631.3 1668.9 L631.5 1666.9 L631.7 1665 L631.9 1663 L632.1 1661.1 L632.3 1659.2 L632.5 1657.2 L632.7 1655.4 L632.9 1653.5 L633 1651.6 L633.2 1649.8 L633.4 1648 L633.6 1645.7 L633.8 1643.5 L634.1 1641.3 L634.3 1639.1 L634.5 1636.9 L634.7 1634.7 L634.9 1632.6 L635.1 1630.4 L635.3 1628.3 L635.5 1626.2 L635.8 1624.1 L636 1622 L636.2 1620 L636.4 1617.9 L636.6 1615.9 L636.7 1613.9 L636.9 1611.9 L637.1 1609.9 L637.3 1608 L637.5 1606 L637.7 1604.1 L637.9 1602.2 L638.1 1600.3 L638.3 1598.4 L638.5 1596.5 L638.7 1594.7 L638.9 1592.9 L639.1 1591 L639.3 1589.2 L639.5 1587.5 L639.7 1585.7 L640 1583.3 L640.2 1581 L640.5 1578.7 L640.8 1576.5 L641.1 1574.2 L641.4 1572 L641.6 1569.8 L641.9 1567.7 L642.2 1565.6 L642.5 1563.5 L642.8 1561.4 L643 1559.4 L643.3 1557.4 L643.6 1555.4 L643.9 1553.5 L644.1 1551.6 L644.4 1549.7 L644.7 1547.8 L644.9 1546 L645.2 1544.2 L645.4 1542.4 L645.7 1540.7 L645.9 1539 L646.3 1536.4 L646.6 1533.9 L646.9 1531.5 L647.3 1529.1 L647.6 1526.8 L647.9 1524.6 L648.2 1522.5 L648.5 1520.4 L648.8 1518.4 L649.1 1516.4 L649.4 1514.6 L649.7 1512.8 L650 1511.1 L650.3 1509.4 L650.6 1507.9 L651.2 1504.8 L651.8 1502 L652.4 1499.6 L653 1497.5 L653.7 1495.8 L654.4 1494.6 L655.2 1493.8 L656.6 1493.5 L658.2 1494 L659.9 1495.4 L661.6 1497.4 L663 1500.1 L663.5 1501.5 L664 1503.1 L664.5 1504.8 L664.9 1506.7 L665.3 1508.7 L665.7 1510.8 L666.1 1513.1 L666.5 1515.5 L666.9 1518 L667.3 1520.6 L667.7 1523.4 L667.9 1525.1 L668.2 1526.8 L668.5 1528.7 L668.7 1530.6 L669 1532.5 L669.2 1534.6 L669.5 1536.6 L669.8 1538.7 L670 1540.8 L670.3 1543 L670.5 1545.2 L670.8 1547.4 L671 1549.6 L671.3 1551.7 L671.5 1553.9 L671.7 1556.1 L672 1558.2 L672.2 1560.3 L672.4 1562.4 L672.6 1564.4 L672.8 1566.5 L673 1568.5 L673.2 1570.5 L673.4 1572.4 L673.5 1574.4 L673.7 1576.4 L673.9 1578.4 L674 1580.4 L674.2 1582.4 L674.3 1584.4 L674.5 1586.4 L674.6 1588.4 L674.8 1590.5 L674.9 1592.6 L675.1 1594.7 L675.2 1596.9 L675.4 1599.1 L675.5 1601.3 L675.6 1603.2 L675.7 1605.1 L675.8 1607 L676 1609 L676.1 1610.9 L676.2 1612.9 L676.3 1614.9 L676.4 1617 L676.5 1619 L676.6 1621.1 L676.7 1623.1 L676.8 1625.2 L676.9 1627.3 L677 1629.4 L677.1 1631.4 L677.2 1633.5 L677.3 1635.6 L677.4 1637.7 L677.5 1639.8 L677.5 1641.9 L677.6 1643.9 L677.7 1646 L677.8 1648 L677.9 1650 L678 1652.1 L678 1654.1 L678.1 1656.1 L678.2 1658.2 L678.3 1660.2 L678.3 1662.2 L678.4 1664.2 L678.5 1666.3 L678.5 1668.3 L678.6 1670.3 L678.7 1672.4 L678.7 1674.4 L678.8 1676.4 L678.9 1678.5 L678.9 1680.5 L679 1682.5 L679.1 1684.5 L679.1 1686.6 L679.2 1688.6 L679.3 1690.6 L679.3 1692.7 L679.4 1694.7 L679.5 1696.7 L679.5 1698.7 L679.6 1700.7 L679.7 1702.7 L679.7 1704.6 L679.8 1706.6 L679.9 1708.5 L680 1710.5 L680 1712.4 L680.1 1714.4 L680.2 1716.3 L680.2 1718.3 L680.3 1720.3 L680.4 1722.3 L680.4 1724.3 L680.5 1726.3 L680.6 1728.4 L680.6 1730.4 L680.7 1732.6 L680.7 1734.7 L680.8 1736.9 L680.8 1739.1 L680.9 1741.4 L680.9 1743.2 L681 1745 L681 1746.8 L681 1748.6 L681.1 1750.4 L681.1 1752.2 L681.1 1753.9 L681.1 1755.7 L681.2 1757.5 L681.2 1759.4 L681.2 1761.2 L681.2 1763 L681.3 1764.9 L681.3 1766.8 L681.3 1768.7 L681.3 1770.7 L681.3 1772.6 L681.4 1774.7 L681.4 1776.7 L681.4 1778.8 L681.4 1781 L681.5 1783.2 L681.5 1785.4 L681.5 1787.7 L681.6 1790.1 L681.6 1792.5 L681.6 1794.9 L681.7 1797.5 L681.7 1800.1 L681.7 1801.7 L681.8 1803.4 L681.8 1805.1 L681.8 1806.8 L681.8 1808.5 L681.9 1810.3 L681.9 1812.1 L681.9 1813.9 L681.9 1815.7 L682 1817.5 L682 1819.4 L682 1821.2 L682.1 1823.1 L682.1 1825 L682.1 1827 L682.1 1828.9 L682.2 1830.9 L682.2 1832.8 L682.2 1834.8 L682.3 1836.8 L682.3 1838.8 L682.3 1840.9 L682.4 1842.9 L682.4 1845 L682.4 1847 L682.5 1849.1 L682.5 1851.2 L682.5 1853.3 L682.6 1855.4 L682.6 1857.6 L682.6 1859.7 L682.7 1861.8 L682.7 1864 L682.7 1866.2 L682.8 1868.3 L682.8 1870.5 L682.9 1872.7 L682.9 1874.9 L682.9 1877.1 L683 1879.3 L683 1881.5 L683.1 1883.7 L683.1 1885.9 L683.2 1888.1 L683.2 1890.3 L683.3 1892.6 L683.3 1894.8 L683.3 1896.6 L683.4 1898.5 L683.4 1900.4 L683.5 1902.2 L683.5 1904.1 L683.5 1906 L683.6 1907.9 L683.6 1909.9 L683.7 1911.8 L683.7 1913.7 L683.8 1915.7 L683.8 1917.6 L683.9 1919.6 L683.9 1921.6 L683.9 1923.6 L684 1925.6 L684 1927.6 L684.1 1929.6 L684.1 1931.6 L684.2 1933.6 L684.2 1935.6 L684.3 1937.6 L684.3 1939.7 L684.4 1941.7 L684.4 1943.8 L684.5 1945.8 L684.5 1947.9 L684.6 1949.9 L684.6 1952 L684.7 1954 L684.7 1956.1 L684.8 1958.2 L684.9 1960.2 L684.9 1962.3 L685 1964.4 L685 1966.4 L685.1 1968.5 L685.1 1970.6 L685.2 1972.7 L685.2 1974.7 L685.3 1976.8 L685.3 1978.9 L685.4 1980.9 L685.4 1983 L685.5 1985.1 L685.5 1987.1 L685.6 1989.2 L685.6 1991.3 L685.7 1993.3 L685.7 1995.4 L685.8 1997.4 L685.8 1999.5 L685.9 2001.5 L685.9 2003.5 L686 2005.6 L686 2007.6 L686.1 2009.6 L686.1 2011.6 L686.2 2013.7 L686.2 2015.7 L686.3 2017.8 L686.3 2019.8 L686.4 2021.9 L686.4 2024 L686.5 2026.1 L686.5 2028.2 L686.6 2030.3 L686.6 2032.4 L686.7 2034.5 L686.7 2036.6 L686.8 2038.8 L686.8 2040.9 L686.9 2043 L686.9 2045.2 L687 2047.3 L687 2049.5 L687.1 2051.6 L687.1 2053.7 L687.1 2055.9 L687.2 2058 L687.2 2060.1 L687.3 2062.3 L687.3 2064.4 L687.4 2066.5 L687.4 2068.6 L687.5 2070.7 L687.5 2072.8 L687.6 2074.9 L687.6 2077 L687.7 2079.1 L687.7 2081.2 L687.8 2083.2 L687.8 2085.3 L687.9 2087.3 L687.9 2089.3 L688 2091.3 L688 2093.3 L688.1 2095.3 L688.1 2097.3 L688.2 2099.2 L688.2 2101.1 L688.3 2103.1 L688.4 2105 L688.4 2106.8 L688.5 2108.7 L688.5 2110.5 L688.6 2112.3 L688.6 2114.1 L688.7 2115.9 L688.8 2117.7 L688.8 2119.4 L688.9 2121.1 L688.9 2122.8 L689 2124.4 L689.1 2127 L689.2 2129.6 L689.3 2132.2 L689.4 2134.7 L689.5 2137.2 L689.6 2139.6 L689.7 2142 L689.9 2144.3 L690 2146.6 L690.1 2148.9 L690.2 2151.1 L690.3 2153.3 L690.4 2155.4 L690.5 2157.6 L690.7 2159.6 L690.8 2161.7 L690.9 2163.7 L691 2165.7 L691.2 2167.7 L691.3 2169.6 L691.4 2171.5 L691.5 2173.4 L691.7 2175.3 L691.8 2177.1 L691.9 2179 L692.1 2180.8 L692.2 2182.5 L692.3 2184.3 L692.5 2186 L692.6 2187.7 L692.7 2189.4 L692.9 2191.1 L693 2192.8 L693.2 2194.5 L693.3 2196.1 L693.5 2198.8 L693.8 2201.4 L694.1 2203.9 L694.3 2206.4 L694.6 2208.8 L694.9 2211.1 L695.2 2213.3 L695.5 2215.5 L695.8 2217.6 L696.1 2219.7 L696.3 2221.7 L696.6 2223.6 L696.9 2225.5 L697.2 2227.4 L697.5 2229.2 L697.8 2230.9 L698.1 2232.7 L698.3 2234.3 L698.6 2236 L698.9 2237.6 L699.1 2239.2 L699.5 2242.1 L699.9 2244.8 L700.3 2246.9 L700.6 2249.2 L700.9 2251.4 L701.2 2253.3 L701.6 2255.2 L702 2256.9 L702.4 2258.4 L702.9 2259.8 L703.4 2261.2 L704.4 2263.7 L705.1 2265.7 L706.2 2267.2 L708.3 2269.4 L712 2273.6 L713.4 2274.3 L715 2273.9 L716.7 2272.5 L718.7 2270.5 L720.8 2268.7 L723 2267.3 L725.3 2266 L727.6 2265.1 L730 2264.6 L732.5 2264.5 L734.9 2265 L737.3 2266.4 L739.6 2268.3 L741.8 2269.7 L744 2270.8 L746 2271.6 L747.8 2272 L749.5 2271.9 L751 2271.4 L753.2 2270.7 L754.8 2271.1 L756 2272.5 L756.8 2274.3 L757.4 2276.3 L758.1 2278.4 L758.9 2280.4 L760 2282.2 L761.6 2283.8 L763.8 2285 L765.1 2285.4 L766.4 2285.7 L767.7 2286 L769.1 2286.2 L770.4 2286.5 L771.8 2287 L773.3 2287.4 L774.8 2287.7 L776.5 2287.6 L778.2 2286.6 L780.1 2284.9 L782.1 2283.1 L784.4 2282.4 L786.7 2283.3 L789.3 2284.8 L792.1 2285.2 L795.2 2284.8 L798.4 2284.5 L802 2285.1 L803.4 2285.2 L804.8 2285 L806.3 2284.4 L807.9 2283.4 L809.5 2282.4 L811.1 2281.6 L812.8 2281.2 L814.5 2281.1 L816.3 2281.2 L818.1 2281.4 L819.9 2281.6 L821.7 2281.9 L823.6 2282.4 L825.6 2283.1 L827.5 2284.5 L829.5 2286.4 L831.5 2287.9 L833.5 2288 L835.6 2286.5 L837.7 2284.5 L839.8 2283.4 L841.9 2283.8 L844 2284.9 L846.1 2285.7 L848.3 2285.5 L850.5 2284.7 L852.7 2283.8 L854.8 2283.1 L857 2282.6 L859.2 2282.1 L861.5 2281.8 L863.7 2281.4 L865.9 2281.3 L868.1 2282 L870.3 2284 L872.5 2286.5 L874.7 2288.2 L876.9 2288.7 L879.1 2288.6 L881.2 2288.1 L883.4 2287.3 L885.5 2285.9 L887.7 2284.9 L889.8 2284.9 L891.9 2285.8 L894 2286.9 L896 2287.5 L898.1 2287.6 L900.1 2287.4 L902 2287.4 L904 2287.8 L906.1 2288.4 L908.1 2289 L910.2 2289.5 L912.2 2289.9 L914.2 2290.2 L916.3 2290 L918.3 2288.9 L920.3 2287.1 L922.3 2285.6 L924.3 2285.4 L926.3 2286.7 L928.3 2288.6 L930.3 2290 L932.3 2290.5 L934.3 2290.4 L936.3 2290.1 L938.3 2289.6 L940.3 2288.6 L942.2 2287.4 L944.2 2286.7 L946.2 2286.9 L948.2 2287.9 L950.2 2288.8 L952.1 2288.9 L954.1 2288.1 L956.1 2286.9 L958 2285.8 L960 2285.3 L962 2285 L964 2284.8 L965.9 2284.5 L967.9 2284 L969.9 2283.4 L971.9 2283.3 L973.9 2284.2 L975.9 2286.1 L977.8 2288 L979.8 2288.6 L981.8 2287.4 L983.8 2285.2 L985.8 2283.1 L987.8 2282.1 L989.9 2281.5 L991.9 2281.4 L993.9 2282 L995.9 2283.6 L998 2285.9 L1000 2287.7 L1002 2288.5 L1003.9 2288.5 L1005.9 2288.2 L1007.9 2287.8 L1009.8 2287.1 L1011.8 2286.1 L1013.8 2285.5 L1015.8 2285.8 L1017.8 2287 L1019.7 2288.3 L1021.7 2288.5 L1023.7 2287 L1025.7 2284.6 L1027.7 2282.6 L1029.7 2281.9 L1031.7 2282.4 L1033.7 2283.3 L1035.7 2283.9 L1037.7 2284.1 L1039.7 2284.2 L1041.7 2284.2 L1043.7 2284.5 L1045.7 2285 L1047.7 2285.4 L1049.8 2285.5 L1051.8 2285.1 L1053.8 2284.4 L1055.8 2283.8 L1057.8 2283.4 L1059.8 2283 L1061.8 2282.8 L1063.8 2282.9 L1065.8 2283.3 L1067.9 2284 L1069.9 2284.9 L1071.9 2286 L1073.9 2287.6 L1075.9 2289.1 L1077.9 2290.2 L1079.9 2290.8 L1081.9 2291 L1084 2290.9 L1086 2290.7 L1088 2290.2 L1090 2289.5 L1092 2288.9 L1094 2288.3 L1096 2287.6 L1098 2287 L1100 2286.3 L1102 2285.4 L1104 2284.8 L1106 2285.1 L1108 2286.8 L1110 2289.1 L1112 2290.7 L1114 2290.7 L1116 2289.5 L1118 2288 L1120 2287.3 L1122 2287.8 L1124 2288.7 L1126 2289.1 L1128 2288.2 L1130 2286.2 L1132 2284.1 L1134 2283 L1136 2283 L1138 2283.5 L1140 2284.4 L1142 2285.6 L1144 2287.3 L1146 2289 L1148 2290 L1150 2290.2 L1152 2289.8 L1154 2289.5 L1156 2289.7 L1158 2290 L1160 2290.3 L1162 2290.2 L1164 2289.6 L1166 2288.8 L1168 2288 L1170 2287.5 L1172 2286.9 L1174 2286.5 L1176 2286.4 L1178 2286.6 L1180 2287 L1182 2287.5 L1184 2288.2 L1186 2289.1 L1188 2289.8 L1190 2289.8 L1192 2288.6 L1194 2286.9 L1196 2285.6 L1198 2285.4 L1200 2286.1 L1202 2287 L1204 2287.3 L1206 2286.6 L1208 2285.7 L1210 2285.1 L1212 2285.8 L1214 2287.4 L1216 2289 L1218 2289.2 L1220 2287.5 L1222 2284.9 L1224 2283.2 L1226 2283.4 L1228 2285.2 L1230 2287.4 L1232 2289 L1234 2290.2 L1236 2291.1 L1238 2291.2 L1240 2289.9 L1242 2287.2 L1244 2284.4 L1246 2283.2 L1248 2284.2 L1250 2286.1 L1252 2287.8 L1254 2288.5 L1256 2288.5 L1258 2288.5 L1260 2288.7 L1262 2289.3 L1264 2290 L1266 2290.4 L1268 2290.2 L1270 2289.6 L1272 2288.8 L1274 2288 L1276 2287.1 L1278 2286.2 L1280 2285.5 L1282 2285.4 L1284 2285.6 L1286 2286.1 L1288 2286.9 L1290 2288.3 L1292 2289.9 L1294 2291.1 L1296 2291.7 L1298 2291.8 L1300 2291.5 L1302 2290.7 L1304 2288.9 L1306 2286.6 L1308 2284.7 L1310 2283.9 L1312 2283.8 L1314 2284 L1316 2284 L1318 2284 L1320 2284 L1322 2284 L1324 2283.8 L1326 2283.4 L1328 2283.2 L1330 2283.4 L1332 2284.4 L1334 2285.7 L1336 2286.7 L1338 2286.5 L1340 2285.3 L1342 2284.2 L1344 2284.2 L1346 2285.8 L1348 2288.1 L1350 2289.8 L1352 2290.3 L1354 2289.9 L1356 2289 L1358 2288 L1360 2286.6 L1362 2284.9 L1364 2283.8 L1366 2284 L1368 2285.2 L1370 2286.5 L1372 2287.1 L1374 2286.7 L1376 2285.9 L1378 2285.3 L1380 2285.3 L1382 2285.9 L1384 2286.4 L1386 2286.5 L1388 2285.9 L1390 2285.1 L1392 2284.3 L1394 2284 L1396 2283.8 L1398 2283.7 L1400 2283.7 L1402 2283.6 L1404 2283.6 L1406 2283.7 L1407.9 2284 L1409.9 2284.4 L1411.8 2284.9 L1413.8 2285.5 L1415.7 2286.3 L1417.6 2287.3 L1419.6 2288 L1421.5 2288.3 L1423.4 2288.1 L1425.3 2287.7 L1427.2 2287 L1429.1 2286 L1431 2284.4 L1432.9 2283 L1434.8 2282.7 L1436.7 2283.8 L1438.7 2285.7 L1440.6 2287.5 L1442.5 2288.6 L1444.4 2289.2 L1446.3 2289.5 L1448.2 2289.6 L1450.2 2289.6 L1452.1 2289.3 L1454.1 2288.9 L1456 2288.8 L1458 2289 L1460 2289.3 L1461.9 2289.2 L1463.9 2288 L1465.9 2285.6 L1467.9 2283.4 L1470 2282.3 L1472 2283.2 L1474.1 2284.9 L1476.1 2286.1 L1478.2 2285.7 L1480.3 2284.2 L1482.4 2283 L1484.6 2283.3 L1486.7 2285.4 L1488.9 2287.8 L1491.1 2288.7 L1493.3 2287.2 L1495.5 2284.9 L1497.7 2283.8 L1500 2284.9 L1501.8 2286.6 L1503.6 2288 L1505.5 2288.1 L1507.5 2286.9 L1509.4 2285.3 L1511.4 2284.4 L1513.5 2285 L1515.5 2286.6 L1517.6 2287.9 L1519.8 2288 L1521.9 2287 L1524.1 2285.6 L1526.3 2284.6 L1528.5 2283.6 L1530.8 2282.8 L1533 2282.6 L1535.3 2283.5 L1537.6 2284.7 L1539.9 2285.5 L1542.2 2285.2 L1544.6 2284.6 L1546.9 2284.9 L1549.2 2286.6 L1551.6 2288.8 L1553.9 2289.7 L1556.3 2288.2 L1558.6 2285.8 L1561 2284.5 L1563.3 2284.8 L1565.6 2285.7 L1567.9 2286.3 L1570.2 2286.4 L1572.5 2286.4 L1574.8 2286.7 L1577.1 2288 L1579.4 2289.6 L1581.6 2290 L1583.8 2288.1 L1586 2285.1 L1588.1 2283 L1590.3 2283.1 L1592.4 2284.8 L1594.5 2286.5 L1596.5 2287.1 L1598.5 2286.9 L1600.5 2286.4 L1602.4 2286.2 L1604.3 2286.5 L1606.2 2287 L1608 2287.6 L1609.8 2288.1 L1611.5 2288.8 L1613.2 2289.5 L1614.8 2290 L1616.4 2290 L1617.9 2289.3 L1619.4 2287.9 L1620.8 2286.4 L1622.2 2285.1 L1623.5 2284.5 L1624.7 2284.5 L1625.9 2285 L1627 2285.7 L1628 2286.4" stroke="#ff00ff" stroke-width="7.8" fill="none" stroke-linejoin="round" stroke-linecap="butt"/>
<path d="M304.7 2315.1 L305.3 2314 L306.1 2312.5 L307.1 2310.7 L308.1 2308.6 L309.2 2306.4 L310.5 2304 L311.7 2301.5 L313 2299 L314.3 2296.7 L315.6 2294.6 L316.9 2292.7 L318.1 2291 L319.3 2289.5 L320.8 2287.5 L322.3 2285.7 L323.7 2284 L325 2282.4 L326.5 2281.1 L328 2280.1 L329.8 2279.5 L331.7 2279.2 L334 2279 L335.6 2278.8 L337.2 2278.3 L338.8 2277.9 L340.5 2277.4 L342.3 2277.2 L344.1 2277.4 L346 2278.3 L348.1 2279.8 L350.2 2281.7 L352.5 2283.6 L354.9 2285 L357.5 2285.9 L360.3 2286.3 L363.3 2286.2 L364.9 2285.9 L366.5 2285.3 L368.1 2284.5 L369.8 2283.4 L371.5 2282.4 L373.2 2281.7 L375 2281.3 L376.8 2281.6 L378.7 2282.3 L380.6 2283.2 L382.5 2284 L384.5 2284.5 L386.5 2284.5 L388.5 2284.1 L390.5 2283.6 L392.6 2283 L394.8 2282.6 L396.9 2282.5 L399.1 2282.5 L401.3 2282.5 L403.5 2282.6 L405.8 2282.8 L408.1 2283.1 L410.4 2283.5 L412.8 2283.8 L415.2 2284 L417.6 2284.1 L420 2284.2 L421.7 2284.1 L423.5 2284 L425.2 2283.6 L427 2283 L428.7 2282.2 L430.5 2281.3 L432.4 2280.5 L434.2 2280 L436 2280 L437.9 2280.3 L439.8 2280.9 L441.7 2281.6 L443.6 2282.1 L445.5 2282.3 L447.4 2282.3 L449.4 2282.1 L451.3 2281.8 L453.3 2281.7 L455.3 2281.7 L457.3 2281.9 L459.3 2282.3 L461.3 2282.7 L463.4 2282.7 L465.4 2282.3 L467.5 2281 L469.6 2279.4 L471.7 2277.8 L473.8 2276.8 L475.9 2276.8 L478 2277.9 L480.2 2279.6 L482.3 2281.1 L484.5 2281.9 L486.7 2281.6 L488.9 2280.5 L491.1 2279.2 L493.3 2277.9 L495.5 2277.2 L497.8 2276.8 L500 2276.6 L501.8 2276.6 L503.7 2276.6 L505.6 2276.8 L507.5 2277.3 L509.4 2277.9 L511.4 2278.6 L513.4 2279.2 L515.5 2279.7 L517.5 2280.1 L519.6 2280.4 L521.7 2280.7 L523.9 2281 L526 2281.2 L528.2 2281.6 L530.3 2281.9 L532.5 2282 L534.7 2281.9 L536.9 2281.3 L539.1 2280.3 L541.3 2279.3 L543.5 2278.6 L545.7 2278.5 L547.9 2279.2 L550.1 2280.2 L552.3 2281.1 L554.5 2281.4 L556.7 2280.7 L558.8 2279.4 L561 2277.9 L563.1 2276.9 L565.3 2276.7 L567.4 2277.6 L569.5 2279.2 L571.5 2280.8 L573.6 2281.9 L575.6 2282.1 L577.6 2281.5 L579.5 2280.4 L581.4 2279.2 L583.3 2278.3 L585.2 2277.8 L587 2277.8 L588.8 2278.1 L590.5 2278.4 L592.2 2278.7 L593.9 2278.8 L595.5 2278.6 L597 2278.2 L598.5 2277.7 L600 2277 L603.2 2275.6 L606.2 2274.7 L609 2273.9 L611.7 2273.3 L614.3 2272.6 L616.7 2271.7 L619 2270.8 L621.2 2269.9 L623.2 2269.2 L625.2 2268.6 L627 2268.3 L628.8 2268.2 L630.5 2268.1 L632.1 2267.9 L633.6 2267.6 L635.1 2267.1 L636.5 2266.4 L637.9 2265.6 L639.2 2264.7 L640.5 2263.9 L641.8 2263.1 L643 2262.3 L645.8 2260.8 L647.7 2259.3 L648.9 2257.9 L649.7 2256.5 L650.4 2255.1 L651.2 2254 L652.5 2253.2 L654.6 2252.6 L656.2 2252.4 L658 2252.5 L659.9 2252.7 L662.1 2253 L664.3 2253.2 L666.6 2253.1 L669 2252.7 L671.3 2252.3 L673.6 2252 L675.9 2252.1 L678 2252.6 L680 2253.1 L681.7 2253.2 L683.3 2252.7 L684.6 2251.6 L685.7 2249.8 L686.7 2247.4 L687.7 2244.3 L688.5 2241.3 L689.3 2238.5 L690 2235.9 L690.6 2233.3 L691.2 2230.7 L691.8 2228.4 L692.4 2226.3 L693 2224.5 L693.5 2223.2 L694.2 2222.3 L694.8 2222 L695.5 2222.4 L696.2 2223.4 L696.8 2224.9 L697.4 2226.9 L698.1 2229.3 L698.6 2231.9 L699.2 2234.7 L699.8 2237.6 L700.4 2240.5 L701 2243.6 L701.6 2246.8 L702.2 2249.4 L702.8 2251.4 L703.4 2252.8 L705.6 2254.4 L707.8 2252.6 L710.2 2249.3 L712.8 2246.8 L714.7 2246.6 L716.7 2247.6 L718.8 2249.3 L721 2250.9 L723.2 2251.6 L725.5 2250.6 L726.6 2249.4 L727.7 2247.5 L728.9 2244.9 L730 2242.4 L731.2 2240 L732.4 2237.9 L733.6 2235.7 L734.8 2233.6 L736 2231.5 L737.2 2229.6 L738.4 2227.8 L739.6 2226.2 L740.8 2225 L742.7 2223.7 L744.6 2223.2 L746.5 2223.1 L748.5 2223.2 L750.4 2223.2 L752.3 2222.9 L754.2 2221.8 L756.1 2219.9 L756.9 2218.7 L757.8 2217.4 L758.6 2215.9 L759.5 2214.2 L760.4 2212.4 L761.3 2210.5 L762.2 2208.4 L763.1 2206.4 L764 2204.2 L764.9 2202.1 L765.8 2199.9 L766.6 2197.8 L767.4 2195.7 L768.2 2193.6 L768.9 2191.7 L769.6 2189.8 L770.3 2188 L770.9 2186.4 L771.4 2185 L772.4 2182.1 L773.1 2179.8 L773.6 2178 L774 2176.3 L774.2 2174.7 L774.5 2173 L774.9 2171 L775.4 2168.6 L775.8 2166.8 L776.3 2164.9 L776.7 2162.8 L777.2 2160.6 L777.7 2158.3 L778.2 2156 L778.7 2153.6 L779.2 2151.3 L779.8 2149.1 L780.2 2147 L780.7 2145.1 L781.2 2143.3 L781.6 2141.8 L782.6 2138.7 L783.5 2136.4 L784.3 2134.7 L785.1 2133.3 L786 2132 L788.2 2129 L790.5 2128.5 L791.4 2129.5 L792.3 2131.2 L793.2 2133.3 L794.1 2135.7 L795 2138 L795.7 2139.8 L796.4 2141.5 L797 2143.3 L797.7 2145.3 L798.5 2147.7 L799.5 2150.7 L800 2152.3 L800.6 2154.1 L801.2 2156 L801.8 2158 L802.4 2160.2 L803.1 2162.4 L803.8 2164.6 L804.5 2166.9 L805.1 2169.1 L805.8 2171.3 L806.4 2173.5 L807 2175.5 L807.5 2177.5 L808.1 2179.7 L808.7 2182 L809.2 2184.2 L809.7 2186.3 L810.2 2188.5 L810.7 2190.5 L811.1 2192.6 L811.6 2194.5 L812 2196.4 L812.5 2198.3 L812.9 2200 L813.5 2202.5 L813.9 2204.8 L814.3 2206.9 L814.7 2208.8 L815.3 2210.8 L816.1 2212.7 L817.3 2214.8 L818.4 2216.3 L819.6 2217.9 L821 2219.4 L822.6 2221 L824.2 2222.6 L825.8 2224.1 L827.6 2225.7 L829.3 2227.2 L831 2228.7 L832.7 2230.1 L834.4 2231.6 L836.1 2233.1 L837.9 2234.7 L839.8 2236.3 L841.6 2237.8 L843.4 2239.2 L845.3 2240.7 L847.1 2242 L848.8 2242.7 L850.5 2242.7 L852.5 2242.2 L854.4 2241.7 L856.3 2241.4 L858.1 2241 L860 2240.4 L861.9 2239.5 L863.8 2238.6 L865.8 2237.8 L867.6 2237.2 L869.4 2236.7 L871.2 2236.1 L873 2235.5 L874.9 2235 L876.9 2234.4 L879 2233.8 L881.3 2233.3 L883.7 2232.7 L885.4 2232.4 L887.3 2232.1 L889.4 2231.8 L891.6 2231.6 L893.8 2231.4 L896.1 2231.2 L898.3 2230.9 L900.6 2230.7 L902.8 2230.4 L904.9 2230 L906.9 2229.5 L908.7 2229 L910.3 2228.4 L911.7 2227.6 L913.4 2226.1 L914.6 2224.1 L915.5 2221.9 L916.1 2219.5 L916.6 2217.1 L917 2214.8 L917.6 2212.7 L918.3 2211 L919.4 2209.7 L921.2 2208.9 L923.3 2209 L925.6 2209.5 L927.9 2210.2 L930.3 2210.7 L932.6 2210.6 L934.7 2209.7 L935.9 2208.7 L937 2207.5 L938.1 2206.2 L939.2 2204.6 L940.3 2202.9 L941.4 2201.1 L942.4 2199.2 L943.4 2197.2 L944.5 2195.2 L945.5 2193.2 L946.4 2191.2 L947.4 2189.3 L948.3 2187.5 L949.1 2185.8 L949.9 2184 L950.7 2182.2 L951.5 2180.4 L952.3 2178.6 L953.1 2176.7 L953.9 2174.8 L954.6 2172.8 L955.4 2170.7 L956.1 2168.5 L956.9 2166.2 L957.7 2163.8 L958.2 2162.1 L958.8 2160.3 L959.3 2158.5 L959.9 2156.7 L960.5 2154.8 L961 2152.9 L961.6 2151 L962.1 2149 L962.7 2146.9 L963.2 2144.9 L963.8 2142.8 L964.3 2140.7 L964.9 2138.6 L965.4 2136.4 L965.9 2134.3 L966.4 2132.1 L966.9 2129.9 L967.4 2127.7 L967.9 2125.5 L968.3 2123.7 L968.7 2121.8 L969 2119.9 L969.4 2118 L969.7 2116.1 L970.1 2114.2 L970.4 2112.3 L970.7 2110.3 L971.1 2108.3 L971.4 2106.3 L971.7 2104.3 L972 2102.3 L972.3 2100.3 L972.6 2098.3 L973 2096.2 L973.3 2094.2 L973.6 2092.1 L973.9 2090.1 L974.2 2088 L974.5 2085.9 L974.8 2083.8 L975.2 2081.7 L975.5 2079.6 L975.8 2077.6 L976.1 2075.7 L976.4 2073.7 L976.7 2071.6 L977 2069.6 L977.3 2067.5 L977.6 2065.5 L977.9 2063.4 L978.2 2061.3 L978.5 2059.2 L978.7 2057.1 L979 2055 L979.3 2052.9 L979.6 2050.8 L979.9 2048.7 L980.2 2046.6 L980.5 2044.5 L980.9 2042.5 L981.2 2040.4 L981.5 2038.4 L981.8 2036.4 L982.2 2034.4 L982.5 2032.4 L982.8 2030.5 L983.2 2028.6 L983.6 2026.5 L984 2024.3 L984.5 2022.2 L984.9 2020 L985.3 2017.9 L985.8 2015.7 L986.3 2013.6 L986.7 2011.5 L987.2 2009.4 L987.7 2007.4 L988.1 2005.3 L988.6 2003.3 L989.1 2001.3 L989.6 1999.3 L990.1 1997.4 L990.6 1995.5 L991 1993.7 L991.5 1991.9 L992 1990.1 L992.5 1988.4 L992.9 1986.8 L993.4 1985.2 L994.2 1982.7 L995 1980.4 L995.7 1978.2 L996.5 1976.3 L997.2 1974.4 L998 1972.6 L998.8 1970.9 L999.6 1969.2 L1000.3 1967.5 L1001.1 1965.7 L1001.9 1963.8 L1002.8 1961.8 L1003.6 1959.7 L1004.3 1957.9 L1005 1956 L1005.7 1953.9 L1006.4 1951.8 L1007.2 1949.6 L1007.9 1947.3 L1008.7 1945.1 L1009.4 1942.8 L1010.2 1940.6 L1010.9 1938.4 L1011.7 1936.3 L1012.4 1934.4 L1013.1 1932.5 L1013.7 1930.9 L1014.4 1929.4 L1014.9 1928.1 L1015.5 1927.1 L1018 1924.8 L1019.9 1926.3 L1021.6 1929.2 L1022.3 1930.4 L1022.9 1931.8 L1023.4 1933.4 L1023.9 1935.3 L1024.5 1937.6 L1025 1940.3 L1025.7 1943.5 L1026 1945 L1026.3 1946.5 L1026.6 1948.1 L1026.9 1949.8 L1027.2 1951.6 L1027.6 1953.4 L1027.9 1955.3 L1028.3 1957.3 L1028.6 1959.3 L1029 1961.4 L1029.3 1963.5 L1029.7 1965.7 L1030 1968 L1030.4 1970.3 L1030.8 1972.7 L1031.2 1975.1 L1031.6 1977.6 L1031.9 1979.3 L1032.2 1981.1 L1032.4 1982.9 L1032.7 1984.7 L1033 1986.5 L1033.3 1988.4 L1033.6 1990.3 L1033.9 1992.2 L1034.2 1994.2 L1034.6 1996.2 L1034.9 1998.2 L1035.2 2000.2 L1035.5 2002.3 L1035.8 2004.4 L1036.1 2006.5 L1036.5 2008.6 L1036.8 2010.8 L1037.1 2012.9 L1037.4 2015.1 L1037.7 2017.3 L1038.1 2019.5 L1038.4 2021.8 L1038.7 2024 L1039 2026.3 L1039.3 2028.6 L1039.5 2030.4 L1039.8 2032.2 L1040 2034.1 L1040.3 2036 L1040.5 2037.8 L1040.7 2039.8 L1041 2041.7 L1041.2 2043.6 L1041.4 2045.6 L1041.7 2047.6 L1041.9 2049.6 L1042.2 2051.6 L1042.4 2053.6 L1042.6 2055.6 L1042.9 2057.6 L1043.1 2059.7 L1043.3 2061.7 L1043.6 2063.7 L1043.8 2065.8 L1044 2067.8 L1044.3 2069.9 L1044.5 2072 L1044.8 2074 L1045 2076.1 L1045.2 2078.1 L1045.5 2080.2 L1045.7 2082.2 L1045.9 2084.2 L1046.2 2086.3 L1046.4 2088.3 L1046.7 2090.3 L1046.9 2092.3 L1047.1 2094.3 L1047.4 2096.3 L1047.6 2098.3 L1047.9 2100.4 L1048.1 2102.4 L1048.3 2104.4 L1048.6 2106.5 L1048.8 2108.5 L1049.1 2110.6 L1049.3 2112.7 L1049.5 2114.7 L1049.8 2116.8 L1050 2118.8 L1050.3 2120.9 L1050.5 2122.9 L1050.8 2125 L1051 2127 L1051.2 2129.1 L1051.5 2131.1 L1051.7 2133.1 L1052 2135.1 L1052.2 2137.1 L1052.4 2139.1 L1052.7 2141 L1052.9 2143 L1053.2 2144.9 L1053.4 2146.8 L1053.6 2148.7 L1053.9 2150.6 L1054.1 2152.5 L1054.4 2154.3 L1054.6 2156.1 L1054.9 2158.4 L1055.2 2160.7 L1055.5 2163 L1055.8 2165.3 L1056.1 2167.5 L1056.4 2169.8 L1056.7 2172 L1056.9 2174.3 L1057.2 2176.5 L1057.5 2178.6 L1057.8 2180.8 L1058.1 2182.9 L1058.4 2185 L1058.7 2187.1 L1059 2189.1 L1059.3 2191.1 L1059.6 2193.1 L1059.9 2195 L1060.2 2196.9 L1060.5 2198.7 L1060.8 2200.5 L1061.2 2202.2 L1061.5 2203.9 L1061.8 2205.5 L1062.2 2207.1 L1062.9 2209.9 L1063.6 2212.5 L1064.3 2215 L1065 2217.2 L1065.7 2219.3 L1066.4 2221.2 L1067.2 2223 L1068 2224.8 L1068.8 2226.4 L1069.6 2228 L1070.5 2229.6 L1071.4 2231.1 L1072.4 2232.7 L1073.7 2234.7 L1075.1 2236.5 L1076.5 2238.2 L1078 2239.9 L1079.5 2240.7 L1081.1 2241.4 L1082.7 2242.1 L1084.4 2242.9 L1086.1 2244.3 L1087.8 2246.1 L1089.5 2248 L1091.3 2249.8 L1093.1 2251.4 L1094.9 2252.8 L1096.8 2253.8 L1098.7 2254.5 L1100.7 2255.1 L1102.8 2255.8 L1105.1 2256.6 L1107.4 2257.9 L1109.2 2259 L1111.2 2260.2 L1113.2 2261.2 L1115.4 2261.8 L1117.6 2261.9 L1119.9 2261.7 L1122.1 2261.4 L1124.4 2261.3 L1126.6 2261.6 L1128.7 2262.1 L1130.8 2262.7 L1132.7 2263 L1134.5 2263.1 L1136.1 2262.8 L1138.5 2261.5 L1140.6 2259.7 L1142.3 2257.6 L1143.9 2255.6 L1145.3 2253.7 L1146.6 2252.3 L1148 2251.4 L1149.5 2251.3 L1150.8 2252.1 L1151.8 2253.5 L1152.6 2255.3 L1153.5 2257.5 L1154.5 2259.8 L1156 2262.1 L1158.1 2264.5 L1161 2266.6 L1162.3 2267.2 L1163.8 2267.7 L1165.4 2267.8 L1167.1 2267.6 L1168.8 2267.1 L1170.7 2266.3 L1172.6 2265.6 L1174.6 2265.2 L1176.7 2265.1 L1178.8 2265.3 L1181 2265.6 L1183.2 2266.1 L1185.4 2266.6 L1187.7 2267.3 L1189.9 2268.2 L1192.2 2269.1 L1194.4 2269.7 L1196.6 2269.9 L1198.8 2269.7 L1201 2269.5 L1203.1 2269.3 L1205.1 2269.3 L1207.1 2269.4 L1209.2 2269.5 L1211.3 2269.7 L1213.5 2269.7 L1215.7 2269.3 L1217.9 2268.6 L1220.1 2267.7 L1222.4 2266.8 L1224.6 2266.2 L1226.9 2265.9 L1229.1 2265.7 L1231.2 2265.7 L1233.4 2265.6 L1235.4 2265.4 L1237.4 2265.1 L1239.4 2264.7 L1241.2 2264.3 L1243 2264.2 L1244.7 2264.2 L1246.2 2264.5 L1247.7 2265.1 L1249 2265.7 L1252.3 2267.8 L1254.5 2269.6 L1255.7 2271.3 L1256.6 2273.1 L1257.4 2274.5 L1258.6 2275.4 L1260.5 2275 L1262 2274.3 L1263.7 2273.3 L1265.6 2272.3 L1267.6 2271.3 L1269.6 2270.2 L1271.7 2269.3 L1273.8 2268.6 L1275.9 2268.1 L1277.9 2268.2 L1279.9 2268.5 L1281.7 2268.9 L1283.4 2269.4 L1285.4 2270 L1286.9 2270.8 L1288.1 2271.7 L1289.3 2272.8 L1290.7 2273.8 L1292.5 2274.6 L1295.1 2275.1 L1298.7 2274.6 L1300.1 2274.2 L1301.5 2273.9 L1302.9 2273.7 L1304.5 2273.8 L1306 2274.3 L1307.7 2275.2 L1309.4 2276.5 L1311.1 2277.8 L1312.9 2278.8 L1314.8 2279.4 L1316.7 2279.3 L1318.7 2278.6 L1320.7 2277.7 L1322.8 2276.8 L1325 2276.5 L1327.2 2276.8 L1329.5 2277.6 L1331.8 2278.4 L1334.2 2278.9 L1336.7 2278.9 L1339.2 2278.4 L1341.8 2277.7 L1344.5 2277.2 L1347.2 2276.9 L1350 2276.8 L1351.6 2276.8 L1353.3 2276.7 L1355 2276.6 L1356.8 2276.5 L1358.7 2276.4 L1360.6 2276.3 L1362.6 2276.2 L1364.6 2276 L1366.7 2275.7 L1368.8 2275.1 L1370.9 2274.6 L1373.1 2274.4 L1375.3 2274.7 L1377.5 2275.8 L1379.8 2277.4 L1382.1 2279 L1384.3 2280 L1386.6 2280 L1388.9 2279.3 L1391.3 2278.3 L1393.6 2277.5 L1395.9 2277.1 L1398.2 2276.9 L1400.5 2276.8 L1402.8 2276.8 L1405 2276.7 L1407.3 2276.5 L1409.5 2276.2 L1411.7 2275.9 L1413.9 2275.9 L1416 2276.2 L1418.1 2276.7 L1420.1 2277.4 L1422.1 2278 L1424.1 2278.7 L1426 2279.2 L1427.8 2279.8 L1429.6 2280.3 L1431.3 2280.8 L1432.9 2281.1 L1434.5 2281.1 L1436 2280.9 L1437.4 2280.3 L1438.7 2279.7 L1440 2279 L1444.8 2276.9 L1448.3 2276.7 L1450.9 2276.6 L1452.7 2276 L1453.9 2275.2 L1454.7 2274.1 L1455.4 2273.2 L1456.2 2272.4 L1457.2 2271.9 L1458.6 2271.7 L1459.8 2272 L1459.8 2272.8 L1459.2 2274 L1458.5 2275.5 L1458.5 2277 L1459.5 2278.4 L1462.2 2279.5 L1467.2 2280.1 L1475 2280.1 L1476.2 2280.2 L1477.4 2280.3 L1478.7 2280.5 L1480 2280.7 L1481.5 2280.9 L1482.9 2281.2 L1484.5 2281.3 L1486.1 2281.5 L1487.8 2281.6 L1489.5 2281.7 L1491.3 2281.8 L1493.1 2282 L1495 2282.1 L1496.9 2282.5 L1498.9 2283 L1500.9 2283.4 L1503 2283.6 L1505.1 2283.4 L1507.2 2282.5 L1509.4 2281.1 L1511.6 2279.6 L1513.9 2278.5 L1516.1 2278 L1518.4 2278.1 L1520.8 2278.4 L1523.1 2278.8 L1525.5 2279 L1527.9 2279.2 L1530.3 2279.4 L1532.7 2279.5 L1535.2 2279.5 L1537.6 2279.3 L1540.1 2278.9 L1542.6 2278.6 L1545.1 2278.5 L1547.5 2278.7 L1550 2279.1 L1552.5 2279.5 L1555 2279.9 L1557.5 2280.2 L1560 2280.5 L1562.5 2280.7 L1564.9 2280.7 L1567.4 2280.5 L1569.8 2280 L1572.2 2279.6 L1574.6 2279.4 L1577 2279.7 L1579.4 2280.3 L1581.7 2280.8 L1584 2281.1 L1586.3 2280.8 L1588.6 2279.9 L1590.8 2278.8 L1593 2278.2 L1595.2 2278.2 L1597.3 2279.1 L1599.4 2280.5 L1601.4 2281.9 L1603.4 2283.1 L1605.4 2283.6 L1607.3 2283.7 L1609.2 2283.5 L1611 2283.2 L1612.7 2282.8 L1614.4 2282.3 L1616.1 2281.9 L1617.7 2281.2 L1619.2 2280.6 L1620.7 2279.9 L1622.1 2279.3 L1623.4 2278.9 L1624.6 2278.6 L1625.8 2278.5 L1627 2278.4 L1628 2278.4" stroke="#808000" stroke-width="7.8" fill="none" stroke-linejoin="round" stroke-linecap="butt"/>
<path d="M326.7 2301.3 L327.2 2300.2 L327.7 2298.7 L328.3 2297 L329 2295 L329.7 2292.9 L330.6 2290.6 L331.4 2288.4 L332.4 2286.2 L333.4 2284.1 L334.6 2282.2 L335.8 2280.5 L337 2279.2 L338.4 2278.4 L339.9 2278 L341.4 2277.9 L342.9 2278.1 L344.5 2278.4 L346.1 2278.6 L347.9 2278.6 L349.9 2278.2 L352 2277.5 L354.4 2276.6 L357 2276 L360 2275.7 L363.3 2275.5 L364.8 2275.6 L366.4 2275.8 L368.2 2276.4 L370 2277.3 L372 2278.6 L374 2279.8 L376.1 2280.6 L378.3 2280.6 L380.5 2280 L382.8 2279.1 L385.1 2278.3 L387.4 2277.9 L389.7 2277.7 L392.1 2277.8 L394.5 2278 L396.8 2278.3 L399.1 2279 L401.4 2279.8 L403.7 2280.6 L405.9 2281 L408.1 2280.7 L410.1 2279.8 L412.1 2278.6 L414.1 2277.6 L415.9 2277 L417.6 2277 L419.2 2277.4 L420.7 2278.1 L422 2278.8 L425.7 2280 L428.1 2279.1 L429.4 2277.7 L430.3 2276.3 L431 2274.7 L432 2273.1 L433.8 2271.4 L436.7 2269.5 L438.1 2268.9 L439.6 2268.1 L441.2 2267.2 L443 2266.4 L444.8 2265.8 L446.7 2265.6 L448.7 2266.1 L450.7 2267.1 L452.8 2268.4 L455 2269.5 L457.2 2270 L459.4 2269.8 L461.6 2269.2 L463.8 2268.4 L466 2267.6 L468.2 2266.8 L470.4 2265.9 L472.6 2265 L474.7 2264.3 L476.8 2264.2 L478.8 2264.7 L480.7 2265.7 L482.9 2267 L485 2268.3 L487.2 2269 L489.3 2269.3 L491.4 2269.3 L493.4 2269.3 L495.5 2269.2 L497.5 2269.3 L499.6 2269.5 L501.6 2269.7 L503.6 2269.9 L505.7 2270.1 L507.7 2270.2 L509.7 2270.3 L511.8 2270.3 L513.8 2270.4 L515.9 2270.6 L517.9 2271 L520 2271.7 L522 2272.5 L524 2273.2 L526 2273.5 L528 2273.1 L530 2271.9 L531.9 2270.5 L533.9 2269.1 L535.9 2268.3 L538 2268.6 L540 2269.8 L542 2271.5 L544 2273.2 L546 2274.4 L548 2274.9 L550 2274.7 L552 2274.3 L554 2273.7 L556 2273.1 L558 2272.6 L560 2271.9 L562 2271.3 L564 2270.7 L566 2270.2 L568 2270.1 L570 2270.3 L572 2270.7 L574 2271.1 L576 2271.2 L578 2270.9 L580 2270.3 L582 2269.5 L584 2268.8 L586 2268.2 L588 2268.1 L590 2268.2 L592 2268.4 L594 2268.7 L596 2269 L598 2269.1 L600 2269.2 L602 2269.2 L604 2269.3 L606 2269.3 L608 2269.3 L610 2269.3 L612 2269.3 L614 2269.2 L616 2269.1 L618 2268.9 L620 2268.5 L622 2268 L624 2267.6 L626 2267.4 L628 2267.6 L630 2268 L632 2268.6 L634 2269.1 L636 2269.5 L638 2269.5 L640 2269.2 L642 2268.8 L644.1 2268.4 L646.2 2268.1 L648.3 2268.1 L650.5 2268.3 L652.6 2268.6 L654.8 2268.8 L657 2268.9 L659.1 2268.8 L661.2 2268.6 L663.4 2268.3 L665.4 2267.9 L667.5 2267.5 L669.5 2266.9 L671.4 2266.3 L673.3 2265.6 L675.1 2264.9 L676.8 2264.3 L678.5 2263.8 L680 2263.2 L682.8 2262.3 L685.4 2261.5 L687.7 2260.7 L689.8 2259.9 L691.7 2259 L693.5 2258.3 L695.2 2257.7 L696.8 2257.3 L698.4 2257.1 L700 2257.1 L701.9 2256.8 L703.7 2256 L705.3 2254.8 L706.9 2253.2 L708.3 2251.3 L709.8 2249.5 L711.3 2248.1 L712.8 2247.4 L714.2 2247.6 L715.6 2248.8 L717 2250.8 L718.4 2253.5 L719.9 2256.6 L721.3 2259.8 L722.7 2262.7 L724.1 2264.9 L725.5 2266.1 L727.1 2266.1 L728.7 2264.8 L730.3 2262.5 L731.9 2259.7 L733.5 2256.7 L735.1 2254.1 L736.7 2252.2 L738.3 2251.5 L740.4 2251.7 L742.5 2252.4 L744.6 2253 L746.8 2253.1 L748.9 2252.3 L751 2251 L752.8 2250.2 L754.7 2249.9 L756.5 2250.6 L758.3 2252.2 L760.1 2254.4 L762 2256.8 L763.8 2258.8 L765.9 2260.1 L768 2260.2 L770.1 2259.5 L772.3 2258.5 L774.4 2257.6 L776.5 2257.3 L778.6 2258.1 L780.8 2259.6 L782.9 2261.3 L785 2262.8 L787.2 2263.7 L789.3 2263.7 L790.9 2263 L792.5 2261.9 L794.1 2260.6 L795.6 2259.1 L797.2 2257.4 L798.8 2255.7 L800.4 2253.9 L802 2252.1 L803.4 2250.6 L804.8 2248.9 L806.3 2247.2 L807.7 2245.5 L809.1 2244 L810.5 2242.6 L812 2241.1 L813.4 2239.5 L814.8 2237.8 L816.1 2236.3 L817.4 2234.8 L818.7 2233.3 L820 2231.8 L821.4 2230.3 L822.7 2228.8 L823.9 2227.2 L825.2 2225.6 L826.4 2223.8 L827.6 2222 L828.6 2220.4 L829.5 2218.8 L830.4 2217.2 L831.3 2215.5 L832.2 2213.7 L833 2212 L833.9 2210.1 L834.7 2208.3 L835.5 2206.3 L836.3 2204.3 L837.1 2202.2 L837.9 2200 L838.5 2198.3 L839 2196.6 L839.5 2194.8 L840 2192.9 L840.5 2191 L841 2189.1 L841.5 2187.1 L842 2185.2 L842.5 2183.1 L842.9 2181.1 L843.4 2179 L843.9 2177 L844.4 2174.9 L844.9 2172.8 L845.4 2170.7 L845.9 2168.6 L846.4 2166.7 L846.9 2164.8 L847.4 2162.9 L847.8 2161 L848.4 2159 L848.9 2157 L849.4 2155 L849.9 2153 L850.4 2151 L850.9 2149 L851.4 2147 L851.9 2145 L852.4 2142.9 L852.9 2140.9 L853.4 2138.9 L853.9 2136.9 L854.3 2134.9 L854.8 2132.9 L855.2 2130.9 L855.7 2128.9 L856.1 2126.8 L856.5 2124.8 L857 2122.7 L857.4 2120.6 L857.8 2118.6 L858.2 2116.5 L858.6 2114.4 L859 2112.4 L859.4 2110.4 L859.7 2108.4 L860.1 2106.4 L860.5 2104.4 L860.9 2102.5 L861.3 2100.7 L861.6 2098.9 L862 2097.1 L862.5 2094.7 L863 2092.5 L863.5 2090.3 L864 2088.2 L864.5 2086.2 L865 2084.2 L865.4 2082.2 L865.9 2080.3 L866.4 2078.3 L866.8 2076.4 L867.3 2074.4 L867.8 2072.4 L868.2 2070.4 L868.6 2068.3 L869.1 2066.2 L869.5 2064 L869.9 2061.9 L870.3 2059.7 L870.8 2057.5 L871.2 2055.4 L871.6 2053.3 L872 2051.2 L872.4 2049.2 L872.8 2047.2 L873.2 2045.4 L873.6 2043.6 L874.2 2041.2 L874.8 2038.9 L875.3 2036.8 L875.9 2034.8 L876.5 2032.9 L877.1 2031 L877.7 2029.2 L878.3 2027.4 L878.9 2025.7 L879.8 2023.5 L880.7 2021.4 L881.6 2019.4 L882.5 2017.5 L883.4 2015.7 L884.3 2013.9 L885.2 2012.3 L886.3 2010.1 L887.3 2008.1 L888.4 2006.2 L889.4 2004.7 L890.5 2003.4 L892.6 2002 L894.7 2001.3 L896.8 2001.6 L898.2 2002.3 L899.6 2003.5 L900.9 2005.3 L902.1 2007.9 L902.6 2009.4 L903.2 2011.1 L903.7 2013.1 L904.3 2015.1 L904.8 2017.3 L905.3 2019.5 L905.7 2021.7 L906.2 2023.8 L906.6 2025.7 L907 2027.9 L907.3 2029.8 L907.6 2031.6 L907.8 2033.5 L908.1 2035.6 L908.6 2038.2 L909.2 2041.3 L909.5 2042.8 L909.9 2044.5 L910.2 2046.3 L910.6 2048.2 L911.1 2050.2 L911.5 2052.2 L912 2054.4 L912.4 2056.5 L912.9 2058.7 L913.4 2060.9 L913.9 2063 L914.4 2065.1 L914.9 2067.2 L915.4 2069.2 L915.9 2071.1 L916.3 2072.9 L916.8 2074.5 L917.6 2077.1 L918.3 2079.6 L919 2081.9 L919.8 2084.1 L920.5 2086.1 L921.2 2088.1 L922 2089.9 L922.8 2091.7 L923.6 2093.3 L924.5 2094.9 L925.8 2096.9 L927.3 2098.6 L928.8 2100 L930.4 2101.3 L931.9 2102.5 L933.4 2103.7 L934.7 2105.1 L936.1 2107 L937.4 2109.1 L938.7 2111.2 L939.9 2113 L941.1 2114.5 L942.3 2115.3 L944.2 2116 L946.1 2116.1 L948.1 2114.5 L950 2110.2 L950.4 2109 L950.7 2107.6 L951.1 2106 L951.4 2104.3 L951.8 2102.4 L952.1 2100.4 L952.5 2098.3 L952.8 2096.2 L953.2 2093.9 L953.5 2091.6 L953.9 2089.3 L954.2 2087 L954.6 2084.6 L954.9 2082.3 L955.3 2080 L955.6 2077.8 L956 2075.7 L956.3 2073.7 L956.7 2071.7 L957 2069.9 L957.4 2068.3 L957.7 2066.8 L958.5 2063.7 L959.4 2061.1 L960.2 2058.9 L961.1 2057 L961.9 2055.3 L962.8 2053.8 L963.6 2052.3 L964.5 2050.7 L965.3 2049 L966.3 2047.1 L967.2 2045.5 L968.2 2044 L969.1 2042.5 L970.1 2040.8 L971.1 2038.9 L972 2036.6 L973 2033.7 L973.4 2032.2 L973.8 2030.6 L974.3 2028.9 L974.7 2027.1 L975.1 2025.2 L975.5 2023.2 L976 2021.2 L976.4 2019.1 L976.8 2017 L977.2 2014.8 L977.6 2012.6 L978.1 2010.5 L978.5 2008.3 L978.9 2006.2 L979.3 2004 L979.8 2002 L980.2 2000 L980.6 1998 L981 1996 L981.5 1994.2 L981.9 1992.4 L982.4 1990.6 L982.8 1988.9 L983.3 1987.3 L983.7 1985.6 L984.2 1983.9 L984.6 1982.2 L985 1980.4 L985.5 1978.6 L986 1976.6 L986.4 1974.5 L986.9 1972.4 L987.3 1970 L987.8 1967.5 L988.3 1964.8 L988.6 1963.2 L988.8 1961.5 L989.1 1959.8 L989.4 1958 L989.7 1956.1 L990 1954.1 L990.3 1952.1 L990.6 1950.1 L990.9 1947.9 L991.1 1945.8 L991.4 1943.6 L991.7 1941.4 L992 1939.2 L992.3 1937 L992.6 1934.7 L992.9 1932.5 L993.2 1930.2 L993.5 1928 L993.8 1925.8 L994.1 1923.6 L994.4 1921.4 L994.7 1919.3 L995 1917.2 L995.3 1915.2 L995.5 1913.2 L995.8 1911.3 L996.1 1909.4 L996.3 1907.6 L996.6 1905.9 L996.9 1904.2 L997.1 1902.7 L997.6 1899.7 L998.1 1897 L998.5 1894.5 L998.9 1892.3 L999.4 1890.1 L999.8 1888.2 L1000.2 1886.3 L1000.6 1884.5 L1001 1882.8 L1001.3 1881.1 L1001.7 1879.4 L1002.1 1877.6 L1002.5 1875.8 L1002.9 1874 L1003.3 1872 L1003.7 1869.9 L1004.1 1867.9 L1004.5 1865.8 L1005 1863.7 L1005.4 1861.6 L1005.8 1859.5 L1006.2 1857.4 L1006.6 1855.3 L1007 1853.3 L1007.4 1851.2 L1007.8 1849.2 L1008.2 1847.2 L1008.6 1845.2 L1009 1843.3 L1009.4 1841.4 L1009.8 1839.2 L1010.2 1837 L1010.6 1834.9 L1011 1832.7 L1011.4 1830.5 L1011.8 1828.4 L1012.2 1826.4 L1012.6 1824.4 L1013 1822.5 L1013.3 1820.6 L1013.7 1818.9 L1014.1 1817.3 L1014.5 1815.9 L1015.5 1812.7 L1016.6 1810.3 L1017.6 1808.4 L1018.6 1806.9 L1019.6 1805.7 L1021.6 1804.2 L1023.7 1804.7 L1025.4 1805.9 L1027.1 1807.8 L1028.8 1810.8 L1029.4 1812.5 L1030.1 1814.5 L1030.7 1816.7 L1031.3 1819.1 L1031.8 1821.5 L1032.4 1823.8 L1032.9 1826.1 L1033.4 1828.2 L1033.9 1830.3 L1034.3 1832.4 L1034.7 1834.5 L1035.1 1836.7 L1035.5 1838.9 L1035.9 1841.4 L1036.1 1843.2 L1036.4 1845 L1036.6 1846.8 L1036.8 1848.7 L1037 1850.6 L1037.1 1852.7 L1037.3 1854.8 L1037.5 1857 L1037.8 1859.3 L1038 1861.8 L1038.2 1863.5 L1038.4 1865.4 L1038.6 1867.3 L1038.8 1869.2 L1039 1871.2 L1039.2 1873.3 L1039.4 1875.4 L1039.6 1877.5 L1039.8 1879.7 L1040 1881.8 L1040.2 1884 L1040.4 1886.1 L1040.6 1888.2 L1040.8 1890.3 L1041 1892.4 L1041.2 1894.5 L1041.3 1896.5 L1041.5 1898.6 L1041.6 1900.7 L1041.8 1902.8 L1041.9 1904.9 L1042 1906.9 L1042.2 1909 L1042.3 1911.1 L1042.4 1913.1 L1042.6 1915.2 L1042.7 1917.2 L1042.8 1919.2 L1043 1921.2 L1043.1 1923.1 L1043.3 1925.1 L1043.4 1926.7 L1043.5 1928 L1043.6 1929.1 L1043.8 1930.2 L1043.9 1931.3 L1044 1932.6 L1044.2 1934.2 L1044.3 1936.2 L1044.5 1938.6 L1044.7 1941.6 L1044.9 1945.4 L1045.1 1950 L1045.2 1951.3 L1045.2 1952.7 L1045.3 1954.1 L1045.4 1955.6 L1045.4 1957.1 L1045.5 1958.7 L1045.6 1960.3 L1045.6 1962 L1045.7 1963.8 L1045.8 1965.6 L1045.9 1967.4 L1045.9 1969.3 L1046 1971.2 L1046.1 1973.2 L1046.2 1975.2 L1046.3 1977.2 L1046.3 1979.3 L1046.4 1981.4 L1046.5 1983.5 L1046.6 1985.7 L1046.7 1987.8 L1046.8 1990 L1046.8 1992.2 L1046.9 1994.5 L1047 1996.7 L1047.1 1999 L1047.2 2001.2 L1047.3 2003.5 L1047.4 2005.7 L1047.5 2008 L1047.6 2010.3 L1047.6 2012.6 L1047.7 2014.8 L1047.8 2017.1 L1047.9 2019.3 L1048 2021.6 L1048.1 2023.8 L1048.2 2026 L1048.3 2028.2 L1048.4 2030.4 L1048.5 2032.5 L1048.6 2034.7 L1048.7 2036.8 L1048.8 2038.8 L1048.9 2040.9 L1048.9 2042.9 L1049 2044.9 L1049.1 2046.8 L1049.2 2048.7 L1049.3 2050.5 L1049.4 2052.3 L1049.5 2054.1 L1049.6 2056.5 L1049.8 2058.8 L1049.9 2061.1 L1050 2063.4 L1050.1 2065.6 L1050.3 2067.8 L1050.4 2070 L1050.5 2072.1 L1050.7 2074.3 L1050.8 2076.4 L1051 2078.5 L1051.1 2080.5 L1051.2 2082.6 L1051.4 2084.6 L1051.5 2086.6 L1051.7 2088.6 L1051.8 2090.6 L1051.9 2092.6 L1052.1 2094.5 L1052.2 2096.5 L1052.4 2098.4 L1052.5 2100.3 L1052.6 2102.2 L1052.8 2104.1 L1052.9 2106 L1053 2107.9 L1053.2 2109.8 L1053.3 2111.7 L1053.5 2113.6 L1053.6 2115.4 L1053.7 2117.3 L1053.8 2119.2 L1054 2121.1 L1054.1 2123 L1054.2 2124.9 L1054.4 2126.8 L1054.5 2128.7 L1054.6 2130.6 L1054.7 2132.8 L1054.9 2134.9 L1055 2137.1 L1055.1 2139.3 L1055.2 2141.5 L1055.3 2143.7 L1055.5 2145.9 L1055.6 2148.1 L1055.7 2150.3 L1055.8 2152.5 L1055.9 2154.7 L1056 2156.9 L1056.1 2159.1 L1056.2 2161.2 L1056.3 2163.4 L1056.4 2165.6 L1056.5 2167.7 L1056.6 2169.8 L1056.7 2171.9 L1056.9 2174 L1057 2176.1 L1057.1 2178.1 L1057.2 2180.1 L1057.3 2182.1 L1057.4 2184.1 L1057.5 2186 L1057.7 2187.9 L1057.8 2189.7 L1057.9 2191.5 L1058 2193.3 L1058.2 2195.1 L1058.3 2196.7 L1058.5 2198.4 L1058.6 2200 L1058.9 2202.8 L1059.1 2205.4 L1059.4 2207.9 L1059.7 2210.3 L1060 2212.7 L1060.3 2214.9 L1060.6 2217 L1060.9 2219 L1061.2 2221 L1061.5 2222.9 L1061.8 2224.7 L1062.1 2226.5 L1062.5 2228.3 L1062.8 2229.9 L1063.2 2231.6 L1063.6 2233.2 L1064 2234.8 L1064.4 2236.4 L1064.8 2238 L1065.5 2240.3 L1066.2 2242 L1067 2243.5 L1067.8 2245.3 L1068.6 2247.4 L1069.5 2249.6 L1070.3 2251.6 L1071.2 2253.7 L1072.1 2255.7 L1073.1 2257.7 L1074 2259.5 L1075 2261.3 L1076.3 2263.4 L1077.5 2265.1 L1078.7 2266.3 L1079.9 2267.3 L1081.4 2268.1 L1083.2 2268.6 L1085.4 2269.3 L1088.3 2270.5 L1089.7 2271.3 L1091.3 2272.2 L1092.9 2273.2 L1094.7 2274.1 L1096.6 2274.9 L1098.5 2275.4 L1100.5 2275.8 L1102.6 2276 L1104.8 2276.1 L1106.9 2276.1 L1109.1 2275.7 L1111.4 2275.1 L1113.6 2274.4 L1115.8 2274 L1118 2273.9 L1120.2 2274.1 L1122.4 2274.4 L1124.5 2274.9 L1126.5 2275.5 L1128.5 2276.4 L1130.5 2277.5 L1132.5 2278.8 L1134.6 2279.8 L1136.6 2280.3 L1138.6 2280 L1140.6 2279.3 L1142.6 2278.2 L1144.6 2277.3 L1146.7 2276.7 L1148.7 2276.7 L1150.7 2277.1 L1152.7 2277.6 L1154.7 2278 L1156.7 2278 L1158.8 2277.5 L1160.8 2276.7 L1162.8 2275.8 L1164.8 2275.1 L1166.8 2274.9 L1168.8 2275.2 L1170.8 2276 L1172.9 2277 L1174.9 2277.9 L1176.9 2278.5 L1178.9 2278.7 L1180.9 2278.8 L1182.9 2278.7 L1185 2278.7 L1187 2278.7 L1189 2279 L1191 2279.4 L1193 2279.7 L1195 2279.9 L1197.1 2279.8 L1199.1 2279.3 L1201.1 2278.5 L1203.1 2277.6 L1205.1 2277 L1207.3 2276.9 L1209.4 2277.5 L1211.6 2278.6 L1213.8 2279.7 L1216.1 2280.5 L1218.3 2280.5 L1220.6 2280 L1222.8 2279.3 L1225 2278.6 L1227.1 2277.9 L1229.2 2277.4 L1231.2 2276.9 L1233.2 2276.4 L1235 2276.1 L1236.8 2275.8 L1238.4 2275.6 L1239.9 2275.5 L1241.3 2275.6 L1243.9 2276.3 L1245.7 2277.7 L1246.9 2279.6 L1247.8 2281.6 L1248.5 2283.7 L1249.5 2285.5 L1250.8 2286.7 L1252.8 2287 L1254.3 2286.8 L1256 2286.4 L1257.7 2285.9 L1259.5 2285.3 L1261.5 2284.7 L1263.5 2284 L1265.6 2283.5 L1267.8 2283.2 L1270 2283.5 L1272.3 2284.1 L1274.7 2284.5 L1277.1 2284.4 L1279.6 2283.5 L1281.4 2282.7 L1283.2 2281.7 L1285.1 2280.8 L1287 2280.2 L1289 2279.9 L1291.1 2279.7 L1293.1 2279.7 L1295.2 2279.8 L1297.4 2280.1 L1299.5 2280.6 L1301.6 2281.4 L1303.8 2282.1 L1305.9 2282.5 L1308 2282.4 L1310 2281.6 L1312.1 2280.6 L1314.1 2279.7 L1316 2279.2 L1317.9 2279.4 L1319.6 2280.1 L1320.5 2280.6 L1320.8 2280.8 L1320.6 2280.8 L1320.1 2280.7 L1319.6 2280.5 L1319.1 2280.4 L1319 2280.5 L1319.3 2280.8 L1320.2 2281.5 L1322 2282.6 L1324.8 2284.2 L1328.9 2284 L1334.3 2280.6 L1341.3 2281.6 L1350 2283.5 L1351.1 2283 L1352.3 2282.5 L1353.5 2281.9 L1354.8 2281.4 L1356.1 2281 L1357.4 2280.7 L1358.8 2280.4 L1360.1 2280.2 L1361.6 2280.1 L1363 2280 L1364.6 2279.9 L1366.1 2279.9 L1367.7 2280 L1369.3 2280.3 L1370.9 2280.6 L1372.5 2281 L1374.2 2281.4 L1376 2281.8 L1377.7 2282.2 L1379.5 2282.7 L1381.3 2283.3 L1383.1 2283.9 L1385 2284.2 L1386.9 2284.2 L1388.8 2283.6 L1390.8 2282.6 L1392.7 2281.4 L1394.7 2280.4 L1396.7 2279.9 L1398.8 2280.1 L1400.8 2280.7 L1402.9 2281.5 L1405 2282.4 L1407.1 2283 L1409.3 2283.6 L1411.4 2284.1 L1413.6 2284.5 L1415.8 2284.6 L1418 2284.1 L1420.3 2282.9 L1422.5 2281.4 L1424.8 2280.2 L1427 2279.6 L1429.3 2279.9 L1431.6 2280.7 L1434 2281.7 L1436.3 2282.3 L1438.7 2282.4 L1441 2282.1 L1443.4 2281.7 L1445.8 2281.4 L1448.2 2281.4 L1450.6 2281.5 L1453 2281.8 L1455.4 2282.1 L1457.8 2282.5 L1460.2 2283.2 L1462.7 2283.9 L1465.1 2284.4 L1467.6 2284.5 L1470 2284 L1472.5 2283.3 L1475 2282.6 L1477.4 2282.1 L1479.9 2281.8 L1482.4 2281.7 L1484.8 2281.5 L1487.3 2281.4 L1489.8 2281.1 L1492.2 2280.8 L1494.7 2280.7 L1497.2 2280.9 L1499.6 2281.9 L1502.1 2283.1 L1504.6 2284.2 L1507 2284.5 L1509.5 2283.8 L1511.9 2282.5 L1514.4 2281.2 L1516.8 2280.6 L1519.2 2281 L1521.6 2281.9 L1524.1 2283 L1526.5 2283.9 L1528.8 2284.6 L1531.2 2285.1 L1533.6 2285.5 L1536 2285.7 L1538.3 2285.6 L1540.6 2285.1 L1543 2284.5 L1545.3 2284 L1547.6 2283.9 L1549.9 2284.3 L1552.1 2284.8 L1554.4 2285.3 L1556.6 2285.2 L1558.8 2284.5 L1561 2283.2 L1563.2 2281.9 L1565.4 2280.9 L1567.5 2280.6 L1569.7 2281 L1571.8 2281.8 L1573.8 2282.7 L1575.9 2283.3 L1577.9 2283.7 L1580 2283.8 L1582 2283.9 L1583.9 2283.8 L1585.9 2283.6 L1587.8 2283.3 L1589.7 2282.7 L1591.6 2281.9 L1593.4 2281.1 L1595.2 2280.6 L1597 2280.4 L1598.8 2280.5 L1600.5 2280.9 L1602.2 2281.5 L1603.8 2282 L1605.5 2282.4 L1607.1 2282.6 L1608.7 2282.6 L1610.2 2282.5 L1611.7 2282.4 L1613.2 2282.2 L1614.6 2282 L1616 2281.9 L1617.4 2281.7 L1618.7 2281.6 L1620 2281.4 L1621.3 2281.2 L1622.5 2281 L1623.7 2280.9 L1624.8 2280.8 L1625.9 2280.7 L1627 2280.8 L1628 2280.9" stroke="#ff8000" stroke-width="7.8" fill="none" stroke-linejoin="round" stroke-linecap="butt"/>
<text transform="translate(905.98 147.80) scale(0.9696 1)" font-size="55.81" font-weight="bold" font-family="'Liberation Sans', Arial, sans-serif"><tspan font-weight="normal">T</tspan></text>
<text transform="translate(938.80 166.89) scale(1.0214 1)" font-size="31.86" font-weight="bold" font-family="'Liberation Sans', Arial, sans-serif"><tspan font-weight="normal">5d</tspan></text>
<text transform="translate(946.88 368.90) scale(0.9652 1)" font-size="56.25" font-weight="bold" font-family="'Liberation Sans', Arial, sans-serif"><tspan font-weight="normal">T</tspan></text>
<text transform="translate(979.76 387.79) scale(1.0225 1)" font-size="31.73" font-weight="bold" font-family="'Liberation Sans', Arial, sans-serif"><tspan font-weight="normal">30d</tspan></text>
<text transform="translate(1496.08 125.89) scale(0.9880 1)" font-size="59.33" font-weight="bold" font-family="'Liberation Sans', Arial, sans-serif">(a)</text>
<line x1="1165.9" y1="183.6" x2="1277.6" y2="183.6" stroke="#000000" stroke-width="8"/>
<line x1="1168.2" y1="248" x2="1279.1" y2="248" stroke="#00ff00" stroke-width="8"/>
<line x1="1169.8" y1="309.8" x2="1281.4" y2="309.8" stroke="#ff00ff" stroke-width="8"/>
<line x1="1171.4" y1="370" x2="1283" y2="370" stroke="#ff8000" stroke-width="8"/>
<line x1="1173.9" y1="438" x2="1285.5" y2="438" stroke="#808000" stroke-width="8"/>
<line x1="1173.9" y1="504" x2="1284.9" y2="504" stroke="#ff0000" stroke-width="8"/>
<line x1="1177.7" y1="566.7" x2="1289.3" y2="566.7" stroke="#0000ff" stroke-width="8"/>
<text transform="translate(1286.46 204.80) scale(0.9466 1)" font-size="50.58" font-weight="bold" font-family="'Liberation Sans', Arial, sans-serif">TPU</text>
<text transform="translate(1292.16 271.00) scale(0.9566 1)" font-size="50.58" font-weight="bold" font-family="'Liberation Sans', Arial, sans-serif">BDB</text>
<text transform="translate(1291.95 330.90) scale(0.9520 1)" font-size="51.02" font-weight="bold" font-family="'Liberation Sans', Arial, sans-serif">DHPM-B</text>
<text transform="translate(1291.95 390.10) scale(0.9511 1)" font-size="51.02" font-weight="bold" font-family="'Liberation Sans', Arial, sans-serif">P(St-<tspan font-style="italic">co</tspan>-FMA)</text>
<text transform="translate(1297.20 451.50) scale(1.0277 1)" font-size="50.40" font-weight="bold" font-family="'Liberation Sans', Arial, sans-serif">6%</text>
<text transform="translate(1373.30 451.70) scale(0.9727 1)" font-size="50.15" font-weight="bold" font-family="'Liberation Sans', Arial, sans-serif">CPSF</text>
<text transform="translate(1291.64 521.00) scale(1.0316 1)" font-size="50.60" font-weight="bold" font-family="'Liberation Sans', Arial, sans-serif">0%</text>
<text transform="translate(1368.26 520.50) scale(1.0136 1)" font-size="47.38" font-weight="bold" font-family="'Liberation Sans', Arial, sans-serif" stroke="#000" stroke-width="1.00"><tspan font-weight="normal">CPSFTPU</tspan></text>
<text transform="translate(1596.52 537.90) scale(0.7080 1)" font-size="30.96" font-weight="bold" font-family="'Liberation Sans', Arial, sans-serif">1</text>
<text transform="translate(1291.79 585.10) scale(1.0294 1)" font-size="50.60" font-weight="bold" font-family="'Liberation Sans', Arial, sans-serif">6%</text>
<text transform="translate(1368.26 584.60) scale(1.0136 1)" font-size="47.38" font-weight="bold" font-family="'Liberation Sans', Arial, sans-serif" stroke="#000" stroke-width="1.00"><tspan font-weight="normal">CPSFTPU</tspan></text>
<text transform="translate(1596.52 602.20) scale(0.7047 1)" font-size="31.11" font-weight="bold" font-family="'Liberation Sans', Arial, sans-serif">1</text>
<text transform="translate(730.40 1202.90) scale(0.9550 1)" font-size="56.40" font-weight="bold" font-family="'Liberation Sans', Arial, sans-serif">Temperature</text>
<text transform="translate(1057.47 1202.88) scale(0.8650 1)" font-size="54.07" font-weight="bold" font-family="'Liberation Sans', Arial, sans-serif">(</text>
<text transform="translate(1083.92 1176.99) scale(1.0343 1)" font-size="31.76" font-weight="bold" font-family="'Liberation Sans', Arial, sans-serif">o</text>
<text transform="translate(1103.40 1203.05) scale(0.9138 1)" font-size="56.07" font-weight="bold" font-family="'Liberation Sans', Arial, sans-serif">C</text>
<text transform="translate(1158.85 1202.88) scale(0.8912 1)" font-size="54.07" font-weight="bold" font-family="'Liberation Sans', Arial, sans-serif">)</text>
<text transform="translate(80.30 722.55) rotate(-90) scale(0.9409 1)" font-size="56.83" font-weight="bold" font-family="'Liberation Sans', Arial, sans-serif">Weight</text>
<text transform="translate(80.09 543.23) rotate(-90) scale(0.8582 1)" font-size="54.50" font-weight="bold" font-family="'Liberation Sans', Arial, sans-serif">(</text>
<text transform="translate(81.05 510.18) rotate(-90) scale(0.8849 1)" font-size="58.13" font-weight="bold" font-family="'Liberation Sans', Arial, sans-serif">%</text>
<text transform="translate(80.09 445.95) rotate(-90) scale(0.8517 1)" font-size="54.50" font-weight="bold" font-family="'Liberation Sans', Arial, sans-serif">)</text>
<text transform="translate(1480.28 1518.95) scale(0.9987 1)" font-size="56.64" font-weight="bold" font-family="'Liberation Sans', Arial, sans-serif">(b)</text>
<line x1="1143" y1="1560.8" x2="1254.6" y2="1560.8" stroke="#000000" stroke-width="8"/>
<line x1="1144.6" y1="1623" x2="1256.5" y2="1623" stroke="#00ff00" stroke-width="8"/>
<line x1="1147.1" y1="1683.3" x2="1258.1" y2="1683.3" stroke="#ff00ff" stroke-width="8"/>
<line x1="1148.1" y1="1741.4" x2="1260.3" y2="1741.4" stroke="#ff8000" stroke-width="8"/>
<line x1="1150.3" y1="1807" x2="1262.5" y2="1807" stroke="#808000" stroke-width="8"/>
<line x1="1150.3" y1="1870.7" x2="1262.5" y2="1870.7" stroke="#ff0000" stroke-width="8"/>
<line x1="1154.1" y1="1931.5" x2="1266" y2="1931.5" stroke="#0000ff" stroke-width="8"/>
<text transform="translate(1263.33 1584.00) scale(0.9511 1)" font-size="52.91" font-weight="bold" font-family="'Liberation Sans', Arial, sans-serif">TPU</text>
<text transform="translate(1269.21 1648.00) scale(0.9552 1)" font-size="53.05" font-weight="bold" font-family="'Liberation Sans', Arial, sans-serif">BDB</text>
<text transform="translate(1269.19 1706.90) scale(0.9637 1)" font-size="52.91" font-weight="bold" font-family="'Liberation Sans', Arial, sans-serif">DHPM-B</text>
<text transform="translate(1269.21 1763.80) scale(0.9626 1)" font-size="52.62" font-weight="bold" font-family="'Liberation Sans', Arial, sans-serif">P(St-<tspan font-style="italic">co</tspan>-FMA)</text>
<text transform="translate(1271.01 1823.40) scale(1.0376 1)" font-size="52.50" font-weight="bold" font-family="'Liberation Sans', Arial, sans-serif">6%</text>
<text transform="translate(1351.11 1823.40) scale(0.9775 1)" font-size="52.03" font-weight="bold" font-family="'Liberation Sans', Arial, sans-serif">CPSF</text>
<text transform="translate(1268.11 1890.90) scale(1.0564 1)" font-size="52.50" font-weight="bold" font-family="'Liberation Sans', Arial, sans-serif">0%</text>
<text transform="translate(1349.04 1890.40) scale(1.0115 1)" font-size="49.85" font-weight="bold" font-family="'Liberation Sans', Arial, sans-serif" stroke="#000" stroke-width="1.00"><tspan font-weight="normal">CPSFTPU</tspan></text>
<text transform="translate(1587.38 1909.30) scale(0.6900 1)" font-size="32.70" font-weight="bold" font-family="'Liberation Sans', Arial, sans-serif">1</text>
<text transform="translate(1268.27 1953.40) scale(1.0541 1)" font-size="52.50" font-weight="bold" font-family="'Liberation Sans', Arial, sans-serif">6%</text>
<text transform="translate(1349.04 1952.90) scale(1.0115 1)" font-size="49.85" font-weight="bold" font-family="'Liberation Sans', Arial, sans-serif" stroke="#000" stroke-width="1.00"><tspan font-weight="normal">CPSFTPU</tspan></text>
<text transform="translate(1587.38 1971.30) scale(0.6961 1)" font-size="32.41" font-weight="bold" font-family="'Liberation Sans', Arial, sans-serif">1</text>
<text transform="translate(714.46 2565.80) scale(0.9733 1)" font-size="58.14" font-weight="bold" font-family="'Liberation Sans', Arial, sans-serif">Temperature</text>
<text transform="translate(1058.38 2566.08) scale(0.8894 1)" font-size="56.97" font-weight="bold" font-family="'Liberation Sans', Arial, sans-serif">(</text>
<text transform="translate(1091.72 2538.26) scale(1.0230 1)" font-size="34.50" font-weight="bold" font-family="'Liberation Sans', Arial, sans-serif">o</text>
<text transform="translate(1113.26 2566.02) scale(0.9249 1)" font-size="59.04" font-weight="bold" font-family="'Liberation Sans', Arial, sans-serif">C</text>
<text transform="translate(1171.75 2566.08) scale(0.8894 1)" font-size="56.97" font-weight="bold" font-family="'Liberation Sans', Arial, sans-serif">)</text>
<text transform="translate(133.00 2228.48) rotate(-90) scale(0.9553 1)" font-size="59.16" font-weight="bold" font-family="'Liberation Sans', Arial, sans-serif">Deriv.</text>
<text transform="translate(134.00 2055.65) rotate(-90) scale(0.9204 1)" font-size="61.05" font-weight="bold" font-family="'Liberation Sans', Arial, sans-serif">Weight</text>
<text transform="translate(132.87 1867.49) rotate(-90) scale(0.8837 1)" font-size="56.54" font-weight="bold" font-family="'Liberation Sans', Arial, sans-serif">(</text>
<text transform="translate(133.53 1833.05) rotate(-90) scale(0.9056 1)" font-size="59.83" font-weight="bold" font-family="'Liberation Sans', Arial, sans-serif">%</text>
<text transform="translate(132.87 1784.58) rotate(-90) scale(1.0545 1)" font-size="56.54" font-weight="bold" font-family="'Liberation Sans', Arial, sans-serif">/</text>
<text transform="translate(104.97 1768.61) rotate(-90) scale(1.0005 1)" font-size="33.59" font-weight="bold" font-family="'Liberation Sans', Arial, sans-serif">o</text>
<text transform="translate(132.93 1747.20) rotate(-90) scale(0.9111 1)" font-size="58.76" font-weight="bold" font-family="'Liberation Sans', Arial, sans-serif">C</text>
<text transform="translate(132.87 1688.85) rotate(-90) scale(0.8711 1)" font-size="56.54" font-weight="bold" font-family="'Liberation Sans', Arial, sans-serif">)</text>
<rect x="271.2" y="40.1" width="1363.4" height="999.6" fill="none" stroke="#000" stroke-width="4"/>
<line x1="271.2" y1="1039.7" x2="271.2" y2="1061.7" stroke="#000" stroke-width="3.8"/>
<line x1="356.4" y1="1039.7" x2="356.4" y2="1051.7" stroke="#000" stroke-width="3.8"/>
<line x1="441.6" y1="1039.7" x2="441.6" y2="1061.7" stroke="#000" stroke-width="3.8"/>
<line x1="526.8" y1="1039.7" x2="526.8" y2="1051.7" stroke="#000" stroke-width="3.8"/>
<line x1="612" y1="1039.7" x2="612" y2="1061.7" stroke="#000" stroke-width="3.8"/>
<line x1="697.3" y1="1039.7" x2="697.3" y2="1051.7" stroke="#000" stroke-width="3.8"/>
<line x1="782.5" y1="1039.7" x2="782.5" y2="1061.7" stroke="#000" stroke-width="3.8"/>
<line x1="867.7" y1="1039.7" x2="867.7" y2="1051.7" stroke="#000" stroke-width="3.8"/>
<line x1="952.9" y1="1039.7" x2="952.9" y2="1061.7" stroke="#000" stroke-width="3.8"/>
<line x1="1038.1" y1="1039.7" x2="1038.1" y2="1051.7" stroke="#000" stroke-width="3.8"/>
<line x1="1123.3" y1="1039.7" x2="1123.3" y2="1061.7" stroke="#000" stroke-width="3.8"/>
<line x1="1208.5" y1="1039.7" x2="1208.5" y2="1051.7" stroke="#000" stroke-width="3.8"/>
<line x1="1293.7" y1="1039.7" x2="1293.7" y2="1061.7" stroke="#000" stroke-width="3.8"/>
<line x1="1379" y1="1039.7" x2="1379" y2="1051.7" stroke="#000" stroke-width="3.8"/>
<line x1="1464.2" y1="1039.7" x2="1464.2" y2="1061.7" stroke="#000" stroke-width="3.8"/>
<line x1="1549.4" y1="1039.7" x2="1549.4" y2="1051.7" stroke="#000" stroke-width="3.8"/>
<line x1="1634.6" y1="1039.7" x2="1634.6" y2="1061.7" stroke="#000" stroke-width="3.8"/>
<line x1="271.2" y1="1039.7" x2="249.2" y2="1039.7" stroke="#000" stroke-width="3.8"/>
<line x1="271.2" y1="948.8" x2="259.2" y2="948.8" stroke="#000" stroke-width="3.8"/>
<line x1="271.2" y1="858" x2="249.2" y2="858" stroke="#000" stroke-width="3.8"/>
<line x1="271.2" y1="767.1" x2="259.2" y2="767.1" stroke="#000" stroke-width="3.8"/>
<line x1="271.2" y1="676.2" x2="249.2" y2="676.2" stroke="#000" stroke-width="3.8"/>
<line x1="271.2" y1="585.4" x2="259.2" y2="585.4" stroke="#000" stroke-width="3.8"/>
<line x1="271.2" y1="494.5" x2="249.2" y2="494.5" stroke="#000" stroke-width="3.8"/>
<line x1="271.2" y1="403.6" x2="259.2" y2="403.6" stroke="#000" stroke-width="3.8"/>
<line x1="271.2" y1="312.7" x2="249.2" y2="312.7" stroke="#000" stroke-width="3.8"/>
<line x1="271.2" y1="221.9" x2="259.2" y2="221.9" stroke="#000" stroke-width="3.8"/>
<line x1="271.2" y1="131" x2="249.2" y2="131" stroke="#000" stroke-width="3.8"/>
<line x1="271.2" y1="40.1" x2="259.2" y2="40.1" stroke="#000" stroke-width="3.8"/>
<text transform="translate(271.2 1108.3) scale(0.946 1.0)" font-size="45.8" font-weight="bold" text-anchor="middle" font-family="'Liberation Sans', Arial, sans-serif">0</text>
<text transform="translate(441.6 1108.3) scale(0.946 1.0)" font-size="45.8" font-weight="bold" text-anchor="middle" font-family="'Liberation Sans', Arial, sans-serif">100</text>
<text transform="translate(612 1108.3) scale(0.946 1.0)" font-size="45.8" font-weight="bold" text-anchor="middle" font-family="'Liberation Sans', Arial, sans-serif">200</text>
<text transform="translate(782.5 1108.3) scale(0.946 1.0)" font-size="45.8" font-weight="bold" text-anchor="middle" font-family="'Liberation Sans', Arial, sans-serif">300</text>
<text transform="translate(952.9 1108.3) scale(0.946 1.0)" font-size="45.8" font-weight="bold" text-anchor="middle" font-family="'Liberation Sans', Arial, sans-serif">400</text>
<text transform="translate(1123.3 1108.3) scale(0.946 1.0)" font-size="45.8" font-weight="bold" text-anchor="middle" font-family="'Liberation Sans', Arial, sans-serif">500</text>
<text transform="translate(1293.7 1108.3) scale(0.946 1.0)" font-size="45.8" font-weight="bold" text-anchor="middle" font-family="'Liberation Sans', Arial, sans-serif">600</text>
<text transform="translate(1464.2 1108.3) scale(0.946 1.0)" font-size="45.8" font-weight="bold" text-anchor="middle" font-family="'Liberation Sans', Arial, sans-serif">700</text>
<text transform="translate(1634.6 1108.3) scale(0.946 1.0)" font-size="45.8" font-weight="bold" text-anchor="middle" font-family="'Liberation Sans', Arial, sans-serif">800</text>
<text transform="translate(234.5 1052) scale(0.946 1.0)" font-size="45.8" font-weight="bold" text-anchor="end" font-family="'Liberation Sans', Arial, sans-serif">0</text>
<text transform="translate(234.5 870.3) scale(0.946 1.0)" font-size="45.8" font-weight="bold" text-anchor="end" font-family="'Liberation Sans', Arial, sans-serif">20</text>
<text transform="translate(234.5 688.5) scale(0.946 1.0)" font-size="45.8" font-weight="bold" text-anchor="end" font-family="'Liberation Sans', Arial, sans-serif">40</text>
<text transform="translate(234.5 506.8) scale(0.946 1.0)" font-size="45.8" font-weight="bold" text-anchor="end" font-family="'Liberation Sans', Arial, sans-serif">60</text>
<text transform="translate(234.5 325) scale(0.946 1.0)" font-size="45.8" font-weight="bold" text-anchor="end" font-family="'Liberation Sans', Arial, sans-serif">80</text>
<text transform="translate(234.5 143.3) scale(0.946 1.0)" font-size="45.8" font-weight="bold" text-anchor="end" font-family="'Liberation Sans', Arial, sans-serif">100</text>
<rect x="270.8" y="1425.9" width="1361.2" height="968.4" fill="none" stroke="#000" stroke-width="4"/>
<line x1="270.8" y1="2394.3" x2="270.8" y2="2417.3" stroke="#000" stroke-width="3.8"/>
<line x1="355.9" y1="2394.3" x2="355.9" y2="2406.3" stroke="#000" stroke-width="3.8"/>
<line x1="441" y1="2394.3" x2="441" y2="2417.3" stroke="#000" stroke-width="3.8"/>
<line x1="526" y1="2394.3" x2="526" y2="2406.3" stroke="#000" stroke-width="3.8"/>
<line x1="611.1" y1="2394.3" x2="611.1" y2="2417.3" stroke="#000" stroke-width="3.8"/>
<line x1="696.2" y1="2394.3" x2="696.2" y2="2406.3" stroke="#000" stroke-width="3.8"/>
<line x1="781.2" y1="2394.3" x2="781.2" y2="2417.3" stroke="#000" stroke-width="3.8"/>
<line x1="866.3" y1="2394.3" x2="866.3" y2="2406.3" stroke="#000" stroke-width="3.8"/>
<line x1="951.4" y1="2394.3" x2="951.4" y2="2417.3" stroke="#000" stroke-width="3.8"/>
<line x1="1036.5" y1="2394.3" x2="1036.5" y2="2406.3" stroke="#000" stroke-width="3.8"/>
<line x1="1121.5" y1="2394.3" x2="1121.5" y2="2417.3" stroke="#000" stroke-width="3.8"/>
<line x1="1206.6" y1="2394.3" x2="1206.6" y2="2406.3" stroke="#000" stroke-width="3.8"/>
<line x1="1291.7" y1="2394.3" x2="1291.7" y2="2417.3" stroke="#000" stroke-width="3.8"/>
<line x1="1376.8" y1="2394.3" x2="1376.8" y2="2406.3" stroke="#000" stroke-width="3.8"/>
<line x1="1461.8" y1="2394.3" x2="1461.8" y2="2417.3" stroke="#000" stroke-width="3.8"/>
<line x1="1546.9" y1="2394.3" x2="1546.9" y2="2406.3" stroke="#000" stroke-width="3.8"/>
<line x1="1632" y1="2394.3" x2="1632" y2="2417.3" stroke="#000" stroke-width="3.8"/>
<line x1="270.8" y1="2394.3" x2="258.3" y2="2394.3" stroke="#000" stroke-width="3.8"/>
<line x1="270.8" y1="2286.7" x2="247.8" y2="2286.7" stroke="#000" stroke-width="3.8"/>
<line x1="270.8" y1="2179.1" x2="258.3" y2="2179.1" stroke="#000" stroke-width="3.8"/>
<line x1="270.8" y1="2071.5" x2="247.8" y2="2071.5" stroke="#000" stroke-width="3.8"/>
<line x1="270.8" y1="1963.9" x2="258.3" y2="1963.9" stroke="#000" stroke-width="3.8"/>
<line x1="270.8" y1="1856.3" x2="247.8" y2="1856.3" stroke="#000" stroke-width="3.8"/>
<line x1="270.8" y1="1748.7" x2="258.3" y2="1748.7" stroke="#000" stroke-width="3.8"/>
<line x1="270.8" y1="1641.1" x2="247.8" y2="1641.1" stroke="#000" stroke-width="3.8"/>
<line x1="270.8" y1="1533.5" x2="258.3" y2="1533.5" stroke="#000" stroke-width="3.8"/>
<line x1="270.8" y1="1425.9" x2="247.8" y2="1425.9" stroke="#000" stroke-width="3.8"/>
<text transform="translate(270.8 2465) scale(0.946 1.0)" font-size="48.2" font-weight="bold" text-anchor="middle" font-family="'Liberation Sans', Arial, sans-serif">0</text>
<text transform="translate(441 2465) scale(0.946 1.0)" font-size="48.2" font-weight="bold" text-anchor="middle" font-family="'Liberation Sans', Arial, sans-serif">100</text>
<text transform="translate(611.1 2465) scale(0.946 1.0)" font-size="48.2" font-weight="bold" text-anchor="middle" font-family="'Liberation Sans', Arial, sans-serif">200</text>
<text transform="translate(781.2 2465) scale(0.946 1.0)" font-size="48.2" font-weight="bold" text-anchor="middle" font-family="'Liberation Sans', Arial, sans-serif">300</text>
<text transform="translate(951.4 2465) scale(0.946 1.0)" font-size="48.2" font-weight="bold" text-anchor="middle" font-family="'Liberation Sans', Arial, sans-serif">400</text>
<text transform="translate(1121.5 2465) scale(0.946 1.0)" font-size="48.2" font-weight="bold" text-anchor="middle" font-family="'Liberation Sans', Arial, sans-serif">500</text>
<text transform="translate(1291.7 2465) scale(0.946 1.0)" font-size="48.2" font-weight="bold" text-anchor="middle" font-family="'Liberation Sans', Arial, sans-serif">600</text>
<text transform="translate(1461.8 2465) scale(0.946 1.0)" font-size="48.2" font-weight="bold" text-anchor="middle" font-family="'Liberation Sans', Arial, sans-serif">700</text>
<text transform="translate(1632 2465) scale(0.946 1.0)" font-size="48.2" font-weight="bold" text-anchor="middle" font-family="'Liberation Sans', Arial, sans-serif">800</text>
<text transform="translate(233.3 2299.3) scale(0.946 1.0)" font-size="48.2" font-weight="bold" text-anchor="end" font-family="'Liberation Sans', Arial, sans-serif">0.0</text>
<text transform="translate(233.3 2084.1) scale(0.946 1.0)" font-size="48.2" font-weight="bold" text-anchor="end" font-family="'Liberation Sans', Arial, sans-serif">0.5</text>
<text transform="translate(233.3 1868.9) scale(0.946 1.0)" font-size="48.2" font-weight="bold" text-anchor="end" font-family="'Liberation Sans', Arial, sans-serif">1.0</text>
<text transform="translate(233.3 1653.7) scale(0.946 1.0)" font-size="48.2" font-weight="bold" text-anchor="end" font-family="'Liberation Sans', Arial, sans-serif">1.5</text>
<text transform="translate(233.3 1438.5) scale(0.946 1.0)" font-size="48.2" font-weight="bold" text-anchor="end" font-family="'Liberation Sans', Arial, sans-serif">2.0</text>
</svg>
</body></html>
